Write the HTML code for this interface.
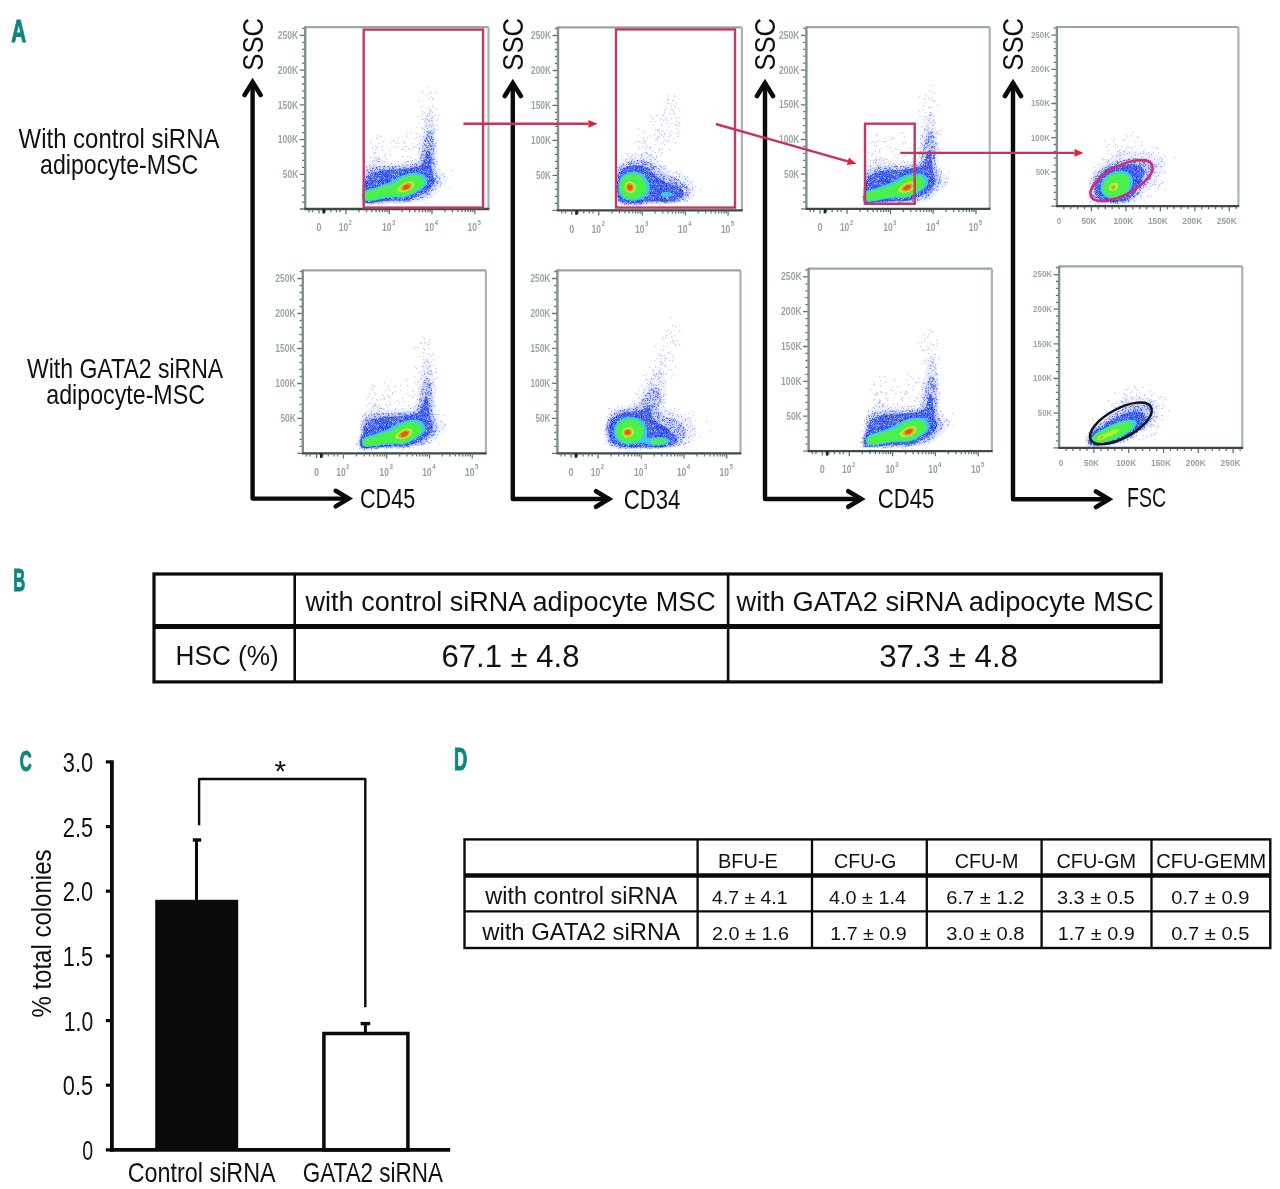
<!DOCTYPE html>
<html><head><meta charset="utf-8"><title>Figure</title>
<style>html,body{margin:0;padding:0;background:#fff;}svg{display:block;}
text{font-family:"Liberation Sans", Arial, Helvetica, sans-serif;}</style></head>
<body><svg width="1280" height="1189" viewBox="0 0 1280 1189">
<rect width="1280" height="1189" fill="#fff"/>
<defs>
<pattern id="pl0" patternUnits="userSpaceOnUse" width="29" height="23">
<rect width="29" height="23" fill="#eef0fd"/>
<path d="M23 21h1v1h-1zM2 0h1v1h-1zM5 1h1v1h-1zM6 22h1v1h-1zM5 21h1v1h-1zM23 6h1v1h-1zM25 3h1v1h-1zM16 7h1v1h-1zM1 0h1v1h-1zM2 20h1v1h-1zM9 15h1v1h-1zM12 13h1v1h-1zM18 5h1v1h-1zM13 10h1v1h-1zM7 4h1v1h-1zM4 17h1v1h-1zM20 10h1v1h-1zM21 0h1v1h-1zM0 5h1v1h-1zM3 16h1v1h-1zM13 11h1v1h-1zM11 8h1v1h-1zM25 5h1v1h-1zM14 2h1v1h-1zM12 13h1v1h-1zM12 15h1v1h-1zM19 11h1v1h-1zM17 21h1v1h-1zM5 21h1v1h-1zM21 4h1v1h-1zM21 13h1v1h-1zM27 14h1v1h-1zM22 5h1v1h-1zM8 6h1v1h-1zM9 11h1v1h-1zM18 17h1v1h-1zM18 6h1v1h-1zM20 16h1v1h-1zM25 15h1v1h-1zM8 5h1v1h-1z" fill="#9aa6f4"/>
</pattern>
<pattern id="pl1" patternUnits="userSpaceOnUse" width="27" height="21">
<rect width="27" height="21" fill="#c3cbf8"/>
<path d="M10 19h1v1h-1zM22 14h1v1h-1zM22 0h1v1h-1zM17 4h1v1h-1zM0 15h1v1h-1zM18 11h1v1h-1zM6 19h1v1h-1zM22 14h1v1h-1zM24 17h1v1h-1zM11 1h1v1h-1zM25 6h1v1h-1zM20 14h1v1h-1zM8 13h1v1h-1zM23 7h1v1h-1zM10 3h1v1h-1zM2 12h1v1h-1zM16 1h1v1h-1zM22 14h1v1h-1zM17 16h1v1h-1zM10 14h1v1h-1zM24 1h1v1h-1zM12 10h1v1h-1zM10 6h1v1h-1zM3 11h1v1h-1zM5 14h1v1h-1zM18 4h1v1h-1zM21 0h1v1h-1zM7 10h1v1h-1zM16 13h1v1h-1zM23 2h1v1h-1zM4 19h1v1h-1zM7 10h1v1h-1zM14 20h1v1h-1zM15 11h1v1h-1zM10 15h1v1h-1zM10 16h1v1h-1zM3 10h1v1h-1zM16 8h1v1h-1zM25 14h1v1h-1zM5 0h1v1h-1zM21 12h1v1h-1zM4 11h1v1h-1zM1 3h1v1h-1zM20 4h1v1h-1zM4 0h1v1h-1zM20 15h1v1h-1zM8 14h1v1h-1zM15 8h1v1h-1zM25 20h1v1h-1zM24 7h1v1h-1zM12 6h1v1h-1zM5 19h1v1h-1zM6 1h1v1h-1zM22 8h1v1h-1zM15 0h1v1h-1zM4 7h1v1h-1zM23 15h1v1h-1zM26 7h1v1h-1zM26 10h1v1h-1zM16 10h1v1h-1zM26 1h1v1h-1zM16 1h1v1h-1zM13 6h1v1h-1zM26 11h1v1h-1zM16 1h1v1h-1zM21 19h1v1h-1zM9 17h1v1h-1zM21 11h1v1h-1zM26 15h1v1h-1zM1 15h1v1h-1zM14 0h1v1h-1zM9 19h1v1h-1zM1 1h1v1h-1zM2 17h1v1h-1zM7 17h1v1h-1zM5 15h1v1h-1zM19 2h1v1h-1zM5 17h1v1h-1zM16 20h1v1h-1zM23 17h1v1h-1zM13 14h1v1h-1zM3 5h1v1h-1zM1 11h1v1h-1zM8 10h1v1h-1zM11 18h1v1h-1zM13 7h1v1h-1zM8 8h1v1h-1zM22 5h1v1h-1zM15 10h1v1h-1zM26 12h1v1h-1z" fill="#6a7af0"/>
<path d="M12 13h1v1h-1zM8 11h1v1h-1zM14 13h1v1h-1zM16 19h1v1h-1zM4 19h1v1h-1zM15 2h1v1h-1zM19 16h1v1h-1zM2 8h1v1h-1zM16 17h1v1h-1zM11 14h1v1h-1zM25 1h1v1h-1zM10 18h1v1h-1zM8 19h1v1h-1zM19 20h1v1h-1zM23 1h1v1h-1zM2 3h1v1h-1zM2 13h1v1h-1zM4 11h1v1h-1zM9 1h1v1h-1zM13 18h1v1h-1zM15 4h1v1h-1zM10 1h1v1h-1zM23 18h1v1h-1zM17 12h1v1h-1zM4 0h1v1h-1zM8 3h1v1h-1zM5 18h1v1h-1zM5 16h1v1h-1zM22 18h1v1h-1zM25 19h1v1h-1zM11 6h1v1h-1zM6 11h1v1h-1zM22 7h1v1h-1zM3 0h1v1h-1zM3 4h1v1h-1zM7 1h1v1h-1zM9 2h1v1h-1zM9 8h1v1h-1zM7 19h1v1h-1zM6 17h1v1h-1z" fill="#f4f6fe"/>
</pattern>
<pattern id="pbl" patternUnits="userSpaceOnUse" width="25" height="19">
<rect width="25" height="19" fill="#4f6ef0"/>
<path d="M16 10h1v1h-1zM5 0h1v1h-1zM3 12h1v1h-1zM16 15h1v1h-1zM18 6h1v1h-1zM10 8h1v1h-1zM3 10h1v1h-1zM6 8h1v1h-1zM24 9h1v1h-1zM17 10h1v1h-1zM14 11h1v1h-1zM7 5h1v1h-1zM21 2h1v1h-1zM9 16h1v1h-1zM11 8h1v1h-1zM19 4h1v1h-1zM10 18h1v1h-1zM12 10h1v1h-1zM0 6h1v1h-1zM19 3h1v1h-1zM7 0h1v1h-1zM12 11h1v1h-1zM13 11h1v1h-1zM3 17h1v1h-1zM5 18h1v1h-1zM11 16h1v1h-1zM2 1h1v1h-1zM21 2h1v1h-1zM8 11h1v1h-1zM14 11h1v1h-1zM3 3h1v1h-1zM24 16h1v1h-1zM11 17h1v1h-1zM0 3h1v1h-1zM8 12h1v1h-1zM8 7h1v1h-1zM5 10h1v1h-1zM19 13h1v1h-1zM24 9h1v1h-1zM17 14h1v1h-1zM4 5h1v1h-1zM14 8h1v1h-1zM11 2h1v1h-1zM16 12h1v1h-1zM20 7h1v1h-1zM21 12h1v1h-1zM20 18h1v1h-1zM17 6h1v1h-1zM11 14h1v1h-1zM13 12h1v1h-1zM4 14h1v1h-1zM14 10h1v1h-1zM12 5h1v1h-1zM16 13h1v1h-1zM11 6h1v1h-1zM8 9h1v1h-1zM12 10h1v1h-1zM16 6h1v1h-1zM4 9h1v1h-1zM15 8h1v1h-1zM8 5h1v1h-1zM19 17h1v1h-1zM14 17h1v1h-1zM12 3h1v1h-1zM0 6h1v1h-1zM0 2h1v1h-1zM5 3h1v1h-1zM13 0h1v1h-1zM11 7h1v1h-1zM21 16h1v1h-1zM3 3h1v1h-1zM16 18h1v1h-1zM9 16h1v1h-1zM16 4h1v1h-1zM2 0h1v1h-1zM9 5h1v1h-1zM3 8h1v1h-1zM8 3h1v1h-1zM4 12h1v1h-1zM17 11h1v1h-1zM16 14h1v1h-1zM1 9h1v1h-1zM7 10h1v1h-1zM21 15h1v1h-1zM22 11h1v1h-1zM21 3h1v1h-1zM2 16h1v1h-1zM24 16h1v1h-1zM10 10h1v1h-1zM3 8h1v1h-1zM17 12h1v1h-1zM2 15h1v1h-1zM0 14h1v1h-1zM22 15h1v1h-1zM2 5h1v1h-1zM10 17h1v1h-1zM21 0h1v1h-1zM6 9h1v1h-1zM7 8h1v1h-1zM9 11h1v1h-1zM19 12h1v1h-1zM16 10h1v1h-1zM7 1h1v1h-1zM4 3h1v1h-1zM10 9h1v1h-1zM12 9h1v1h-1zM10 3h1v1h-1zM16 17h1v1h-1zM2 2h1v1h-1zM18 17h1v1h-1z" fill="#2440e0"/>
<path d="M15 2h1v1h-1zM0 6h1v1h-1zM9 16h1v1h-1zM16 8h1v1h-1zM4 12h1v1h-1zM8 8h1v1h-1zM21 3h1v1h-1zM3 17h1v1h-1zM23 2h1v1h-1zM3 2h1v1h-1zM10 7h1v1h-1zM19 17h1v1h-1zM1 9h1v1h-1zM23 0h1v1h-1zM15 17h1v1h-1zM13 17h1v1h-1zM17 9h1v1h-1zM9 6h1v1h-1zM19 3h1v1h-1zM12 13h1v1h-1zM2 1h1v1h-1zM20 0h1v1h-1zM21 18h1v1h-1zM18 8h1v1h-1zM17 7h1v1h-1zM1 12h1v1h-1zM2 0h1v1h-1zM5 11h1v1h-1zM8 5h1v1h-1zM21 15h1v1h-1zM2 7h1v1h-1zM12 2h1v1h-1zM23 8h1v1h-1zM16 7h1v1h-1zM18 11h1v1h-1zM19 11h1v1h-1zM9 0h1v1h-1zM15 0h1v1h-1zM3 8h1v1h-1zM18 15h1v1h-1zM6 13h1v1h-1zM13 7h1v1h-1zM17 13h1v1h-1zM5 4h1v1h-1zM21 6h1v1h-1zM4 4h1v1h-1zM17 6h1v1h-1zM24 12h1v1h-1zM17 3h1v1h-1zM0 0h1v1h-1zM17 13h1v1h-1zM17 4h1v1h-1zM3 7h1v1h-1zM22 5h1v1h-1zM23 4h1v1h-1zM5 4h1v1h-1zM19 4h1v1h-1zM1 13h1v1h-1zM18 8h1v1h-1zM9 11h1v1h-1z" fill="#b4c0f8"/>
</pattern>
</defs>
<text x="11.15" y="42.0" font-size="31.1" font-weight="bold" textLength="14.9" lengthAdjust="spacingAndGlyphs" fill="#0f8580" stroke="#0f8580" stroke-width="1.1">A</text>
<text x="13.35" y="591.0" font-size="30.7" font-weight="bold" textLength="12.0" lengthAdjust="spacingAndGlyphs" fill="#0f8580" stroke="#0f8580" stroke-width="1.1">B</text>
<text x="19.65" y="770.8" font-size="30.2" font-weight="bold" textLength="12.0" lengthAdjust="spacingAndGlyphs" fill="#0f8580" stroke="#0f8580" stroke-width="1.1">C</text>
<text x="453.95" y="770.0" font-size="31.1" font-weight="bold" textLength="13.3" lengthAdjust="spacingAndGlyphs" fill="#0f8580" stroke="#0f8580" stroke-width="1.1">D</text>
<text x="18.60" y="147.5" font-size="28.3" textLength="200.8" lengthAdjust="spacingAndGlyphs" fill="#111">With control siRNA</text>
<text x="40.10" y="174.1" font-size="28.3" textLength="158.1" lengthAdjust="spacingAndGlyphs" fill="#111">adipocyte-MSC</text>
<text x="27.00" y="377.5" font-size="28.3" textLength="196.2" lengthAdjust="spacingAndGlyphs" fill="#111">With GATA2 siRNA</text>
<text x="46.25" y="403.8" font-size="28.3" textLength="158.7" lengthAdjust="spacingAndGlyphs" fill="#111">adipocyte-MSC</text>
<path d="M252.6 81.5 V498.6 H349.2" fill="none" stroke="#0a0a0a" stroke-width="4.4" stroke-linejoin="round"/>
<path d="M244.6 95.0 L252.6 82.1 L260.6 95.0" fill="none" stroke="#0a0a0a" stroke-width="4.6" stroke-linecap="round" stroke-linejoin="miter"/>
<path d="M335.7 490.8 L348.6 498.6 L335.7 506.4" fill="none" stroke="#0a0a0a" stroke-width="4.6" stroke-linecap="round" stroke-linejoin="miter"/>
<text x="360.00" y="508.3" font-size="28.3" textLength="55.2" lengthAdjust="spacingAndGlyphs" fill="#111">CD45</text>
<text transform="translate(263.00 70.70) rotate(-90)" font-size="29.6" textLength="52.7" lengthAdjust="spacingAndGlyphs" fill="#111">SSC</text>
<path d="M512.8 82.5 V499.0 H609.5" fill="none" stroke="#0a0a0a" stroke-width="4.4" stroke-linejoin="round"/>
<path d="M504.8 96.0 L512.8 83.1 L520.8 96.0" fill="none" stroke="#0a0a0a" stroke-width="4.6" stroke-linecap="round" stroke-linejoin="miter"/>
<path d="M596.0 491.2 L608.9 499.0 L596.0 506.8" fill="none" stroke="#0a0a0a" stroke-width="4.6" stroke-linecap="round" stroke-linejoin="miter"/>
<text x="623.80" y="509.2" font-size="28.3" textLength="56.5" lengthAdjust="spacingAndGlyphs" fill="#111">CD34</text>
<text transform="translate(522.80 70.70) rotate(-90)" font-size="29.6" textLength="52.7" lengthAdjust="spacingAndGlyphs" fill="#111">SSC</text>
<path d="M765.0 82.5 V499.0 H861.8" fill="none" stroke="#0a0a0a" stroke-width="4.4" stroke-linejoin="round"/>
<path d="M757.0 96.0 L765.0 83.1 L773.0 96.0" fill="none" stroke="#0a0a0a" stroke-width="4.6" stroke-linecap="round" stroke-linejoin="miter"/>
<path d="M848.3 491.2 L861.2 499.0 L848.3 506.8" fill="none" stroke="#0a0a0a" stroke-width="4.6" stroke-linecap="round" stroke-linejoin="miter"/>
<text x="877.80" y="507.5" font-size="28.3" textLength="56.5" lengthAdjust="spacingAndGlyphs" fill="#111">CD45</text>
<text transform="translate(775.00 70.70) rotate(-90)" font-size="29.6" textLength="52.7" lengthAdjust="spacingAndGlyphs" fill="#111">SSC</text>
<path d="M1013.0 82.5 V499.3 H1109.5" fill="none" stroke="#0a0a0a" stroke-width="4.4" stroke-linejoin="round"/>
<path d="M1005.0 96.0 L1013.0 83.1 L1021.0 96.0" fill="none" stroke="#0a0a0a" stroke-width="4.6" stroke-linecap="round" stroke-linejoin="miter"/>
<path d="M1096.0 491.5 L1108.9 499.3 L1096.0 507.1" fill="none" stroke="#0a0a0a" stroke-width="4.6" stroke-linecap="round" stroke-linejoin="miter"/>
<text x="1127.00" y="507.3" font-size="28.3" textLength="39.2" lengthAdjust="spacingAndGlyphs" fill="#111">FSC</text>
<text transform="translate(1022.80 70.70) rotate(-90)" font-size="29.6" textLength="52.7" lengthAdjust="spacingAndGlyphs" fill="#111">SSC</text>
<path d="M376.2 204.3L374.2 204.5L372.2 204.6L370.2 204.7L368.2 204.8L366.2 204.8L364.2 204.4L363.2 203.7L362.2 202.2L361.7 201.2L361.3 199.2L361.3 197.2L361.3 195.2L361.4 193.2L361.7 191.2L362.2 189.2L362.3 188.2L362.4 186.2L362.5 184.2L362.5 182.2L362.6 180.2L362.6 178.2L362.8 176.2L363.0 174.2L363.2 172.8L363.4 171.2L363.9 169.2L364.3 168.2L365.2 166.4L366.2 165.4L367.2 164.6L368.2 164.0L369.3 163.2L370.5 162.2L371.6 161.2L372.4 160.2L373.2 159.0L374.2 157.2L374.7 156.2L375.2 155.2L377.2 154.8L378.1 156.2L378.8 157.2L379.6 158.2L380.8 159.2L382.2 160.1L383.2 160.5L385.2 161.2L386.2 161.4L388.2 161.6L390.2 161.7L392.2 161.7L394.2 161.6L396.2 161.5L398.2 161.4L400.2 161.3L402.2 161.2L403.2 161.2L405.2 161.0L407.2 160.9L409.2 160.7L411.2 160.5L413.1 160.2L414.2 159.8L415.3 159.2L416.4 158.2L417.2 156.8L417.7 155.2L418.2 153.3L418.4 152.2L418.7 150.2L419.0 148.2L419.2 146.8L419.4 145.2L419.7 143.2L420.1 141.2L420.3 140.2L420.6 138.2L421.0 136.2L421.2 135.2L421.6 133.2L422.1 131.2L422.3 130.2L422.7 128.2L423.2 126.2L423.4 125.2L423.9 123.2L424.2 122.0L424.7 120.2L425.2 118.3L425.6 117.2L426.2 115.3L426.7 114.2L427.2 113.1L428.2 111.7L429.2 111.0L430.2 111.2L431.2 112.3L432.1 114.2L432.5 115.2L433.1 117.2L433.3 118.2L433.8 120.2L434.2 122.2L434.4 123.2L434.7 125.2L435.1 127.2L435.2 128.2L435.6 130.2L435.8 132.2L436.1 134.2L436.2 135.2L436.4 137.2L436.6 139.2L436.8 141.2L437.0 143.2L437.1 145.2L437.1 147.2L437.2 149.2L437.2 150.2L437.3 152.2L437.3 154.2L437.3 156.2L437.4 158.2L437.5 160.2L437.8 162.2L438.1 164.2L438.3 165.2L439.0 167.2L439.5 168.2L440.2 169.3L441.2 170.6L442.2 171.6L443.2 172.4L444.2 173.3L445.3 174.2L446.4 175.2L447.2 176.4L447.8 178.2L447.5 180.2L447.1 181.2L446.2 182.6L445.2 183.9L444.2 185.0L443.2 186.1L442.2 187.1L441.2 188.0L440.2 189.0L439.2 189.9L438.2 190.9L437.2 191.9L436.2 192.8L435.2 193.8L434.2 194.8L433.2 195.7L432.2 196.6L431.2 197.5L430.2 198.2L428.7 199.2L427.2 200.0L426.2 200.4L424.2 201.0L423.2 201.2L421.2 201.6L419.2 201.9L417.4 202.2L416.2 202.4L414.2 202.8L412.2 203.0L410.9 203.2L409.2 203.4L407.2 203.6L405.2 203.8L403.2 203.9L401.2 203.9L399.2 203.9L397.2 203.9L395.2 203.9L393.2 203.8L391.2 203.7L389.2 203.7L387.2 203.7L385.2 203.8L383.2 203.9L381.2 204.0L379.2 204.1L377.2 204.2L376.2 204.3Z" fill="url(#pl0)"/>
<path d="M377.2 203.2L375.2 203.5L373.2 203.7L371.2 203.8L369.2 203.9L367.2 204.0L365.2 203.9L363.8 203.2L362.9 202.2L362.2 200.2L362.0 199.2L361.8 197.2L361.9 195.2L362.2 193.2L362.3 192.2L362.6 190.2L363.0 188.2L363.2 187.0L363.3 185.2L363.4 183.2L363.5 181.2L363.6 179.2L363.7 177.2L363.9 175.2L364.2 173.7L364.7 172.2L365.2 170.9L366.2 169.8L367.3 169.2L369.2 168.4L370.2 168.0L372.2 167.3L373.2 167.0L375.2 166.4L376.4 166.2L378.2 165.9L380.2 165.8L382.2 165.7L384.2 165.7L386.2 165.7L388.2 165.6L390.2 165.6L392.2 165.5L394.2 165.4L396.2 165.3L398.2 165.2L399.2 165.2L401.2 165.1L403.2 164.9L405.2 164.7L407.2 164.6L409.2 164.4L410.6 164.2L412.2 164.0L414.2 163.6L415.7 163.2L417.2 162.5L418.2 161.7L419.2 160.4L419.8 159.2L420.2 158.1L420.7 156.2L421.1 154.2L421.2 153.2L421.5 151.2L421.9 149.2L422.2 147.3L422.4 146.2L422.8 144.2L423.2 142.4L423.5 141.2L424.0 139.2L424.3 138.2L424.9 136.2L425.3 135.2L426.1 133.2L426.6 132.2L427.2 131.2L428.2 130.1L429.9 130.2L430.8 131.2L431.4 132.2L432.1 134.2L432.4 135.2L433.0 137.2L433.2 138.3L433.6 140.2L433.9 142.2L434.1 144.2L434.2 145.2L434.4 147.2L434.5 149.2L434.6 151.2L434.7 153.2L434.7 155.2L434.8 157.2L434.8 159.2L434.9 161.2L435.0 163.2L435.2 165.2L435.3 166.2L435.7 168.2L436.2 170.2L436.6 171.2L437.2 172.9L437.9 174.2L438.6 175.2L439.2 176.2L440.2 177.9L440.6 179.2L440.4 181.2L439.9 182.2L439.2 183.4L438.2 184.7L437.2 185.9L436.2 187.0L435.2 188.1L434.2 189.2L433.3 190.2L432.4 191.2L431.5 192.2L430.5 193.2L429.4 194.2L428.2 195.2L427.2 195.9L426.2 196.5L424.9 197.2L423.2 198.0L422.2 198.3L420.2 199.0L419.2 199.3L417.2 200.0L416.2 200.3L414.2 200.8L412.8 201.2L411.2 201.6L409.2 201.9L407.4 202.2L406.2 202.4L404.2 202.5L402.2 202.6L400.2 202.7L398.2 202.6L396.2 202.6L394.2 202.5L392.2 202.4L390.2 202.4L388.2 202.4L386.2 202.5L384.2 202.6L382.2 202.8L380.2 203.0L378.2 203.1L377.2 203.2Z" fill="url(#pl1)"/>
<path d="M376.2 202.2L374.2 202.5L372.2 202.7L370.2 202.9L368.2 203.0L366.2 203.0L364.2 202.4L363.3 201.2L362.9 200.2L362.6 198.2L362.5 196.2L362.6 194.2L363.0 192.2L363.3 191.2L363.8 189.2L364.2 187.6L364.6 186.2L364.9 184.2L365.1 182.2L365.2 180.6L365.5 179.2L366.1 177.2L366.7 176.2L367.7 175.2L369.2 174.2L370.2 173.7L371.2 173.2L373.2 172.4L374.2 172.0L376.2 171.4L377.2 171.2L379.2 170.8L381.2 170.5L383.2 170.2L384.2 170.1L386.2 170.0L388.2 169.8L390.2 169.7L392.2 169.5L394.2 169.4L396.2 169.3L397.8 169.2L399.2 169.1L401.2 168.9L403.2 168.7L405.2 168.4L407.0 168.2L408.2 168.0L410.2 167.7L412.2 167.5L414.2 167.2L415.2 167.1L417.2 166.7L418.8 166.2L420.2 165.5L421.2 164.8L422.2 163.7L423.2 162.2L423.7 161.2L424.2 159.7L424.6 158.2L425.1 156.2L425.4 155.2L425.9 153.2L426.2 152.2L427.1 150.2L428.2 149.3L429.3 150.2L429.9 152.2L430.2 153.4L430.4 155.2L430.6 157.2L430.7 159.2L430.9 161.2L431.0 163.2L431.2 164.6L431.4 166.2L431.8 168.2L432.1 170.2L432.4 171.2L432.8 173.2L433.2 174.6L433.7 176.2L434.2 177.7L434.6 179.2L434.7 181.2L434.2 182.7L433.5 184.2L432.8 185.2L432.1 186.2L431.2 187.2L430.2 188.4L429.2 189.4L428.2 190.3L427.2 191.2L425.8 192.2L424.3 193.2L423.2 193.8L422.2 194.4L420.4 195.2L419.2 195.8L418.2 196.2L416.2 197.1L415.2 197.5L413.5 198.2L412.2 198.7L410.8 199.2L409.2 199.7L407.2 200.2L406.2 200.4L404.2 200.6L402.2 200.8L400.2 200.8L398.2 200.8L396.2 200.6L394.2 200.5L392.2 200.5L390.2 200.5L388.2 200.7L386.2 200.9L384.2 201.1L383.2 201.2L381.2 201.5L379.2 201.8L377.2 202.1L376.2 202.2Z" fill="url(#pbl)"/>
<path d="M364 203h1.3v1.3h-1.3zM425 202h1.3v1.3h-1.3zM385 204h1.3v1.3h-1.3zM452 170h1.3v1.3h-1.3zM405 162h1.3v1.3h-1.3zM372 161h1.3v1.3h-1.3zM443 173h1.3v1.3h-1.3zM361 199h1.3v1.3h-1.3zM435 193h1.3v1.3h-1.3zM449 187h1.3v1.3h-1.3zM363 202h1.3v1.3h-1.3zM431 196h1.3v1.3h-1.3zM435 164h1.3v1.3h-1.3zM382 203h1.3v1.3h-1.3zM385 204h1.3v1.3h-1.3zM402 164h1.3v1.3h-1.3zM365 161h1.3v1.3h-1.3zM363 176h1.3v1.3h-1.3zM443 173h1.3v1.3h-1.3zM362 188h1.3v1.3h-1.3zM396 203h1.3v1.3h-1.3zM369 204h1.3v1.3h-1.3zM366 166h1.3v1.3h-1.3zM423 142h1.3v1.3h-1.3zM362 172h1.3v1.3h-1.3zM436 163h1.3v1.3h-1.3zM436 142h1.3v1.3h-1.3zM419 143h1.3v1.3h-1.3zM428 125h1.3v1.3h-1.3zM362 185h1.3v1.3h-1.3zM420 156h1.3v1.3h-1.3zM362 202h1.3v1.3h-1.3zM369 167h1.3v1.3h-1.3zM374 160h1.3v1.3h-1.3zM437 129h1.3v1.3h-1.3zM440 184h1.3v1.3h-1.3zM371 204h1.3v1.3h-1.3zM361 190h1.3v1.3h-1.3zM362 187h1.3v1.3h-1.3zM441 174h1.3v1.3h-1.3zM424 112h1.3v1.3h-1.3zM424 129h1.3v1.3h-1.3zM433 137h1.3v1.3h-1.3zM377 146h1.3v1.3h-1.3zM435 146h1.3v1.3h-1.3zM393 141h1.3v1.3h-1.3zM409 149h1.3v1.3h-1.3zM419 123h1.3v1.3h-1.3zM378 143h1.3v1.3h-1.3zM379 159h1.3v1.3h-1.3zM426 122h1.3v1.3h-1.3zM416 133h1.3v1.3h-1.3zM412 143h1.3v1.3h-1.3zM429 110h1.3v1.3h-1.3zM431 111h1.3v1.3h-1.3zM434 128h1.3v1.3h-1.3zM381 146h1.3v1.3h-1.3zM432 98h1.3v1.3h-1.3zM402 156h1.3v1.3h-1.3zM429 125h1.3v1.3h-1.3zM425 119h1.3v1.3h-1.3zM429 109h1.3v1.3h-1.3zM431 92h1.3v1.3h-1.3zM384 161h1.3v1.3h-1.3zM416 137h1.3v1.3h-1.3zM421 119h1.3v1.3h-1.3zM427 94h1.3v1.3h-1.3zM424 129h1.3v1.3h-1.3zM374 157h1.3v1.3h-1.3zM422 118h1.3v1.3h-1.3zM433 134h1.3v1.3h-1.3zM375 149h1.3v1.3h-1.3zM433 107h1.3v1.3h-1.3zM426 116h1.3v1.3h-1.3zM405 146h1.3v1.3h-1.3zM408 148h1.3v1.3h-1.3zM428 107h1.3v1.3h-1.3zM435 92h1.3v1.3h-1.3zM380 136h1.3v1.3h-1.3zM419 134h1.3v1.3h-1.3zM431 125h1.3v1.3h-1.3zM429 127h1.3v1.3h-1.3zM398 137h1.3v1.3h-1.3zM385 157h1.3v1.3h-1.3zM397 141h1.3v1.3h-1.3zM432 123h1.3v1.3h-1.3zM436 120h1.3v1.3h-1.3zM422 128h1.3v1.3h-1.3zM414 138h1.3v1.3h-1.3zM432 131h1.3v1.3h-1.3zM378 161h1.3v1.3h-1.3zM422 111h1.3v1.3h-1.3zM378 159h1.3v1.3h-1.3zM406 136h1.3v1.3h-1.3zM406 146h1.3v1.3h-1.3zM428 130h1.3v1.3h-1.3zM407 156h1.3v1.3h-1.3zM425 118h1.3v1.3h-1.3zM428 98h1.3v1.3h-1.3zM398 143h1.3v1.3h-1.3zM369 143h1.3v1.3h-1.3zM410 157h1.3v1.3h-1.3zM432 117h1.3v1.3h-1.3zM434 132h1.3v1.3h-1.3zM437 118h1.3v1.3h-1.3zM393 140h1.3v1.3h-1.3zM428 87h1.3v1.3h-1.3zM394 146h1.3v1.3h-1.3zM419 136h1.3v1.3h-1.3zM435 114h1.3v1.3h-1.3zM397 146h1.3v1.3h-1.3zM402 149h1.3v1.3h-1.3zM422 113h1.3v1.3h-1.3zM432 120h1.3v1.3h-1.3zM406 134h1.3v1.3h-1.3zM403 141h1.3v1.3h-1.3zM390 142h1.3v1.3h-1.3zM429 124h1.3v1.3h-1.3zM377 161h1.3v1.3h-1.3zM372 147h1.3v1.3h-1.3zM436 129h1.3v1.3h-1.3zM418 100h1.3v1.3h-1.3zM435 188h1.3v1.3h-1.3zM376 160h1.3v1.3h-1.3zM417 116h1.3v1.3h-1.3zM422 138h1.3v1.3h-1.3zM375 146h1.3v1.3h-1.3zM412 146h1.3v1.3h-1.3zM417 144h1.3v1.3h-1.3zM386 159h1.3v1.3h-1.3zM401 149h1.3v1.3h-1.3zM432 105h1.3v1.3h-1.3zM377 137h1.3v1.3h-1.3zM413 147h1.3v1.3h-1.3zM390 155h1.3v1.3h-1.3zM376 147h1.3v1.3h-1.3zM433 131h1.3v1.3h-1.3zM389 150h1.3v1.3h-1.3zM415 146h1.3v1.3h-1.3zM433 130h1.3v1.3h-1.3zM395 143h1.3v1.3h-1.3zM406 134h1.3v1.3h-1.3zM432 112h1.3v1.3h-1.3zM373 165h1.3v1.3h-1.3zM383 141h1.3v1.3h-1.3zM375 164h1.3v1.3h-1.3zM384 155h1.3v1.3h-1.3zM430 109h1.3v1.3h-1.3zM385 153h1.3v1.3h-1.3zM370 157h1.3v1.3h-1.3zM404 141h1.3v1.3h-1.3zM416 127h1.3v1.3h-1.3zM421 115h1.3v1.3h-1.3zM437 140h1.3v1.3h-1.3zM432 132h1.3v1.3h-1.3zM402 164h1.3v1.3h-1.3zM374 153h1.3v1.3h-1.3zM376 158h1.3v1.3h-1.3zM438 115h1.3v1.3h-1.3zM403 147h1.3v1.3h-1.3zM405 151h1.3v1.3h-1.3zM436 108h1.3v1.3h-1.3zM426 125h1.3v1.3h-1.3zM421 106h1.3v1.3h-1.3zM426 131h1.3v1.3h-1.3zM418 147h1.3v1.3h-1.3zM434 115h1.3v1.3h-1.3zM432 99h1.3v1.3h-1.3zM370 141h1.3v1.3h-1.3zM436 125h1.3v1.3h-1.3zM410 132h1.3v1.3h-1.3zM375 152h1.3v1.3h-1.3zM378 157h1.3v1.3h-1.3zM377 135h1.3v1.3h-1.3zM431 96h1.3v1.3h-1.3zM429 92h1.3v1.3h-1.3zM421 127h1.3v1.3h-1.3zM382 150h1.3v1.3h-1.3zM415 159h1.3v1.3h-1.3zM423 119h1.3v1.3h-1.3zM424 129h1.3v1.3h-1.3zM372 148h1.3v1.3h-1.3zM373 152h1.3v1.3h-1.3zM430 110h1.3v1.3h-1.3zM433 125h1.3v1.3h-1.3zM433 116h1.3v1.3h-1.3zM431 126h1.3v1.3h-1.3zM410 132h1.3v1.3h-1.3zM404 143h1.3v1.3h-1.3zM422 92h1.3v1.3h-1.3zM376 166h1.3v1.3h-1.3zM376 138h1.3v1.3h-1.3z" fill="#8492f2" fill-opacity="0.45"/>
<path d="M422 173h1.3v1.3h-1.3zM369 187h1.3v1.3h-1.3zM428 167h1.3v1.3h-1.3zM368 182h1.3v1.3h-1.3zM372 181h1.3v1.3h-1.3zM423 169h1.3v1.3h-1.3zM429 194h1.3v1.3h-1.3zM375 201h1.3v1.3h-1.3zM408 199h1.3v1.3h-1.3zM386 180h1.3v1.3h-1.3zM378 171h1.3v1.3h-1.3zM382 183h1.3v1.3h-1.3zM426 171h1.3v1.3h-1.3zM409 198h1.3v1.3h-1.3zM368 172h1.3v1.3h-1.3zM363 190h1.3v1.3h-1.3zM396 178h1.3v1.3h-1.3zM432 189h1.3v1.3h-1.3zM378 203h1.3v1.3h-1.3zM430 183h1.3v1.3h-1.3zM429 162h1.3v1.3h-1.3zM366 188h1.3v1.3h-1.3zM430 169h1.3v1.3h-1.3zM391 199h1.3v1.3h-1.3zM425 172h1.3v1.3h-1.3zM429 177h1.3v1.3h-1.3zM436 181h1.3v1.3h-1.3zM399 173h1.3v1.3h-1.3zM410 171h1.3v1.3h-1.3zM391 178h1.3v1.3h-1.3zM363 195h1.3v1.3h-1.3zM375 179h1.3v1.3h-1.3zM409 174h1.3v1.3h-1.3zM372 187h1.3v1.3h-1.3zM428 186h1.3v1.3h-1.3zM425 186h1.3v1.3h-1.3zM402 170h1.3v1.3h-1.3zM382 183h1.3v1.3h-1.3zM385 173h1.3v1.3h-1.3zM393 175h1.3v1.3h-1.3zM382 169h1.3v1.3h-1.3zM400 175h1.3v1.3h-1.3zM411 195h1.3v1.3h-1.3zM375 176h1.3v1.3h-1.3zM422 173h1.3v1.3h-1.3zM376 201h1.3v1.3h-1.3zM428 132h1.3v1.3h-1.3zM379 166h1.3v1.3h-1.3zM385 177h1.3v1.3h-1.3zM427 175h1.3v1.3h-1.3zM425 174h1.3v1.3h-1.3zM381 179h1.3v1.3h-1.3zM384 175h1.3v1.3h-1.3zM386 177h1.3v1.3h-1.3zM422 160h1.3v1.3h-1.3zM401 177h1.3v1.3h-1.3zM405 172h1.3v1.3h-1.3zM434 181h1.3v1.3h-1.3zM425 162h1.3v1.3h-1.3zM421 154h1.3v1.3h-1.3zM429 186h1.3v1.3h-1.3zM389 173h1.3v1.3h-1.3zM429 160h1.3v1.3h-1.3zM379 201h1.3v1.3h-1.3zM385 176h1.3v1.3h-1.3zM404 173h1.3v1.3h-1.3zM364 200h1.3v1.3h-1.3zM387 181h1.3v1.3h-1.3zM386 175h1.3v1.3h-1.3zM382 182h1.3v1.3h-1.3zM389 173h1.3v1.3h-1.3zM389 168h1.3v1.3h-1.3zM422 165h1.3v1.3h-1.3zM380 169h1.3v1.3h-1.3zM386 179h1.3v1.3h-1.3zM365 185h1.3v1.3h-1.3zM382 177h1.3v1.3h-1.3zM368 202h1.3v1.3h-1.3zM407 173h1.3v1.3h-1.3zM367 176h1.3v1.3h-1.3zM425 186h1.3v1.3h-1.3zM398 172h1.3v1.3h-1.3zM404 167h1.3v1.3h-1.3zM426 187h1.3v1.3h-1.3zM372 171h1.3v1.3h-1.3zM426 152h1.3v1.3h-1.3zM394 179h1.3v1.3h-1.3zM428 163h1.3v1.3h-1.3zM423 173h1.3v1.3h-1.3zM426 157h1.3v1.3h-1.3zM365 181h1.3v1.3h-1.3zM364 190h1.3v1.3h-1.3zM395 177h1.3v1.3h-1.3zM420 172h1.3v1.3h-1.3zM428 161h1.3v1.3h-1.3zM395 166h1.3v1.3h-1.3zM387 170h1.3v1.3h-1.3zM430 156h1.3v1.3h-1.3zM379 182h1.3v1.3h-1.3zM428 187h1.3v1.3h-1.3zM400 171h1.3v1.3h-1.3zM403 170h1.3v1.3h-1.3zM426 192h1.3v1.3h-1.3zM366 170h1.3v1.3h-1.3zM373 202h1.3v1.3h-1.3zM405 170h1.3v1.3h-1.3zM409 200h1.3v1.3h-1.3zM434 181h1.3v1.3h-1.3zM392 175h1.3v1.3h-1.3zM374 173h1.3v1.3h-1.3zM387 178h1.3v1.3h-1.3zM375 186h1.3v1.3h-1.3zM410 172h1.3v1.3h-1.3zM403 169h1.3v1.3h-1.3zM428 171h1.3v1.3h-1.3zM427 188h1.3v1.3h-1.3zM403 173h1.3v1.3h-1.3zM375 186h1.3v1.3h-1.3zM388 174h1.3v1.3h-1.3zM366 190h1.3v1.3h-1.3zM416 164h1.3v1.3h-1.3zM370 178h1.3v1.3h-1.3zM418 168h1.3v1.3h-1.3zM376 200h1.3v1.3h-1.3zM426 166h1.3v1.3h-1.3zM427 188h1.3v1.3h-1.3zM365 190h1.3v1.3h-1.3zM430 149h1.3v1.3h-1.3zM434 179h1.3v1.3h-1.3zM381 202h1.3v1.3h-1.3zM391 176h1.3v1.3h-1.3zM382 169h1.3v1.3h-1.3zM432 153h1.3v1.3h-1.3zM412 168h1.3v1.3h-1.3zM386 172h1.3v1.3h-1.3zM385 181h1.3v1.3h-1.3zM431 160h1.3v1.3h-1.3zM370 187h1.3v1.3h-1.3zM389 171h1.3v1.3h-1.3zM376 186h1.3v1.3h-1.3zM430 162h1.3v1.3h-1.3zM388 200h1.3v1.3h-1.3zM436 176h1.3v1.3h-1.3zM425 191h1.3v1.3h-1.3zM371 170h1.3v1.3h-1.3zM428 190h1.3v1.3h-1.3zM431 183h1.3v1.3h-1.3zM393 199h1.3v1.3h-1.3zM424 163h1.3v1.3h-1.3zM395 197h1.3v1.3h-1.3zM424 163h1.3v1.3h-1.3zM421 191h1.3v1.3h-1.3zM364 192h1.3v1.3h-1.3zM379 182h1.3v1.3h-1.3zM373 188h1.3v1.3h-1.3zM433 148h1.3v1.3h-1.3zM431 136h1.3v1.3h-1.3zM427 147h1.3v1.3h-1.3zM429 137h1.3v1.3h-1.3zM428 141h1.3v1.3h-1.3zM428 145h1.3v1.3h-1.3zM426 138h1.3v1.3h-1.3zM431 145h1.3v1.3h-1.3zM370 170h1.3v1.3h-1.3zM379 169h1.3v1.3h-1.3zM421 166h1.3v1.3h-1.3zM428 136h1.3v1.3h-1.3zM424 165h1.3v1.3h-1.3zM425 172h1.3v1.3h-1.3zM431 149h1.3v1.3h-1.3zM432 133h1.3v1.3h-1.3zM376 167h1.3v1.3h-1.3zM433 163h1.3v1.3h-1.3zM430 131h1.3v1.3h-1.3zM432 139h1.3v1.3h-1.3zM422 169h1.3v1.3h-1.3zM424 150h1.3v1.3h-1.3zM425 167h1.3v1.3h-1.3zM427 166h1.3v1.3h-1.3zM427 183h1.3v1.3h-1.3zM426 153h1.3v1.3h-1.3zM426 139h1.3v1.3h-1.3zM427 193h1.3v1.3h-1.3zM375 179h1.3v1.3h-1.3zM433 139h1.3v1.3h-1.3zM423 154h1.3v1.3h-1.3zM370 180h1.3v1.3h-1.3zM432 159h1.3v1.3h-1.3zM423 160h1.3v1.3h-1.3zM422 197h1.3v1.3h-1.3zM376 168h1.3v1.3h-1.3zM434 145h1.3v1.3h-1.3zM427 135h1.3v1.3h-1.3zM425 145h1.3v1.3h-1.3zM424 144h1.3v1.3h-1.3zM430 159h1.3v1.3h-1.3zM429 152h1.3v1.3h-1.3zM381 176h1.3v1.3h-1.3zM397 176h1.3v1.3h-1.3zM384 166h1.3v1.3h-1.3zM429 144h1.3v1.3h-1.3zM432 143h1.3v1.3h-1.3zM424 140h1.3v1.3h-1.3zM430 145h1.3v1.3h-1.3zM431 146h1.3v1.3h-1.3zM431 163h1.3v1.3h-1.3zM392 166h1.3v1.3h-1.3zM430 139h1.3v1.3h-1.3z" fill="#2644e4" fill-opacity="0.6"/>
<path d="M375.2 200.2L373.2 200.6L371.2 200.9L369.2 201.1L367.2 201.1L365.2 200.8L364.2 199.6L363.8 198.2L363.7 196.2L363.9 194.2L364.2 192.9L365.1 191.2L366.2 190.2L367.2 189.7L368.8 189.2L370.2 188.8L372.2 188.3L373.2 188.0L375.2 187.4L376.2 187.1L378.2 186.4L379.2 186.1L381.2 185.3L382.2 185.0L384.2 184.2L385.2 183.8L387.0 183.2L388.2 182.7L389.4 182.2L391.2 181.3L392.2 180.8L393.3 180.2L394.9 179.2L396.2 178.4L397.2 177.9L398.4 177.2L400.2 176.3L401.2 175.9L402.9 175.2L404.2 174.7L405.8 174.2L407.2 173.8L409.2 173.3L410.2 173.1L412.2 172.9L414.2 172.7L416.2 172.7L418.2 172.9L420.1 173.2L421.2 173.5L423.0 174.2L424.2 175.0L425.2 176.1L425.9 177.2L426.4 178.2L427.1 180.2L427.2 181.2L427.2 182.2L426.5 184.2L425.9 185.2L425.0 186.2L424.0 187.2L422.8 188.2L421.5 189.2L420.2 190.1L419.2 190.7L418.2 191.3L416.7 192.2L415.2 193.0L414.2 193.6L413.0 194.2L411.2 195.1L410.2 195.5L408.4 196.2L407.2 196.6L405.2 197.1L404.2 197.2L402.2 197.5L400.2 197.5L398.2 197.4L396.2 197.2L395.2 197.2L393.9 197.2L392.2 197.3L390.2 197.5L388.2 197.8L386.2 198.1L385.2 198.3L383.2 198.7L381.2 199.0L380.2 199.2L378.2 199.7L376.2 200.1L375.2 200.2Z" fill="#3cc8f0"/>
<path d="M369.2 200.2L367.2 200.3L366.2 200.1L364.9 199.2L364.2 197.2L364.2 196.2L364.3 195.2L364.9 193.2L365.5 192.2L367.0 191.2L368.2 190.8L370.2 190.3L371.2 190.0L373.2 189.6L374.8 189.2L376.2 188.8L378.2 188.3L379.2 187.9L381.2 187.3L382.2 187.0L384.2 186.4L385.2 186.1L387.2 185.5L388.3 185.2L390.2 184.5L391.3 184.2L393.2 183.4L394.2 182.9L395.6 182.2L397.2 181.2L398.2 180.5L399.2 179.9L400.2 179.2L401.8 178.2L403.2 177.4L404.2 176.9L406.0 176.2L407.2 175.8L409.2 175.2L410.2 175.0L412.2 174.8L414.2 174.8L416.2 175.0L417.2 175.2L419.2 175.9L420.2 176.4L421.3 177.2L422.4 178.2L423.2 179.2L424.1 181.2L424.0 183.2L423.2 185.0L422.3 186.2L421.2 187.2L420.2 188.1L419.2 188.9L418.2 189.6L417.2 190.3L415.8 191.2L414.2 192.2L413.2 192.8L412.2 193.3L410.4 194.2L409.2 194.7L407.9 195.2L406.2 195.7L404.2 196.1L403.2 196.2L401.2 196.3L399.2 196.3L398.2 196.2L396.2 196.1L394.2 196.1L392.2 196.2L391.2 196.3L389.2 196.6L387.2 196.9L385.5 197.2L384.2 197.4L382.2 197.8L380.3 198.2L379.2 198.4L377.2 198.9L375.7 199.2L374.2 199.5L372.2 199.9L370.2 200.1L369.2 200.2Z" fill="#4cf04c"/>
<path d="M407.2 191.4L405.2 191.9L403.2 192.2L401.2 192.0L399.2 191.5L398.2 191.0L397.1 190.2L397.2 188.8L398.2 187.5L399.2 186.6L400.2 185.7L401.2 184.9L402.2 184.2L403.7 183.2L405.2 182.4L406.2 181.9L408.2 181.4L410.2 181.2L412.2 181.7L413.2 182.4L414.2 184.2L413.8 186.2L413.1 187.2L412.2 188.3L411.1 189.2L409.7 190.2L408.2 191.0L407.2 191.4Z" fill="#b4f232"/>
<path d="M406.2 190.4L404.2 190.8L402.2 190.5L401.2 190.1L400.4 188.2L401.2 187.0L402.2 185.9L403.2 185.1L404.6 184.2L406.2 183.4L407.2 183.1L409.2 182.9L410.4 183.2L411.6 184.2L411.7 186.2L411.2 187.2L410.2 188.3L409.0 189.2L407.2 190.1L406.2 190.4Z" fill="#f09424"/>
<path d="M406.2 189.3L404.2 189.4L403.2 189.0L403.0 187.2L403.8 186.2L405.2 185.2L406.2 184.8L408.2 184.4L409.7 185.2L409.4 187.2L408.4 188.2L407.2 188.9L406.2 189.3Z" fill="#e2561e"/>
<path d="M305.2 27.2 H488.5" fill="none" stroke="#98a6a6" stroke-width="2.2"/>
<path d="M488.5 27.2 V209.0" fill="none" stroke="#a9b5b5" stroke-width="2.2"/>
<path d="M305.2 26.4 V209.0" fill="none" stroke="#7f9090" stroke-width="2.4"/>
<path d="M304.2 209.0 H489.3" fill="none" stroke="#3c4a4a" stroke-width="2.3"/>
<path d="M299.7 209.0h4.5M302.0 202.1h2.2M302.0 195.1h2.2M302.0 188.2h2.2M302.0 181.2h2.2M299.7 174.3h4.5M302.0 167.3h2.2M302.0 160.4h2.2M302.0 153.4h2.2M302.0 146.5h2.2M299.7 139.6h4.5M302.0 132.6h2.2M302.0 125.7h2.2M302.0 118.7h2.2M302.0 111.8h2.2M299.7 104.8h4.5M302.0 97.9h2.2M302.0 90.9h2.2M302.0 84.0h2.2M302.0 77.0h2.2M299.7 70.1h4.5M302.0 63.2h2.2M302.0 56.2h2.2M302.0 49.3h2.2M302.0 42.3h2.2M299.7 35.4h4.5M302.0 28.4h2.2" stroke="#667474" stroke-width="1.3" fill="none"/>
<text x="298.2" y="177.9" font-size="10.8" text-anchor="end" textLength="15.375" lengthAdjust="spacingAndGlyphs" fill="#9aa6a6" font-weight="bold">50K</text>
<text x="298.2" y="143.2" font-size="10.8" text-anchor="end" textLength="20.5" lengthAdjust="spacingAndGlyphs" fill="#9aa6a6" font-weight="bold">100K</text>
<text x="298.2" y="108.5" font-size="10.8" text-anchor="end" textLength="20.5" lengthAdjust="spacingAndGlyphs" fill="#9aa6a6" font-weight="bold">150K</text>
<text x="298.2" y="73.8" font-size="10.8" text-anchor="end" textLength="20.5" lengthAdjust="spacingAndGlyphs" fill="#9aa6a6" font-weight="bold">200K</text>
<text x="298.2" y="39.1" font-size="10.8" text-anchor="end" textLength="20.5" lengthAdjust="spacingAndGlyphs" fill="#9aa6a6" font-weight="bold">250K</text>
<path d="M318.9 210.0v3.5M345.9 210.0v4.2M358.9 210.0v2.2M366.5 210.0v2.2M371.9 210.0v2.2M376.1 210.0v2.2M379.6 210.0v2.2M382.5 210.0v2.2M385.0 210.0v2.2M387.2 210.0v2.2M389.2 210.0v4.2M402.1 210.0v2.2M409.6 210.0v2.2M415.0 210.0v2.2M419.1 210.0v2.2M422.5 210.0v2.2M425.4 210.0v2.2M427.9 210.0v2.2M430.1 210.0v2.2M432.0 210.0v4.2M444.9 210.0v2.2M452.4 210.0v2.2M457.8 210.0v2.2M461.9 210.0v2.2M465.3 210.0v2.2M468.1 210.0v2.2M470.6 210.0v2.2M472.8 210.0v2.2M474.8 210.0v4.2M308.9 210.0v2.2M312.5 210.0v2.2M325.4 210.0v2.2M330.9 210.0v2.2M336.4 210.0v2.2M340.0 210.0v2.2" stroke="#667474" stroke-width="1.3" fill="none"/>
<path d="M323.7 209.0v4.5" stroke="#1a2626" stroke-width="2.6"/>
<text x="318.9" y="231.3" font-size="10.5" text-anchor="middle" textLength="5" lengthAdjust="spacingAndGlyphs" fill="#95a1a1" font-weight="bold">0</text>
<text x="338.7" y="231.3" font-size="10.5" textLength="9.4" lengthAdjust="spacingAndGlyphs" fill="#95a1a1" font-weight="bold">10</text>
<text x="348.6" y="224.8" font-size="8" textLength="3.4" lengthAdjust="spacingAndGlyphs" fill="#95a1a1" font-weight="bold">2</text>
<text x="382.0" y="231.3" font-size="10.5" textLength="9.4" lengthAdjust="spacingAndGlyphs" fill="#95a1a1" font-weight="bold">10</text>
<text x="391.9" y="224.8" font-size="8" textLength="3.4" lengthAdjust="spacingAndGlyphs" fill="#95a1a1" font-weight="bold">3</text>
<text x="424.8" y="231.3" font-size="10.5" textLength="9.4" lengthAdjust="spacingAndGlyphs" fill="#95a1a1" font-weight="bold">10</text>
<text x="434.7" y="224.8" font-size="8" textLength="3.4" lengthAdjust="spacingAndGlyphs" fill="#95a1a1" font-weight="bold">4</text>
<text x="467.6" y="231.3" font-size="10.5" textLength="9.4" lengthAdjust="spacingAndGlyphs" fill="#95a1a1" font-weight="bold">10</text>
<text x="477.5" y="224.8" font-size="8" textLength="3.4" lengthAdjust="spacingAndGlyphs" fill="#95a1a1" font-weight="bold">5</text>
<path d="M371.8 449.3L369.8 449.5L367.8 449.6L365.8 449.6L363.8 449.4L362.8 449.2L360.8 448.6L359.8 448.1L358.8 447.2L357.8 445.8L357.3 444.3L357.4 442.3L357.8 440.4L358.0 439.3L358.6 437.3L358.9 436.3L359.2 434.3L359.4 432.3L359.5 430.3L359.6 428.3L359.8 426.3L359.9 425.3L360.1 423.3L360.4 421.3L360.8 419.9L361.3 418.3L361.8 417.0L362.7 415.3L363.4 414.3L364.3 413.3L365.3 412.3L366.5 411.3L367.7 410.3L368.8 409.3L369.7 408.3L370.6 407.3L371.2 406.3L371.8 405.3L372.8 403.3L373.4 402.3L374.8 401.7L375.8 402.8L376.8 404.3L377.6 405.3L378.7 406.3L379.8 407.0L380.8 407.5L382.8 408.3L383.8 408.5L385.8 408.8L387.8 408.9L389.8 408.9L391.8 408.8L393.8 408.7L395.8 408.6L397.8 408.5L399.8 408.4L401.8 408.3L402.8 408.3L404.8 408.1L406.8 408.0L408.8 407.8L410.8 407.4L411.8 407.2L413.4 406.3L414.4 405.3L415.0 404.3L415.8 402.3L416.0 401.3L416.4 399.3L416.7 397.3L416.9 396.3L417.1 394.3L417.4 392.3L417.7 390.3L417.9 389.3L418.2 387.3L418.6 385.3L418.8 384.3L419.2 382.3L419.6 380.3L419.9 379.3L420.3 377.3L420.7 375.3L421.0 374.3L421.4 372.3L421.8 370.8L422.2 369.3L422.7 367.3L423.0 366.3L423.6 364.3L423.9 363.3L424.7 361.3L425.2 360.3L425.8 359.3L427.3 358.3L427.9 358.3L429.0 359.3L429.8 360.6L430.4 362.3L430.8 363.4L431.3 365.3L431.8 367.3L432.0 368.3L432.4 370.3L432.7 372.3L432.9 373.3L433.2 375.3L433.5 377.3L433.8 379.2L434.0 380.3L434.2 382.3L434.4 384.3L434.6 386.3L434.8 388.3L434.9 389.3L435.0 391.3L435.1 393.3L435.2 395.3L435.3 397.3L435.3 399.3L435.3 401.3L435.4 403.3L435.4 405.3L435.5 407.3L435.7 409.3L435.9 410.3L436.3 412.3L436.8 413.8L437.5 415.3L438.1 416.3L438.8 417.3L439.8 418.4L440.8 419.3L442.0 420.3L443.2 421.3L444.3 422.3L445.1 423.3L445.8 425.3L445.6 427.3L444.8 428.9L443.9 430.3L443.1 431.3L442.2 432.3L441.2 433.3L440.2 434.3L439.2 435.3L438.1 436.3L437.0 437.3L436.0 438.3L435.0 439.3L433.9 440.3L432.9 441.3L431.8 442.2L430.8 443.1L429.8 443.8L428.8 444.4L426.8 445.3L425.8 445.6L423.8 446.1L422.8 446.3L420.8 446.6L418.8 446.9L416.8 447.1L414.9 447.3L413.8 447.5L411.8 447.7L409.8 448.0L407.8 448.1L405.8 448.3L404.8 448.3L402.8 448.5L400.8 448.6L398.8 448.6L396.8 448.6L394.8 448.5L392.8 448.5L390.8 448.4L388.8 448.4L386.8 448.5L384.8 448.5L382.8 448.7L380.8 448.8L378.8 448.9L376.8 449.1L374.8 449.2L372.8 449.3L371.8 449.3Z" fill="url(#pl0)"/>
<path d="M374.8 448.4L372.8 448.6L370.8 448.7L368.8 448.8L366.8 448.9L364.8 448.8L362.8 448.5L361.8 448.1L360.3 447.3L359.3 446.3L358.8 445.3L358.5 443.3L358.7 441.3L358.9 440.3L359.5 438.3L359.9 437.3L360.5 435.3L360.8 434.0L361.0 432.3L361.2 430.3L361.3 428.3L361.5 426.3L361.7 424.3L361.9 423.3L362.4 421.3L362.8 420.3L363.8 418.5L364.8 417.4L365.8 416.6L366.8 416.0L368.2 415.3L369.8 414.6L370.8 414.3L372.8 413.7L374.8 413.3L375.8 413.2L377.8 413.0L379.8 412.9L381.8 412.9L383.8 412.9L385.8 412.8L387.8 412.8L389.8 412.7L391.8 412.6L393.8 412.5L395.8 412.4L397.8 412.3L398.8 412.3L400.8 412.1L402.8 412.0L404.8 411.8L406.8 411.6L408.8 411.4L409.8 411.2L411.8 410.9L413.8 410.4L414.8 409.9L415.8 409.3L416.8 408.2L417.8 406.4L418.2 405.3L418.7 403.3L418.9 402.3L419.2 400.3L419.5 398.3L419.8 396.8L420.0 395.3L420.4 393.3L420.8 391.4L421.0 390.3L421.5 388.3L421.8 387.1L422.3 385.3L422.8 383.7L423.3 382.3L423.8 381.0L424.6 379.3L425.3 378.3L426.3 377.3L427.8 377.2L428.8 378.3L429.3 379.3L429.8 380.4L430.4 382.3L430.8 383.7L431.2 385.3L431.5 387.3L431.8 388.9L432.0 390.3L432.2 392.3L432.4 394.3L432.5 396.3L432.6 398.3L432.7 400.3L432.7 402.3L432.8 404.3L432.8 406.3L432.8 407.3L432.9 409.3L433.1 411.3L433.3 413.3L433.7 415.3L433.9 416.3L434.5 418.3L434.9 419.3L435.8 421.2L436.5 422.3L437.2 423.3L437.8 424.3L438.6 426.3L438.4 428.3L437.8 429.6L436.8 431.1L435.9 432.3L435.0 433.3L434.1 434.3L433.2 435.3L432.3 436.3L431.4 437.3L430.5 438.3L429.6 439.3L428.6 440.3L427.5 441.3L426.2 442.3L424.8 443.1L423.8 443.6L422.0 444.3L420.8 444.7L418.8 445.2L417.8 445.4L415.8 445.8L413.8 446.2L412.8 446.3L410.8 446.7L408.8 447.0L406.8 447.2L405.4 447.3L403.8 447.5L401.8 447.6L399.8 447.7L397.8 447.7L395.8 447.6L393.8 447.6L391.8 447.5L389.8 447.5L387.8 447.5L385.8 447.6L383.8 447.8L381.8 447.9L379.8 448.0L377.8 448.2L375.8 448.3L374.8 448.4Z" fill="url(#pl1)"/>
<path d="M376.8 447.3L374.8 447.5L372.8 447.7L370.8 447.9L368.8 448.0L366.8 448.0L364.8 447.9L362.8 447.5L361.8 447.1L360.8 446.3L359.8 444.3L359.7 443.3L359.8 442.3L360.2 440.3L360.8 438.7L361.4 437.3L361.9 436.3L362.8 434.3L363.2 433.3L363.7 431.3L363.8 430.3L364.1 428.3L364.5 426.3L364.8 425.2L365.7 423.3L366.6 422.3L367.8 421.3L368.8 420.7L369.8 420.2L371.8 419.4L372.8 419.0L374.8 418.5L375.8 418.2L377.8 417.9L379.8 417.6L381.8 417.4L382.8 417.3L384.8 417.1L386.8 417.0L388.8 416.8L390.8 416.7L392.8 416.6L394.8 416.5L396.8 416.3L397.8 416.2L399.8 416.0L401.8 415.8L403.8 415.5L405.7 415.3L406.8 415.1L408.8 414.9L410.8 414.6L412.8 414.3L413.8 414.2L415.8 413.7L417.0 413.3L418.8 412.3L419.8 411.4L420.7 410.3L421.2 409.3L421.8 408.0L422.4 406.3L422.8 404.6L423.2 403.3L423.7 401.3L423.9 400.3L424.7 398.3L425.3 397.3L426.8 396.6L427.7 398.3L427.9 399.3L428.3 401.3L428.5 403.3L428.7 405.3L428.8 407.1L428.9 408.3L429.0 410.3L429.3 412.3L429.6 414.3L429.8 415.5L430.1 417.3L430.6 419.3L430.8 420.3L431.4 422.3L431.8 423.6L432.4 425.3L432.7 427.3L432.5 429.3L431.8 430.8L430.9 432.3L430.2 433.3L429.4 434.3L428.5 435.3L427.5 436.3L426.5 437.3L425.3 438.3L424.0 439.3L422.8 440.1L421.8 440.7L420.6 441.3L418.8 442.2L417.8 442.6L416.0 443.3L414.8 443.8L413.2 444.3L411.8 444.7L409.8 445.3L408.8 445.5L406.8 445.9L404.8 446.2L403.2 446.3L401.8 446.4L399.8 446.5L397.8 446.5L395.8 446.5L393.8 446.4L391.8 446.3L389.8 446.4L387.8 446.4L385.8 446.6L383.8 446.8L381.8 446.9L379.8 447.1L377.8 447.2L376.8 447.3Z" fill="url(#pbl)"/>
<path d="M432 382h1.3v1.3h-1.3zM418 394h1.3v1.3h-1.3zM419 400h1.3v1.3h-1.3zM365 414h1.3v1.3h-1.3zM365 413h1.3v1.3h-1.3zM434 406h1.3v1.3h-1.3zM356 444h1.3v1.3h-1.3zM387 406h1.3v1.3h-1.3zM358 440h1.3v1.3h-1.3zM440 421h1.3v1.3h-1.3zM357 444h1.3v1.3h-1.3zM413 447h1.3v1.3h-1.3zM403 449h1.3v1.3h-1.3zM377 448h1.3v1.3h-1.3zM369 449h1.3v1.3h-1.3zM362 414h1.3v1.3h-1.3zM401 449h1.3v1.3h-1.3zM433 384h1.3v1.3h-1.3zM398 448h1.3v1.3h-1.3zM356 443h1.3v1.3h-1.3zM420 378h1.3v1.3h-1.3zM444 415h1.3v1.3h-1.3zM409 447h1.3v1.3h-1.3zM404 412h1.3v1.3h-1.3zM359 440h1.3v1.3h-1.3zM359 448h1.3v1.3h-1.3zM364 415h1.3v1.3h-1.3zM361 449h1.3v1.3h-1.3zM431 437h1.3v1.3h-1.3zM359 448h1.3v1.3h-1.3zM395 409h1.3v1.3h-1.3zM384 450h1.3v1.3h-1.3zM434 414h1.3v1.3h-1.3zM438 410h1.3v1.3h-1.3zM371 450h1.3v1.3h-1.3zM413 408h1.3v1.3h-1.3zM408 405h1.3v1.3h-1.3zM445 424h1.3v1.3h-1.3zM387 411h1.3v1.3h-1.3zM439 443h1.3v1.3h-1.3zM435 389h1.3v1.3h-1.3zM414 376h1.3v1.3h-1.3zM422 337h1.3v1.3h-1.3zM423 356h1.3v1.3h-1.3zM423 352h1.3v1.3h-1.3zM427 353h1.3v1.3h-1.3zM434 405h1.3v1.3h-1.3zM433 365h1.3v1.3h-1.3zM372 385h1.3v1.3h-1.3zM421 366h1.3v1.3h-1.3zM437 377h1.3v1.3h-1.3zM432 383h1.3v1.3h-1.3zM427 368h1.3v1.3h-1.3zM397 400h1.3v1.3h-1.3zM416 368h1.3v1.3h-1.3zM421 391h1.3v1.3h-1.3zM438 414h1.3v1.3h-1.3zM425 343h1.3v1.3h-1.3zM400 390h1.3v1.3h-1.3zM375 394h1.3v1.3h-1.3zM423 359h1.3v1.3h-1.3zM434 392h1.3v1.3h-1.3zM414 348h1.3v1.3h-1.3zM369 393h1.3v1.3h-1.3zM433 379h1.3v1.3h-1.3zM388 385h1.3v1.3h-1.3zM394 386h1.3v1.3h-1.3zM432 353h1.3v1.3h-1.3zM406 380h1.3v1.3h-1.3zM372 386h1.3v1.3h-1.3zM430 370h1.3v1.3h-1.3zM409 395h1.3v1.3h-1.3zM383 398h1.3v1.3h-1.3zM407 385h1.3v1.3h-1.3zM431 370h1.3v1.3h-1.3zM433 400h1.3v1.3h-1.3zM428 348h1.3v1.3h-1.3zM399 402h1.3v1.3h-1.3zM418 381h1.3v1.3h-1.3zM387 388h1.3v1.3h-1.3zM415 367h1.3v1.3h-1.3zM427 367h1.3v1.3h-1.3zM417 347h1.3v1.3h-1.3zM433 359h1.3v1.3h-1.3zM414 394h1.3v1.3h-1.3zM368 396h1.3v1.3h-1.3zM430 370h1.3v1.3h-1.3zM431 373h1.3v1.3h-1.3zM383 408h1.3v1.3h-1.3zM418 388h1.3v1.3h-1.3zM428 344h1.3v1.3h-1.3zM429 354h1.3v1.3h-1.3zM435 371h1.3v1.3h-1.3zM367 405h1.3v1.3h-1.3zM389 390h1.3v1.3h-1.3zM435 368h1.3v1.3h-1.3zM430 365h1.3v1.3h-1.3zM432 397h1.3v1.3h-1.3zM428 362h1.3v1.3h-1.3zM420 342h1.3v1.3h-1.3zM379 405h1.3v1.3h-1.3zM372 389h1.3v1.3h-1.3zM376 399h1.3v1.3h-1.3zM434 386h1.3v1.3h-1.3zM376 412h1.3v1.3h-1.3zM427 373h1.3v1.3h-1.3zM367 398h1.3v1.3h-1.3zM412 397h1.3v1.3h-1.3zM429 378h1.3v1.3h-1.3zM427 344h1.3v1.3h-1.3zM380 399h1.3v1.3h-1.3zM433 402h1.3v1.3h-1.3zM418 372h1.3v1.3h-1.3zM427 360h1.3v1.3h-1.3zM371 398h1.3v1.3h-1.3zM374 413h1.3v1.3h-1.3zM370 388h1.3v1.3h-1.3zM430 374h1.3v1.3h-1.3zM385 390h1.3v1.3h-1.3zM389 401h1.3v1.3h-1.3zM382 395h1.3v1.3h-1.3zM429 339h1.3v1.3h-1.3zM424 349h1.3v1.3h-1.3zM412 390h1.3v1.3h-1.3zM385 404h1.3v1.3h-1.3zM380 408h1.3v1.3h-1.3zM435 378h1.3v1.3h-1.3zM387 395h1.3v1.3h-1.3zM379 408h1.3v1.3h-1.3zM429 371h1.3v1.3h-1.3zM381 413h1.3v1.3h-1.3zM436 372h1.3v1.3h-1.3zM392 392h1.3v1.3h-1.3zM432 374h1.3v1.3h-1.3zM392 393h1.3v1.3h-1.3zM384 382h1.3v1.3h-1.3zM402 398h1.3v1.3h-1.3zM420 370h1.3v1.3h-1.3zM389 397h1.3v1.3h-1.3zM384 397h1.3v1.3h-1.3zM421 342h1.3v1.3h-1.3zM433 354h1.3v1.3h-1.3zM417 381h1.3v1.3h-1.3zM414 382h1.3v1.3h-1.3zM424 338h1.3v1.3h-1.3zM419 356h1.3v1.3h-1.3zM374 386h1.3v1.3h-1.3zM388 396h1.3v1.3h-1.3zM390 404h1.3v1.3h-1.3zM377 406h1.3v1.3h-1.3zM423 362h1.3v1.3h-1.3zM420 343h1.3v1.3h-1.3zM384 399h1.3v1.3h-1.3zM428 342h1.3v1.3h-1.3zM382 394h1.3v1.3h-1.3zM374 392h1.3v1.3h-1.3zM417 399h1.3v1.3h-1.3zM425 376h1.3v1.3h-1.3zM424 371h1.3v1.3h-1.3zM377 412h1.3v1.3h-1.3zM430 356h1.3v1.3h-1.3zM400 385h1.3v1.3h-1.3zM428 370h1.3v1.3h-1.3zM369 403h1.3v1.3h-1.3zM428 370h1.3v1.3h-1.3zM403 401h1.3v1.3h-1.3zM378 409h1.3v1.3h-1.3zM402 408h1.3v1.3h-1.3zM406 393h1.3v1.3h-1.3zM385 404h1.3v1.3h-1.3zM423 348h1.3v1.3h-1.3zM412 396h1.3v1.3h-1.3zM416 404h1.3v1.3h-1.3zM376 399h1.3v1.3h-1.3zM412 406h1.3v1.3h-1.3zM431 361h1.3v1.3h-1.3zM413 391h1.3v1.3h-1.3zM395 391h1.3v1.3h-1.3zM374 404h1.3v1.3h-1.3zM425 359h1.3v1.3h-1.3zM377 400h1.3v1.3h-1.3zM424 342h1.3v1.3h-1.3zM371 410h1.3v1.3h-1.3z" fill="#8492f2" fill-opacity="0.45"/>
<path d="M428 408h1.3v1.3h-1.3zM380 431h1.3v1.3h-1.3zM375 431h1.3v1.3h-1.3zM406 445h1.3v1.3h-1.3zM390 421h1.3v1.3h-1.3zM387 423h1.3v1.3h-1.3zM423 434h1.3v1.3h-1.3zM434 419h1.3v1.3h-1.3zM387 428h1.3v1.3h-1.3zM434 434h1.3v1.3h-1.3zM370 429h1.3v1.3h-1.3zM428 407h1.3v1.3h-1.3zM384 425h1.3v1.3h-1.3zM375 433h1.3v1.3h-1.3zM432 431h1.3v1.3h-1.3zM385 422h1.3v1.3h-1.3zM420 440h1.3v1.3h-1.3zM427 422h1.3v1.3h-1.3zM417 439h1.3v1.3h-1.3zM368 431h1.3v1.3h-1.3zM403 444h1.3v1.3h-1.3zM377 433h1.3v1.3h-1.3zM426 438h1.3v1.3h-1.3zM364 432h1.3v1.3h-1.3zM368 447h1.3v1.3h-1.3zM422 393h1.3v1.3h-1.3zM420 441h1.3v1.3h-1.3zM387 422h1.3v1.3h-1.3zM381 446h1.3v1.3h-1.3zM391 424h1.3v1.3h-1.3zM373 428h1.3v1.3h-1.3zM376 429h1.3v1.3h-1.3zM361 441h1.3v1.3h-1.3zM379 425h1.3v1.3h-1.3zM363 447h1.3v1.3h-1.3zM425 414h1.3v1.3h-1.3zM371 448h1.3v1.3h-1.3zM389 422h1.3v1.3h-1.3zM432 435h1.3v1.3h-1.3zM416 418h1.3v1.3h-1.3zM366 417h1.3v1.3h-1.3zM401 421h1.3v1.3h-1.3zM378 447h1.3v1.3h-1.3zM407 446h1.3v1.3h-1.3zM428 412h1.3v1.3h-1.3zM430 410h1.3v1.3h-1.3zM383 446h1.3v1.3h-1.3zM371 419h1.3v1.3h-1.3zM423 415h1.3v1.3h-1.3zM427 428h1.3v1.3h-1.3zM421 419h1.3v1.3h-1.3zM424 436h1.3v1.3h-1.3zM382 419h1.3v1.3h-1.3zM413 442h1.3v1.3h-1.3zM388 415h1.3v1.3h-1.3zM367 420h1.3v1.3h-1.3zM426 402h1.3v1.3h-1.3zM377 422h1.3v1.3h-1.3zM362 447h1.3v1.3h-1.3zM407 415h1.3v1.3h-1.3zM406 417h1.3v1.3h-1.3zM394 422h1.3v1.3h-1.3zM423 422h1.3v1.3h-1.3zM403 419h1.3v1.3h-1.3zM372 431h1.3v1.3h-1.3zM375 427h1.3v1.3h-1.3zM364 449h1.3v1.3h-1.3zM424 403h1.3v1.3h-1.3zM390 445h1.3v1.3h-1.3zM377 433h1.3v1.3h-1.3zM391 445h1.3v1.3h-1.3zM401 446h1.3v1.3h-1.3zM388 427h1.3v1.3h-1.3zM360 441h1.3v1.3h-1.3zM362 444h1.3v1.3h-1.3zM372 429h1.3v1.3h-1.3zM376 448h1.3v1.3h-1.3zM423 443h1.3v1.3h-1.3zM382 427h1.3v1.3h-1.3zM380 423h1.3v1.3h-1.3zM419 419h1.3v1.3h-1.3zM386 447h1.3v1.3h-1.3zM373 430h1.3v1.3h-1.3zM429 432h1.3v1.3h-1.3zM420 442h1.3v1.3h-1.3zM426 394h1.3v1.3h-1.3zM394 425h1.3v1.3h-1.3zM423 411h1.3v1.3h-1.3zM388 446h1.3v1.3h-1.3zM391 425h1.3v1.3h-1.3zM421 412h1.3v1.3h-1.3zM432 422h1.3v1.3h-1.3zM425 399h1.3v1.3h-1.3zM407 443h1.3v1.3h-1.3zM394 416h1.3v1.3h-1.3zM421 444h1.3v1.3h-1.3zM432 430h1.3v1.3h-1.3zM422 415h1.3v1.3h-1.3zM374 417h1.3v1.3h-1.3zM391 425h1.3v1.3h-1.3zM403 447h1.3v1.3h-1.3zM360 443h1.3v1.3h-1.3zM373 423h1.3v1.3h-1.3zM399 413h1.3v1.3h-1.3zM385 445h1.3v1.3h-1.3zM391 423h1.3v1.3h-1.3zM434 431h1.3v1.3h-1.3zM418 411h1.3v1.3h-1.3zM427 422h1.3v1.3h-1.3zM417 409h1.3v1.3h-1.3zM433 416h1.3v1.3h-1.3zM428 428h1.3v1.3h-1.3zM378 426h1.3v1.3h-1.3zM384 416h1.3v1.3h-1.3zM371 434h1.3v1.3h-1.3zM366 448h1.3v1.3h-1.3zM422 414h1.3v1.3h-1.3zM422 418h1.3v1.3h-1.3zM404 422h1.3v1.3h-1.3zM375 422h1.3v1.3h-1.3zM368 422h1.3v1.3h-1.3zM414 412h1.3v1.3h-1.3zM390 426h1.3v1.3h-1.3zM416 441h1.3v1.3h-1.3zM407 445h1.3v1.3h-1.3zM373 433h1.3v1.3h-1.3zM369 418h1.3v1.3h-1.3zM425 439h1.3v1.3h-1.3zM364 435h1.3v1.3h-1.3zM423 420h1.3v1.3h-1.3zM423 406h1.3v1.3h-1.3zM375 448h1.3v1.3h-1.3zM425 435h1.3v1.3h-1.3zM430 416h1.3v1.3h-1.3zM380 426h1.3v1.3h-1.3zM380 419h1.3v1.3h-1.3zM418 441h1.3v1.3h-1.3zM426 409h1.3v1.3h-1.3zM363 433h1.3v1.3h-1.3zM426 408h1.3v1.3h-1.3zM395 424h1.3v1.3h-1.3zM423 405h1.3v1.3h-1.3zM412 415h1.3v1.3h-1.3zM424 434h1.3v1.3h-1.3zM422 418h1.3v1.3h-1.3zM424 415h1.3v1.3h-1.3zM372 426h1.3v1.3h-1.3zM427 392h1.3v1.3h-1.3zM420 419h1.3v1.3h-1.3zM390 417h1.3v1.3h-1.3zM383 423h1.3v1.3h-1.3zM425 425h1.3v1.3h-1.3zM387 420h1.3v1.3h-1.3zM405 420h1.3v1.3h-1.3zM425 424h1.3v1.3h-1.3zM420 420h1.3v1.3h-1.3zM408 444h1.3v1.3h-1.3zM389 417h1.3v1.3h-1.3zM364 447h1.3v1.3h-1.3zM420 437h1.3v1.3h-1.3zM403 419h1.3v1.3h-1.3zM369 432h1.3v1.3h-1.3zM421 407h1.3v1.3h-1.3zM367 447h1.3v1.3h-1.3zM419 439h1.3v1.3h-1.3zM385 427h1.3v1.3h-1.3zM363 435h1.3v1.3h-1.3zM386 426h1.3v1.3h-1.3zM391 418h1.3v1.3h-1.3zM411 418h1.3v1.3h-1.3zM386 420h1.3v1.3h-1.3zM363 427h1.3v1.3h-1.3zM421 444h1.3v1.3h-1.3zM366 428h1.3v1.3h-1.3zM432 424h1.3v1.3h-1.3zM392 417h1.3v1.3h-1.3zM431 420h1.3v1.3h-1.3zM399 445h1.3v1.3h-1.3zM382 428h1.3v1.3h-1.3zM386 425h1.3v1.3h-1.3zM366 433h1.3v1.3h-1.3zM373 446h1.3v1.3h-1.3zM423 419h1.3v1.3h-1.3zM420 418h1.3v1.3h-1.3zM424 434h1.3v1.3h-1.3zM428 428h1.3v1.3h-1.3zM360 444h1.3v1.3h-1.3zM363 435h1.3v1.3h-1.3zM396 444h1.3v1.3h-1.3zM425 400h1.3v1.3h-1.3zM429 385h1.3v1.3h-1.3zM424 382h1.3v1.3h-1.3zM425 399h1.3v1.3h-1.3zM425 399h1.3v1.3h-1.3zM361 442h1.3v1.3h-1.3zM408 418h1.3v1.3h-1.3zM375 419h1.3v1.3h-1.3zM429 405h1.3v1.3h-1.3zM433 434h1.3v1.3h-1.3zM427 425h1.3v1.3h-1.3zM418 405h1.3v1.3h-1.3zM423 405h1.3v1.3h-1.3zM426 433h1.3v1.3h-1.3zM367 447h1.3v1.3h-1.3zM425 397h1.3v1.3h-1.3zM412 441h1.3v1.3h-1.3zM367 447h1.3v1.3h-1.3zM425 393h1.3v1.3h-1.3zM394 419h1.3v1.3h-1.3zM428 391h1.3v1.3h-1.3zM362 429h1.3v1.3h-1.3zM430 393h1.3v1.3h-1.3zM428 387h1.3v1.3h-1.3zM420 406h1.3v1.3h-1.3zM419 419h1.3v1.3h-1.3zM378 419h1.3v1.3h-1.3zM421 404h1.3v1.3h-1.3zM422 389h1.3v1.3h-1.3zM428 398h1.3v1.3h-1.3zM382 422h1.3v1.3h-1.3zM386 422h1.3v1.3h-1.3zM429 403h1.3v1.3h-1.3zM383 428h1.3v1.3h-1.3zM427 400h1.3v1.3h-1.3zM421 406h1.3v1.3h-1.3zM427 408h1.3v1.3h-1.3zM422 407h1.3v1.3h-1.3zM420 401h1.3v1.3h-1.3zM399 414h1.3v1.3h-1.3zM419 415h1.3v1.3h-1.3zM392 414h1.3v1.3h-1.3zM429 387h1.3v1.3h-1.3zM425 396h1.3v1.3h-1.3zM373 419h1.3v1.3h-1.3zM429 384h1.3v1.3h-1.3zM385 429h1.3v1.3h-1.3zM430 383h1.3v1.3h-1.3zM430 394h1.3v1.3h-1.3zM427 384h1.3v1.3h-1.3zM418 408h1.3v1.3h-1.3zM423 400h1.3v1.3h-1.3zM427 399h1.3v1.3h-1.3zM425 398h1.3v1.3h-1.3zM425 406h1.3v1.3h-1.3z" fill="#2644e4" fill-opacity="0.6"/>
<path d="M371.8 446.3L369.8 446.5L367.8 446.6L365.8 446.5L364.5 446.3L362.8 445.5L362.0 444.3L361.8 443.3L361.8 442.3L362.5 440.3L363.1 439.3L363.9 438.3L365.3 437.3L366.8 436.6L367.8 436.2L369.8 435.6L371.0 435.3L372.8 434.7L374.3 434.3L375.8 433.7L377.1 433.3L378.8 432.6L379.9 432.3L381.8 431.5L382.8 431.2L384.8 430.4L385.8 430.0L387.5 429.3L388.8 428.7L389.8 428.2L391.4 427.3L392.8 426.4L393.8 425.8L394.8 425.3L396.6 424.3L397.8 423.7L398.8 423.3L400.8 422.4L401.8 422.0L403.8 421.4L404.8 421.1L406.8 420.6L408.5 420.3L409.8 420.1L411.8 419.9L413.8 419.9L415.8 420.0L417.7 420.3L418.8 420.5L420.8 421.3L421.8 421.9L422.8 422.8L423.8 424.2L424.4 425.3L424.8 426.3L425.3 428.3L425.0 430.3L424.6 431.3L423.8 432.5L422.8 433.7L421.8 434.6L420.8 435.4L419.6 436.3L418.1 437.3L416.8 438.1L415.8 438.7L414.8 439.3L413.1 440.3L411.8 441.0L410.8 441.5L409.0 442.3L407.8 442.8L406.2 443.3L404.8 443.7L402.8 444.1L400.8 444.3L399.6 444.3L398.4 444.3L396.8 444.3L394.8 444.2L392.8 444.1L390.8 444.2L388.8 444.3L387.8 444.4L385.8 444.6L383.8 444.9L381.8 445.1L380.5 445.3L378.8 445.5L376.8 445.8L374.8 446.0L372.8 446.2L371.8 446.3Z" fill="#3cc8f0"/>
<path d="M374.8 445.3L372.8 445.6L370.8 445.8L368.8 445.9L366.8 445.9L364.8 445.6L363.8 445.2L362.8 443.7L362.8 442.3L363.1 441.3L363.8 440.0L364.8 439.1L366.1 438.3L367.8 437.7L369.2 437.3L370.8 436.9L372.8 436.4L373.8 436.1L375.8 435.6L376.8 435.3L378.8 434.6L380.0 434.3L381.8 433.7L383.2 433.3L384.8 432.8L386.5 432.3L387.8 431.9L389.5 431.3L390.8 430.8L391.9 430.3L393.8 429.3L394.8 428.7L395.8 428.0L396.9 427.3L398.3 426.3L399.8 425.4L400.8 424.8L401.9 424.3L403.8 423.5L404.8 423.1L406.8 422.5L407.9 422.3L409.8 422.0L411.8 422.0L413.8 422.1L414.8 422.3L416.8 422.9L417.8 423.4L419.2 424.3L420.3 425.3L421.1 426.3L421.8 427.5L422.2 429.3L421.8 431.1L421.2 432.3L420.4 433.3L419.4 434.3L418.2 435.3L416.9 436.3L415.8 437.1L414.8 437.8L413.8 438.4L412.3 439.3L410.8 440.2L409.8 440.7L408.6 441.3L406.8 442.0L405.8 442.4L403.8 442.9L401.8 443.2L400.8 443.3L398.8 443.4L397.4 443.3L395.8 443.2L393.8 443.1L391.8 443.1L389.8 443.3L388.8 443.4L386.8 443.6L384.8 443.9L382.8 444.2L381.8 444.3L379.8 444.6L377.8 444.9L375.8 445.2L374.8 445.3Z" fill="#4cf04c"/>
<path d="M401.8 439.3L399.9 439.3L398.8 439.1L396.8 438.5L395.8 438.0L395.0 436.3L395.8 435.1L396.8 434.1L397.8 433.2L398.9 432.3L400.3 431.3L401.8 430.3L402.8 429.8L403.8 429.3L405.8 428.6L407.8 428.4L409.8 428.7L410.9 429.3L411.8 430.3L412.2 432.3L411.8 433.3L410.8 434.8L409.8 435.8L408.8 436.7L407.8 437.3L406.0 438.3L404.8 438.7L402.8 439.2L401.8 439.3Z" fill="#b4f232"/>
<path d="M404.8 437.5L402.8 437.9L400.8 437.9L399.1 437.3L398.3 436.3L398.8 434.7L399.8 433.5L400.8 432.6L401.8 431.9L402.8 431.3L404.8 430.4L405.8 430.2L407.8 430.2L408.8 430.6L409.8 431.9L409.8 433.0L409.2 434.3L408.4 435.3L407.1 436.3L405.8 437.1L404.8 437.5Z" fill="#f09424"/>
<path d="M403.8 436.6L401.8 436.5L400.8 435.8L400.8 434.8L401.8 433.4L402.8 432.7L403.8 432.1L405.8 431.6L407.7 432.3L407.9 433.3L407.5 434.3L406.5 435.3L404.8 436.3L403.8 436.6Z" fill="#e2561e"/>
<path d="M302.8 270.3 H485.9" fill="none" stroke="#98a6a6" stroke-width="2.2"/>
<path d="M485.9 270.3 V453.4" fill="none" stroke="#a9b5b5" stroke-width="2.2"/>
<path d="M302.8 269.5 V453.4" fill="none" stroke="#7f9090" stroke-width="2.4"/>
<path d="M301.8 453.4 H486.7" fill="none" stroke="#3c4a4a" stroke-width="2.3"/>
<path d="M297.3 453.4h4.5M299.6 446.4h2.2M299.6 439.4h2.2M299.6 432.4h2.2M299.6 425.4h2.2M297.3 418.4h4.5M299.6 411.4h2.2M299.6 404.4h2.2M299.6 397.4h2.2M299.6 390.5h2.2M297.3 383.5h4.5M299.6 376.5h2.2M299.6 369.5h2.2M299.6 362.5h2.2M299.6 355.5h2.2M297.3 348.5h4.5M299.6 341.5h2.2M299.6 334.5h2.2M299.6 327.5h2.2M299.6 320.5h2.2M297.3 313.5h4.5M299.6 306.5h2.2M299.6 299.5h2.2M299.6 292.5h2.2M299.6 285.5h2.2M297.3 278.5h4.5M299.6 271.5h2.2" stroke="#667474" stroke-width="1.3" fill="none"/>
<text x="295.8" y="422.1" font-size="10.8" text-anchor="end" textLength="15.375" lengthAdjust="spacingAndGlyphs" fill="#9aa6a6" font-weight="bold">50K</text>
<text x="295.8" y="387.1" font-size="10.8" text-anchor="end" textLength="20.5" lengthAdjust="spacingAndGlyphs" fill="#9aa6a6" font-weight="bold">100K</text>
<text x="295.8" y="352.2" font-size="10.8" text-anchor="end" textLength="20.5" lengthAdjust="spacingAndGlyphs" fill="#9aa6a6" font-weight="bold">150K</text>
<text x="295.8" y="317.2" font-size="10.8" text-anchor="end" textLength="20.5" lengthAdjust="spacingAndGlyphs" fill="#9aa6a6" font-weight="bold">200K</text>
<text x="295.8" y="282.2" font-size="10.8" text-anchor="end" textLength="20.5" lengthAdjust="spacingAndGlyphs" fill="#9aa6a6" font-weight="bold">250K</text>
<path d="M316.5 454.4v3.5M343.4 454.4v4.2M356.5 454.4v2.2M364.1 454.4v2.2M369.5 454.4v2.2M373.7 454.4v2.2M377.1 454.4v2.2M380.0 454.4v2.2M382.5 454.4v2.2M384.7 454.4v2.2M386.7 454.4v4.2M399.6 454.4v2.2M407.1 454.4v2.2M412.5 454.4v2.2M416.6 454.4v2.2M420.0 454.4v2.2M422.9 454.4v2.2M425.4 454.4v2.2M427.5 454.4v2.2M429.5 454.4v4.2M442.3 454.4v2.2M449.9 454.4v2.2M455.2 454.4v2.2M459.3 454.4v2.2M462.7 454.4v2.2M465.6 454.4v2.2M468.0 454.4v2.2M470.2 454.4v2.2M472.2 454.4v4.2M306.5 454.4v2.2M310.1 454.4v2.2M322.9 454.4v2.2M328.4 454.4v2.2M333.9 454.4v2.2M337.6 454.4v2.2" stroke="#667474" stroke-width="1.3" fill="none"/>
<path d="M321.3 453.4v4.5" stroke="#1a2626" stroke-width="2.6"/>
<text x="316.5" y="475.7" font-size="10.5" text-anchor="middle" textLength="5" lengthAdjust="spacingAndGlyphs" fill="#95a1a1" font-weight="bold">0</text>
<text x="336.2" y="475.7" font-size="10.5" textLength="9.4" lengthAdjust="spacingAndGlyphs" fill="#95a1a1" font-weight="bold">10</text>
<text x="346.1" y="469.2" font-size="8" textLength="3.4" lengthAdjust="spacingAndGlyphs" fill="#95a1a1" font-weight="bold">2</text>
<text x="379.5" y="475.7" font-size="10.5" textLength="9.4" lengthAdjust="spacingAndGlyphs" fill="#95a1a1" font-weight="bold">10</text>
<text x="389.4" y="469.2" font-size="8" textLength="3.4" lengthAdjust="spacingAndGlyphs" fill="#95a1a1" font-weight="bold">3</text>
<text x="422.3" y="475.7" font-size="10.5" textLength="9.4" lengthAdjust="spacingAndGlyphs" fill="#95a1a1" font-weight="bold">10</text>
<text x="432.2" y="469.2" font-size="8" textLength="3.4" lengthAdjust="spacingAndGlyphs" fill="#95a1a1" font-weight="bold">4</text>
<text x="465.0" y="475.7" font-size="10.5" textLength="9.4" lengthAdjust="spacingAndGlyphs" fill="#95a1a1" font-weight="bold">10</text>
<text x="474.9" y="469.2" font-size="8" textLength="3.4" lengthAdjust="spacingAndGlyphs" fill="#95a1a1" font-weight="bold">5</text>
<path d="M636.0 205.3L634.0 205.4L632.0 205.4L630.0 205.3L629.0 205.3L627.0 205.2L625.0 205.1L623.0 204.9L621.0 204.6L619.6 204.3L618.0 203.7L617.0 202.6L616.4 201.3L616.0 199.3L615.9 198.3L615.6 196.3L615.4 194.3L615.3 192.3L615.3 190.3L615.2 188.3L615.2 186.3L615.3 184.3L615.3 182.3L615.4 180.3L615.6 178.3L615.8 176.3L616.0 174.9L616.1 173.3L616.4 171.3L616.7 169.3L617.0 168.0L617.4 166.3L618.0 164.5L618.7 163.3L619.5 162.3L620.6 161.3L622.0 160.4L623.0 159.8L624.0 159.3L626.0 158.3L627.0 157.9L628.4 157.3L630.0 156.6L631.0 156.3L633.0 155.5L634.0 155.2L636.0 154.5L637.0 154.2L639.0 153.6L640.2 153.3L642.0 152.8L644.0 152.5L646.0 152.4L648.0 152.7L649.2 153.3L650.8 154.3L652.0 155.2L653.0 156.0L654.0 156.9L655.0 157.8L656.0 158.6L657.0 159.6L658.0 160.5L659.0 161.4L660.0 162.3L661.2 163.3L662.3 164.3L663.5 165.3L664.8 166.3L666.0 167.2L667.0 167.9L668.0 168.5L669.4 169.3L671.0 170.1L672.0 170.5L673.9 171.3L675.0 171.7L676.6 172.3L678.0 172.8L679.3 173.3L681.0 173.9L682.0 174.4L683.9 175.3L685.0 175.9L686.0 176.5L687.2 177.3L688.5 178.3L689.6 179.3L690.6 180.3L691.5 181.3L692.2 182.3L693.0 183.5L694.0 185.3L694.4 186.3L695.0 188.1L695.3 189.3L695.4 191.3L695.1 193.3L694.7 194.3L694.0 195.7L693.0 197.1L692.0 198.1L691.0 199.0L690.0 199.7L689.0 200.3L687.0 201.2L686.0 201.6L684.0 202.2L683.0 202.4L681.0 202.9L679.0 203.2L678.0 203.3L676.0 203.6L674.0 203.8L672.0 204.0L670.0 204.1L668.0 204.2L666.0 204.2L664.0 204.3L662.9 204.3L661.0 204.3L659.0 204.3L657.0 204.3L655.0 204.3L653.0 204.4L651.0 204.4L649.0 204.5L647.0 204.7L645.0 204.8L643.0 205.0L641.0 205.1L639.0 205.2L637.0 205.3L636.0 205.3Z" fill="url(#pl0)"/>
<path d="M637.0 204.3L635.0 204.4L633.0 204.5L631.0 204.5L629.0 204.4L628.0 204.3L626.0 204.2L624.0 204.0L622.0 203.7L620.4 203.3L619.0 202.9L618.0 202.1L617.1 200.3L616.8 199.3L616.5 197.3L616.3 195.3L616.1 193.3L616.1 191.3L616.0 189.3L616.0 187.4L616.0 187.1L616.0 185.3L616.1 183.3L616.1 181.3L616.2 179.3L616.4 177.3L616.7 175.3L617.0 173.4L617.2 172.3L617.7 170.3L618.0 169.3L619.0 167.3L619.9 166.3L621.0 165.4L622.0 164.8L623.0 164.2L624.7 163.3L626.0 162.7L627.0 162.3L629.0 161.6L630.1 161.3L632.0 160.8L634.0 160.5L635.4 160.3L637.0 160.2L639.0 160.1L641.0 160.2L642.0 160.3L644.0 160.6L646.0 161.1L647.0 161.4L649.0 162.2L650.0 162.7L651.2 163.3L652.9 164.3L654.0 165.0L655.0 165.7L656.0 166.5L657.0 167.3L658.2 168.3L659.4 169.3L660.7 170.3L662.0 171.3L663.0 172.0L664.0 172.7L665.0 173.3L666.9 174.3L668.0 174.9L669.0 175.3L671.0 176.2L672.0 176.6L673.6 177.3L675.0 177.9L676.0 178.3L678.0 179.3L679.0 179.8L680.0 180.4L681.4 181.3L682.8 182.3L684.0 183.2L685.0 184.1L686.0 185.1L687.0 186.1L687.9 187.3L688.6 188.3L689.1 189.3L689.7 191.3L689.7 193.3L689.0 195.2L688.3 196.3L687.5 197.3L686.3 198.3L685.0 199.2L684.0 199.8L683.0 200.3L681.0 201.1L680.0 201.4L678.0 201.9L676.0 202.3L675.0 202.4L673.0 202.7L671.0 202.9L669.0 203.0L667.0 203.1L665.0 203.2L663.0 203.2L661.0 203.2L659.0 203.2L657.0 203.2L655.0 203.2L653.0 203.2L651.0 203.2L649.5 203.3L648.0 203.4L646.0 203.6L644.0 203.8L642.0 204.0L640.0 204.2L638.0 204.3L637.0 204.3Z" fill="url(#pl1)"/>
<path d="M633.0 203.3L631.6 203.3L630.0 203.3L628.0 203.1L626.0 202.9L624.0 202.6L622.9 202.3L621.0 201.7L620.0 201.3L618.8 200.3L618.0 198.8L617.6 197.3L617.2 195.3L617.0 193.3L616.9 192.3L616.8 190.3L616.7 188.3L616.7 186.3L616.8 184.3L616.9 182.3L617.0 181.0L617.2 179.3L617.4 177.3L617.9 175.3L618.2 174.3L619.0 172.3L619.8 171.3L620.8 170.3L622.0 169.3L623.0 168.6L624.0 168.0L625.5 167.3L627.0 166.6L628.0 166.3L630.0 165.7L632.0 165.3L633.0 165.2L635.0 165.0L637.0 165.0L639.0 165.2L640.0 165.3L642.0 165.8L643.6 166.3L645.0 166.8L646.0 167.3L647.8 168.3L649.0 169.1L650.0 169.8L651.0 170.7L652.0 171.6L653.0 172.5L654.0 173.5L655.0 174.5L656.0 175.5L657.0 176.5L658.0 177.4L659.0 178.3L660.3 179.3L661.7 180.3L663.0 181.1L664.0 181.7L665.2 182.3L667.0 183.0L668.0 183.4L670.0 184.1L671.0 184.4L673.0 185.0L674.0 185.3L676.0 186.0L677.0 186.4L679.0 187.3L680.0 187.8L681.0 188.5L682.0 189.3L683.0 190.4L683.9 192.3L683.8 194.3L683.0 195.8L682.0 196.9L681.0 197.8L680.0 198.4L678.3 199.3L677.0 199.8L675.5 200.3L674.0 200.7L672.0 201.1L670.3 201.3L669.0 201.5L667.0 201.6L665.0 201.7L663.0 201.7L661.0 201.7L659.0 201.6L657.0 201.5L655.0 201.4L653.1 201.3L652.7 201.3L651.0 201.3L649.0 201.5L647.0 201.8L645.0 202.1L644.0 202.3L642.0 202.6L640.0 202.9L638.0 203.1L636.0 203.2L634.0 203.3L633.0 203.3Z" fill="url(#pbl)"/>
<path d="M615 179h1.3v1.3h-1.3zM635 207h1.3v1.3h-1.3zM685 199h1.3v1.3h-1.3zM665 166h1.3v1.3h-1.3zM616 188h1.3v1.3h-1.3zM637 206h1.3v1.3h-1.3zM687 201h1.3v1.3h-1.3zM621 204h1.3v1.3h-1.3zM649 155h1.3v1.3h-1.3zM692 181h1.3v1.3h-1.3zM638 204h1.3v1.3h-1.3zM615 174h1.3v1.3h-1.3zM633 205h1.3v1.3h-1.3zM638 206h1.3v1.3h-1.3zM630 158h1.3v1.3h-1.3zM630 156h1.3v1.3h-1.3zM659 204h1.3v1.3h-1.3zM664 165h1.3v1.3h-1.3zM684 200h1.3v1.3h-1.3zM668 171h1.3v1.3h-1.3zM616 199h1.3v1.3h-1.3zM615 188h1.3v1.3h-1.3zM618 169h1.3v1.3h-1.3zM663 168h1.3v1.3h-1.3zM615 190h1.3v1.3h-1.3zM695 186h1.3v1.3h-1.3zM615 180h1.3v1.3h-1.3zM651 203h1.3v1.3h-1.3zM631 160h1.3v1.3h-1.3zM627 155h1.3v1.3h-1.3zM615 181h1.3v1.3h-1.3zM643 204h1.3v1.3h-1.3zM676 171h1.3v1.3h-1.3zM615 182h1.3v1.3h-1.3zM624 207h1.3v1.3h-1.3zM621 159h1.3v1.3h-1.3zM651 161h1.3v1.3h-1.3zM657 161h1.3v1.3h-1.3zM618 206h1.3v1.3h-1.3zM668 203h1.3v1.3h-1.3zM622 164h1.3v1.3h-1.3zM615 195h1.3v1.3h-1.3zM664 168h1.3v1.3h-1.3zM615 196h1.3v1.3h-1.3zM619 165h1.3v1.3h-1.3zM629 206h1.3v1.3h-1.3zM627 205h1.3v1.3h-1.3zM616 183h1.3v1.3h-1.3zM616 181h1.3v1.3h-1.3zM641 205h1.3v1.3h-1.3zM660 155h1.3v1.3h-1.3zM658 150h1.3v1.3h-1.3zM651 156h1.3v1.3h-1.3zM642 159h1.3v1.3h-1.3zM650 121h1.3v1.3h-1.3zM670 135h1.3v1.3h-1.3zM664 110h1.3v1.3h-1.3zM666 107h1.3v1.3h-1.3zM662 148h1.3v1.3h-1.3zM650 154h1.3v1.3h-1.3zM657 137h1.3v1.3h-1.3zM667 98h1.3v1.3h-1.3zM644 140h1.3v1.3h-1.3zM687 176h1.3v1.3h-1.3zM622 156h1.3v1.3h-1.3zM638 148h1.3v1.3h-1.3zM655 164h1.3v1.3h-1.3zM654 134h1.3v1.3h-1.3zM671 105h1.3v1.3h-1.3zM655 152h1.3v1.3h-1.3zM661 124h1.3v1.3h-1.3zM656 139h1.3v1.3h-1.3zM667 130h1.3v1.3h-1.3zM659 148h1.3v1.3h-1.3zM678 131h1.3v1.3h-1.3zM658 130h1.3v1.3h-1.3zM672 100h1.3v1.3h-1.3zM663 114h1.3v1.3h-1.3zM655 139h1.3v1.3h-1.3zM676 121h1.3v1.3h-1.3zM678 125h1.3v1.3h-1.3zM657 138h1.3v1.3h-1.3zM625 153h1.3v1.3h-1.3zM668 136h1.3v1.3h-1.3zM658 150h1.3v1.3h-1.3zM659 149h1.3v1.3h-1.3zM676 128h1.3v1.3h-1.3zM652 151h1.3v1.3h-1.3zM673 100h1.3v1.3h-1.3zM644 158h1.3v1.3h-1.3zM663 141h1.3v1.3h-1.3zM661 131h1.3v1.3h-1.3zM661 125h1.3v1.3h-1.3zM634 158h1.3v1.3h-1.3zM646 147h1.3v1.3h-1.3zM659 133h1.3v1.3h-1.3zM674 105h1.3v1.3h-1.3zM676 102h1.3v1.3h-1.3zM668 99h1.3v1.3h-1.3zM679 123h1.3v1.3h-1.3zM659 132h1.3v1.3h-1.3zM644 152h1.3v1.3h-1.3zM669 103h1.3v1.3h-1.3zM657 130h1.3v1.3h-1.3zM616 193h1.3v1.3h-1.3zM661 119h1.3v1.3h-1.3zM693 194h1.3v1.3h-1.3zM649 149h1.3v1.3h-1.3zM669 114h1.3v1.3h-1.3zM649 161h1.3v1.3h-1.3zM658 129h1.3v1.3h-1.3zM615 189h1.3v1.3h-1.3zM649 147h1.3v1.3h-1.3zM650 115h1.3v1.3h-1.3zM669 149h1.3v1.3h-1.3zM677 133h1.3v1.3h-1.3zM656 155h1.3v1.3h-1.3zM670 109h1.3v1.3h-1.3zM679 122h1.3v1.3h-1.3zM663 130h1.3v1.3h-1.3zM665 139h1.3v1.3h-1.3zM668 140h1.3v1.3h-1.3zM655 129h1.3v1.3h-1.3zM649 159h1.3v1.3h-1.3zM668 126h1.3v1.3h-1.3zM661 134h1.3v1.3h-1.3zM646 145h1.3v1.3h-1.3zM700 189h1.3v1.3h-1.3zM653 163h1.3v1.3h-1.3zM650 135h1.3v1.3h-1.3zM687 180h1.3v1.3h-1.3zM677 136h1.3v1.3h-1.3zM661 143h1.3v1.3h-1.3zM638 128h1.3v1.3h-1.3zM663 120h1.3v1.3h-1.3zM680 172h1.3v1.3h-1.3zM664 144h1.3v1.3h-1.3zM643 138h1.3v1.3h-1.3zM656 115h1.3v1.3h-1.3zM675 117h1.3v1.3h-1.3zM641 143h1.3v1.3h-1.3zM644 148h1.3v1.3h-1.3zM678 117h1.3v1.3h-1.3zM626 161h1.3v1.3h-1.3zM661 152h1.3v1.3h-1.3zM667 99h1.3v1.3h-1.3zM665 101h1.3v1.3h-1.3zM671 118h1.3v1.3h-1.3zM676 125h1.3v1.3h-1.3zM673 113h1.3v1.3h-1.3zM679 110h1.3v1.3h-1.3zM678 108h1.3v1.3h-1.3zM646 157h1.3v1.3h-1.3zM659 118h1.3v1.3h-1.3zM653 157h1.3v1.3h-1.3zM671 131h1.3v1.3h-1.3zM662 115h1.3v1.3h-1.3zM665 117h1.3v1.3h-1.3zM632 154h1.3v1.3h-1.3zM641 155h1.3v1.3h-1.3zM650 159h1.3v1.3h-1.3zM652 119h1.3v1.3h-1.3zM657 115h1.3v1.3h-1.3zM628 153h1.3v1.3h-1.3zM634 142h1.3v1.3h-1.3zM643 141h1.3v1.3h-1.3zM656 157h1.3v1.3h-1.3zM646 153h1.3v1.3h-1.3zM675 107h1.3v1.3h-1.3zM685 179h1.3v1.3h-1.3zM664 112h1.3v1.3h-1.3zM650 147h1.3v1.3h-1.3zM675 142h1.3v1.3h-1.3zM672 176h1.3v1.3h-1.3zM684 176h1.3v1.3h-1.3zM653 124h1.3v1.3h-1.3zM664 134h1.3v1.3h-1.3zM647 137h1.3v1.3h-1.3zM644 143h1.3v1.3h-1.3zM666 123h1.3v1.3h-1.3zM667 103h1.3v1.3h-1.3zM673 138h1.3v1.3h-1.3zM675 124h1.3v1.3h-1.3zM651 154h1.3v1.3h-1.3zM661 135h1.3v1.3h-1.3zM674 95h1.3v1.3h-1.3zM637 141h1.3v1.3h-1.3zM641 157h1.3v1.3h-1.3zM641 155h1.3v1.3h-1.3zM658 136h1.3v1.3h-1.3zM670 123h1.3v1.3h-1.3zM639 141h1.3v1.3h-1.3zM654 144h1.3v1.3h-1.3zM663 136h1.3v1.3h-1.3zM674 113h1.3v1.3h-1.3zM665 109h1.3v1.3h-1.3zM638 146h1.3v1.3h-1.3zM657 130h1.3v1.3h-1.3zM655 121h1.3v1.3h-1.3zM668 140h1.3v1.3h-1.3zM672 109h1.3v1.3h-1.3zM665 119h1.3v1.3h-1.3zM667 141h1.3v1.3h-1.3zM644 132h1.3v1.3h-1.3zM668 95h1.3v1.3h-1.3zM648 155h1.3v1.3h-1.3zM669 133h1.3v1.3h-1.3zM674 96h1.3v1.3h-1.3zM653 117h1.3v1.3h-1.3zM649 161h1.3v1.3h-1.3zM635 153h1.3v1.3h-1.3zM674 177h1.3v1.3h-1.3zM656 156h1.3v1.3h-1.3zM646 152h1.3v1.3h-1.3zM642 146h1.3v1.3h-1.3zM667 120h1.3v1.3h-1.3zM632 160h1.3v1.3h-1.3zM664 133h1.3v1.3h-1.3zM673 111h1.3v1.3h-1.3zM645 141h1.3v1.3h-1.3zM650 146h1.3v1.3h-1.3z" fill="#8492f2" fill-opacity="0.45"/>
<path d="M654 175h1.3v1.3h-1.3zM649 181h1.3v1.3h-1.3zM651 180h1.3v1.3h-1.3zM656 185h1.3v1.3h-1.3zM647 197h1.3v1.3h-1.3zM671 192h1.3v1.3h-1.3zM659 190h1.3v1.3h-1.3zM657 195h1.3v1.3h-1.3zM647 172h1.3v1.3h-1.3zM646 203h1.3v1.3h-1.3zM656 198h1.3v1.3h-1.3zM651 177h1.3v1.3h-1.3zM665 199h1.3v1.3h-1.3zM635 169h1.3v1.3h-1.3zM671 201h1.3v1.3h-1.3zM642 163h1.3v1.3h-1.3zM655 193h1.3v1.3h-1.3zM676 185h1.3v1.3h-1.3zM654 197h1.3v1.3h-1.3zM662 177h1.3v1.3h-1.3zM672 196h1.3v1.3h-1.3zM676 195h1.3v1.3h-1.3zM671 188h1.3v1.3h-1.3zM664 188h1.3v1.3h-1.3zM636 201h1.3v1.3h-1.3zM624 204h1.3v1.3h-1.3zM654 176h1.3v1.3h-1.3zM622 202h1.3v1.3h-1.3zM639 172h1.3v1.3h-1.3zM635 172h1.3v1.3h-1.3zM636 163h1.3v1.3h-1.3zM679 193h1.3v1.3h-1.3zM656 181h1.3v1.3h-1.3zM670 186h1.3v1.3h-1.3zM650 184h1.3v1.3h-1.3zM634 202h1.3v1.3h-1.3zM632 202h1.3v1.3h-1.3zM647 196h1.3v1.3h-1.3zM619 193h1.3v1.3h-1.3zM677 185h1.3v1.3h-1.3zM652 197h1.3v1.3h-1.3zM655 166h1.3v1.3h-1.3zM673 200h1.3v1.3h-1.3zM634 204h1.3v1.3h-1.3zM636 167h1.3v1.3h-1.3zM636 204h1.3v1.3h-1.3zM672 191h1.3v1.3h-1.3zM630 170h1.3v1.3h-1.3zM617 186h1.3v1.3h-1.3zM619 198h1.3v1.3h-1.3zM639 166h1.3v1.3h-1.3zM682 194h1.3v1.3h-1.3zM651 169h1.3v1.3h-1.3zM639 170h1.3v1.3h-1.3zM654 172h1.3v1.3h-1.3zM663 180h1.3v1.3h-1.3zM660 189h1.3v1.3h-1.3zM680 196h1.3v1.3h-1.3zM653 187h1.3v1.3h-1.3zM652 176h1.3v1.3h-1.3zM620 176h1.3v1.3h-1.3zM653 192h1.3v1.3h-1.3zM655 196h1.3v1.3h-1.3zM650 182h1.3v1.3h-1.3zM687 194h1.3v1.3h-1.3zM676 184h1.3v1.3h-1.3zM642 200h1.3v1.3h-1.3zM679 194h1.3v1.3h-1.3zM658 194h1.3v1.3h-1.3zM640 203h1.3v1.3h-1.3zM670 200h1.3v1.3h-1.3zM673 197h1.3v1.3h-1.3zM659 192h1.3v1.3h-1.3zM659 176h1.3v1.3h-1.3zM651 167h1.3v1.3h-1.3zM656 174h1.3v1.3h-1.3zM651 172h1.3v1.3h-1.3zM652 188h1.3v1.3h-1.3zM651 191h1.3v1.3h-1.3zM637 170h1.3v1.3h-1.3zM659 195h1.3v1.3h-1.3zM626 203h1.3v1.3h-1.3zM680 186h1.3v1.3h-1.3zM664 191h1.3v1.3h-1.3zM653 176h1.3v1.3h-1.3zM647 173h1.3v1.3h-1.3zM680 189h1.3v1.3h-1.3zM653 191h1.3v1.3h-1.3zM623 171h1.3v1.3h-1.3zM685 194h1.3v1.3h-1.3zM679 190h1.3v1.3h-1.3zM644 170h1.3v1.3h-1.3zM681 197h1.3v1.3h-1.3zM662 181h1.3v1.3h-1.3zM671 190h1.3v1.3h-1.3zM621 166h1.3v1.3h-1.3zM657 185h1.3v1.3h-1.3zM629 168h1.3v1.3h-1.3zM647 198h1.3v1.3h-1.3zM659 190h1.3v1.3h-1.3zM662 181h1.3v1.3h-1.3zM647 176h1.3v1.3h-1.3zM623 168h1.3v1.3h-1.3zM651 196h1.3v1.3h-1.3zM639 200h1.3v1.3h-1.3zM652 167h1.3v1.3h-1.3zM681 194h1.3v1.3h-1.3zM650 184h1.3v1.3h-1.3zM656 181h1.3v1.3h-1.3zM669 189h1.3v1.3h-1.3zM632 168h1.3v1.3h-1.3zM653 200h1.3v1.3h-1.3zM654 195h1.3v1.3h-1.3zM657 198h1.3v1.3h-1.3zM636 168h1.3v1.3h-1.3zM661 189h1.3v1.3h-1.3zM621 196h1.3v1.3h-1.3zM669 183h1.3v1.3h-1.3zM617 181h1.3v1.3h-1.3zM649 169h1.3v1.3h-1.3zM658 189h1.3v1.3h-1.3zM623 172h1.3v1.3h-1.3zM682 186h1.3v1.3h-1.3zM657 195h1.3v1.3h-1.3zM675 196h1.3v1.3h-1.3zM675 178h1.3v1.3h-1.3zM676 191h1.3v1.3h-1.3zM661 194h1.3v1.3h-1.3zM658 196h1.3v1.3h-1.3zM631 202h1.3v1.3h-1.3zM665 202h1.3v1.3h-1.3zM671 191h1.3v1.3h-1.3zM618 187h1.3v1.3h-1.3zM624 203h1.3v1.3h-1.3zM679 186h1.3v1.3h-1.3zM671 201h1.3v1.3h-1.3zM654 193h1.3v1.3h-1.3zM672 189h1.3v1.3h-1.3zM661 200h1.3v1.3h-1.3zM648 177h1.3v1.3h-1.3zM658 191h1.3v1.3h-1.3zM641 160h1.3v1.3h-1.3zM650 182h1.3v1.3h-1.3zM663 201h1.3v1.3h-1.3zM686 188h1.3v1.3h-1.3zM657 199h1.3v1.3h-1.3zM671 177h1.3v1.3h-1.3zM644 170h1.3v1.3h-1.3zM666 202h1.3v1.3h-1.3zM620 199h1.3v1.3h-1.3zM676 197h1.3v1.3h-1.3zM652 200h1.3v1.3h-1.3zM636 203h1.3v1.3h-1.3zM630 203h1.3v1.3h-1.3zM646 175h1.3v1.3h-1.3zM672 183h1.3v1.3h-1.3zM650 187h1.3v1.3h-1.3zM675 182h1.3v1.3h-1.3zM622 171h1.3v1.3h-1.3zM619 196h1.3v1.3h-1.3zM661 181h1.3v1.3h-1.3zM652 194h1.3v1.3h-1.3zM645 162h1.3v1.3h-1.3zM686 186h1.3v1.3h-1.3zM618 200h1.3v1.3h-1.3zM670 189h1.3v1.3h-1.3zM676 182h1.3v1.3h-1.3zM660 182h1.3v1.3h-1.3zM629 171h1.3v1.3h-1.3zM665 189h1.3v1.3h-1.3zM663 178h1.3v1.3h-1.3zM659 185h1.3v1.3h-1.3zM689 192h1.3v1.3h-1.3zM666 201h1.3v1.3h-1.3zM663 191h1.3v1.3h-1.3zM651 201h1.3v1.3h-1.3zM662 185h1.3v1.3h-1.3zM641 200h1.3v1.3h-1.3zM618 185h1.3v1.3h-1.3zM620 178h1.3v1.3h-1.3zM666 191h1.3v1.3h-1.3zM658 196h1.3v1.3h-1.3zM653 167h1.3v1.3h-1.3zM658 168h1.3v1.3h-1.3zM653 185h1.3v1.3h-1.3zM628 204h1.3v1.3h-1.3zM637 166h1.3v1.3h-1.3zM652 168h1.3v1.3h-1.3zM672 200h1.3v1.3h-1.3zM662 186h1.3v1.3h-1.3zM671 196h1.3v1.3h-1.3zM618 187h1.3v1.3h-1.3zM657 197h1.3v1.3h-1.3zM650 199h1.3v1.3h-1.3zM642 171h1.3v1.3h-1.3zM654 194h1.3v1.3h-1.3zM626 200h1.3v1.3h-1.3zM638 167h1.3v1.3h-1.3zM678 193h1.3v1.3h-1.3zM641 202h1.3v1.3h-1.3zM632 168h1.3v1.3h-1.3zM659 191h1.3v1.3h-1.3zM645 197h1.3v1.3h-1.3zM619 179h1.3v1.3h-1.3zM640 169h1.3v1.3h-1.3zM640 171h1.3v1.3h-1.3zM654 188h1.3v1.3h-1.3zM618 184h1.3v1.3h-1.3zM650 163h1.3v1.3h-1.3zM660 180h1.3v1.3h-1.3zM648 173h1.3v1.3h-1.3zM642 165h1.3v1.3h-1.3zM674 201h1.3v1.3h-1.3zM619 172h1.3v1.3h-1.3zM647 167h1.3v1.3h-1.3zM686 187h1.3v1.3h-1.3zM619 197h1.3v1.3h-1.3zM646 164h1.3v1.3h-1.3zM650 199h1.3v1.3h-1.3zM679 200h1.3v1.3h-1.3zM628 171h1.3v1.3h-1.3zM657 178h1.3v1.3h-1.3zM639 203h1.3v1.3h-1.3zM650 189h1.3v1.3h-1.3zM621 197h1.3v1.3h-1.3zM657 189h1.3v1.3h-1.3zM660 191h1.3v1.3h-1.3zM673 191h1.3v1.3h-1.3zM655 196h1.3v1.3h-1.3zM654 182h1.3v1.3h-1.3zM666 183h1.3v1.3h-1.3zM664 189h1.3v1.3h-1.3zM649 168h1.3v1.3h-1.3zM668 199h1.3v1.3h-1.3zM625 171h1.3v1.3h-1.3zM680 186h1.3v1.3h-1.3zM629 163h1.3v1.3h-1.3zM652 179h1.3v1.3h-1.3zM671 180h1.3v1.3h-1.3zM645 164h1.3v1.3h-1.3zM647 179h1.3v1.3h-1.3zM628 201h1.3v1.3h-1.3zM641 166h1.3v1.3h-1.3zM672 185h1.3v1.3h-1.3zM635 171h1.3v1.3h-1.3zM648 169h1.3v1.3h-1.3zM681 184h1.3v1.3h-1.3zM620 168h1.3v1.3h-1.3zM651 165h1.3v1.3h-1.3zM679 190h1.3v1.3h-1.3zM626 171h1.3v1.3h-1.3zM646 177h1.3v1.3h-1.3zM649 175h1.3v1.3h-1.3zM630 164h1.3v1.3h-1.3zM637 160h1.3v1.3h-1.3zM658 196h1.3v1.3h-1.3zM652 168h1.3v1.3h-1.3zM675 184h1.3v1.3h-1.3zM682 184h1.3v1.3h-1.3zM650 166h1.3v1.3h-1.3zM676 189h1.3v1.3h-1.3zM649 169h1.3v1.3h-1.3zM662 183h1.3v1.3h-1.3zM633 163h1.3v1.3h-1.3zM643 168h1.3v1.3h-1.3zM681 190h1.3v1.3h-1.3zM628 162h1.3v1.3h-1.3zM670 180h1.3v1.3h-1.3zM683 186h1.3v1.3h-1.3zM686 192h1.3v1.3h-1.3zM642 163h1.3v1.3h-1.3zM662 182h1.3v1.3h-1.3zM678 179h1.3v1.3h-1.3zM679 196h1.3v1.3h-1.3zM624 172h1.3v1.3h-1.3zM670 189h1.3v1.3h-1.3zM643 164h1.3v1.3h-1.3z" fill="#2644e4" fill-opacity="0.6"/>
<path d="M636.0 200.5L634.0 200.7L632.0 200.7L630.0 200.6L628.2 200.3L627.0 200.0L625.2 199.3L624.0 198.7L623.0 198.0L622.0 197.1L621.0 196.1L620.0 194.6L619.4 193.3L619.0 192.0L618.7 190.3L618.5 188.3L618.5 186.3L618.6 184.3L618.9 182.3L619.1 181.3L619.9 179.3L620.5 178.3L621.2 177.3L622.1 176.3L623.2 175.3L624.6 174.3L626.0 173.4L627.0 173.0L628.8 172.3L630.0 172.0L632.0 171.6L634.0 171.6L636.0 171.7L638.0 172.2L639.0 172.5L640.7 173.3L642.0 174.1L643.0 174.8L644.0 175.7L645.0 176.7L646.0 177.9L647.0 179.3L647.6 180.3L648.1 181.3L648.9 183.3L649.2 184.3L649.6 186.3L649.8 188.3L649.8 190.3L649.2 192.3L648.7 193.3L647.9 194.3L646.9 195.3L645.7 196.3L644.3 197.3L643.0 198.1L642.0 198.6L640.4 199.3L639.0 199.8L637.0 200.3L636.0 200.5ZM669.0 196.6L667.0 196.9L665.0 196.9L663.0 196.6L662.0 196.3L660.7 195.3L661.0 193.7L662.0 193.0L663.9 192.3L665.0 192.1L667.0 192.0L669.0 192.2L670.0 192.4L671.7 193.3L672.1 194.3L671.6 195.3L670.0 196.3L669.0 196.6Z" fill="#3cc8f0"/>
<path d="M632.0 199.3L631.0 199.3L629.0 199.0L627.0 198.3L626.0 197.9L625.0 197.3L623.7 196.3L622.7 195.3L621.9 194.3L621.0 192.9L620.3 191.3L620.0 190.2L619.7 188.3L619.6 186.3L619.8 184.3L620.0 183.3L620.7 181.3L621.2 180.3L622.0 179.1L623.0 177.9L624.0 177.0L625.0 176.3L626.7 175.3L628.0 174.7L629.5 174.3L631.0 174.0L633.0 173.8L635.0 174.0L636.5 174.3L638.0 174.8L639.1 175.3L640.7 176.3L642.0 177.3L643.0 178.3L643.8 179.3L644.5 180.3L645.0 181.3L645.9 183.3L646.2 184.3L646.5 186.3L646.5 188.3L646.2 190.3L645.8 191.3L645.0 192.9L644.0 194.2L643.0 195.2L642.0 196.0L641.0 196.7L640.0 197.3L638.0 198.2L637.0 198.6L635.0 199.1L633.0 199.3L632.0 199.3Z" fill="#4cf04c"/>
<path d="M631.0 193.3L630.0 193.3L628.0 192.6L627.0 191.9L626.0 190.8L625.2 189.3L624.9 188.3L624.7 186.3L625.0 184.9L625.8 183.3L626.8 182.3L628.0 181.7L630.0 181.4L632.0 181.9L633.0 182.4L634.2 183.3L635.1 184.3L635.9 186.3L636.1 187.3L636.0 188.4L635.4 190.3L634.7 191.3L633.7 192.3L632.0 193.1L631.0 193.3Z" fill="#b4f232"/>
<path d="M631.0 191.6L629.0 191.4L628.0 190.9L627.0 189.8L626.3 188.3L626.1 186.3L627.0 184.3L628.0 183.5L629.0 183.2L630.3 183.3L632.0 184.1L633.0 185.2L633.6 186.3L633.8 188.3L633.0 190.2L632.0 191.2L631.0 191.6Z" fill="#f09424"/>
<path d="M631.0 189.9L629.0 189.9L628.0 189.1L627.4 187.3L628.0 185.3L629.0 184.8L631.0 185.3L631.8 186.3L632.1 187.3L632.0 188.6L631.0 189.9Z" fill="#e2561e"/>
<path d="M558.0 27.3 H741.9" fill="none" stroke="#98a6a6" stroke-width="2.2"/>
<path d="M741.9 27.3 V210.3" fill="none" stroke="#a9b5b5" stroke-width="2.2"/>
<path d="M558.0 26.5 V210.3" fill="none" stroke="#7f9090" stroke-width="2.4"/>
<path d="M557.0 210.3 H742.7" fill="none" stroke="#3c4a4a" stroke-width="2.3"/>
<path d="M552.5 210.3h4.5M554.8 203.3h2.2M554.8 196.3h2.2M554.8 189.3h2.2M554.8 182.3h2.2M552.5 175.3h4.5M554.8 168.4h2.2M554.8 161.4h2.2M554.8 154.4h2.2M554.8 147.4h2.2M552.5 140.4h4.5M554.8 133.4h2.2M554.8 126.4h2.2M554.8 119.4h2.2M554.8 112.4h2.2M552.5 105.4h4.5M554.8 98.5h2.2M554.8 91.5h2.2M554.8 84.5h2.2M554.8 77.5h2.2M552.5 70.5h4.5M554.8 63.5h2.2M554.8 56.5h2.2M554.8 49.5h2.2M554.8 42.5h2.2M552.5 35.5h4.5M554.8 28.5h2.2" stroke="#667474" stroke-width="1.3" fill="none"/>
<text x="551.0" y="178.7" font-size="10.0" text-anchor="end" textLength="15.0" lengthAdjust="spacingAndGlyphs" fill="#9aa6a6" font-weight="bold">50K</text>
<text x="551.0" y="143.8" font-size="10.0" text-anchor="end" textLength="20.0" lengthAdjust="spacingAndGlyphs" fill="#9aa6a6" font-weight="bold">100K</text>
<text x="551.0" y="108.8" font-size="10.0" text-anchor="end" textLength="20.0" lengthAdjust="spacingAndGlyphs" fill="#9aa6a6" font-weight="bold">150K</text>
<text x="551.0" y="73.9" font-size="10.0" text-anchor="end" textLength="20.0" lengthAdjust="spacingAndGlyphs" fill="#9aa6a6" font-weight="bold">200K</text>
<text x="551.0" y="38.9" font-size="10.0" text-anchor="end" textLength="20.0" lengthAdjust="spacingAndGlyphs" fill="#9aa6a6" font-weight="bold">250K</text>
<path d="M571.8 211.3v3.5M598.8 211.3v4.2M611.9 211.3v2.2M619.5 211.3v2.2M625.0 211.3v2.2M629.2 211.3v2.2M632.6 211.3v2.2M635.5 211.3v2.2M638.0 211.3v2.2M640.2 211.3v2.2M642.2 211.3v4.2M655.2 211.3v2.2M662.8 211.3v2.2M668.1 211.3v2.2M672.3 211.3v2.2M675.7 211.3v2.2M678.6 211.3v2.2M681.1 211.3v2.2M683.3 211.3v2.2M685.3 211.3v4.2M698.2 211.3v2.2M705.7 211.3v2.2M711.1 211.3v2.2M715.2 211.3v2.2M718.6 211.3v2.2M721.5 211.3v2.2M724.0 211.3v2.2M726.1 211.3v2.2M728.1 211.3v4.2M561.7 211.3v2.2M565.4 211.3v2.2M578.2 211.3v2.2M583.7 211.3v2.2M589.3 211.3v2.2M592.9 211.3v2.2" stroke="#667474" stroke-width="1.3" fill="none"/>
<path d="M576.5 210.3v4.5" stroke="#1a2626" stroke-width="2.6"/>
<text x="571.8" y="232.6" font-size="10.5" text-anchor="middle" textLength="5" lengthAdjust="spacingAndGlyphs" fill="#95a1a1" font-weight="bold">0</text>
<text x="591.6" y="232.6" font-size="10.5" textLength="9.4" lengthAdjust="spacingAndGlyphs" fill="#95a1a1" font-weight="bold">10</text>
<text x="601.5" y="226.1" font-size="8" textLength="3.4" lengthAdjust="spacingAndGlyphs" fill="#95a1a1" font-weight="bold">2</text>
<text x="635.0" y="232.6" font-size="10.5" textLength="9.4" lengthAdjust="spacingAndGlyphs" fill="#95a1a1" font-weight="bold">10</text>
<text x="644.9" y="226.1" font-size="8" textLength="3.4" lengthAdjust="spacingAndGlyphs" fill="#95a1a1" font-weight="bold">3</text>
<text x="678.1" y="232.6" font-size="10.5" textLength="9.4" lengthAdjust="spacingAndGlyphs" fill="#95a1a1" font-weight="bold">10</text>
<text x="688.0" y="226.1" font-size="8" textLength="3.4" lengthAdjust="spacingAndGlyphs" fill="#95a1a1" font-weight="bold">4</text>
<text x="720.9" y="232.6" font-size="10.5" textLength="9.4" lengthAdjust="spacingAndGlyphs" fill="#95a1a1" font-weight="bold">10</text>
<text x="730.8" y="226.1" font-size="8" textLength="3.4" lengthAdjust="spacingAndGlyphs" fill="#95a1a1" font-weight="bold">5</text>
<path d="M634.4 449.3L632.4 449.4L630.4 449.4L628.4 449.4L626.4 449.3L625.4 449.3L623.4 449.2L621.4 449.1L619.4 448.9L617.4 448.7L615.4 448.4L614.4 448.2L612.4 447.9L610.4 447.4L609.4 447.0L608.0 446.3L607.0 445.3L606.4 444.2L605.8 442.3L605.4 440.3L605.2 439.3L605.0 437.3L604.8 435.3L604.7 433.3L604.7 431.3L604.7 429.3L604.8 427.3L604.9 425.3L605.2 423.3L605.4 421.9L605.7 420.3L606.1 418.3L606.4 417.3L607.1 415.3L607.6 414.3L608.4 413.0L609.4 411.8L610.4 410.9L611.4 410.2L613.0 409.3L614.4 408.6L615.4 408.2L617.4 407.5L618.4 407.2L620.4 406.6L621.7 406.3L623.4 405.9L625.4 405.5L626.9 405.3L628.4 405.0L630.4 404.5L631.4 404.2L633.4 403.3L634.4 402.6L635.4 401.8L636.4 400.6L637.4 399.3L638.0 398.3L638.6 397.3L639.4 396.0L640.3 394.3L640.9 393.3L641.5 392.3L642.4 390.7L643.3 389.3L643.9 388.3L644.5 387.3L645.4 385.9L646.4 384.4L647.2 383.3L647.9 382.3L648.6 381.3L649.4 380.2L650.4 378.8L651.4 377.5L652.3 376.3L653.2 375.3L654.0 374.3L654.8 373.3L655.7 372.3L656.6 371.3L657.6 370.3L658.8 369.3L660.4 368.7L661.4 369.3L662.4 371.3L662.7 372.3L663.4 374.3L663.7 375.3L664.3 377.3L664.6 378.3L665.2 380.3L665.4 381.3L665.9 383.3L666.2 385.3L666.4 386.7L666.5 388.3L666.6 390.3L666.5 392.3L666.4 393.3L666.2 395.3L665.9 397.3L665.5 399.3L665.3 400.3L665.0 402.3L664.7 404.3L664.7 406.3L665.1 408.3L665.7 409.3L666.7 410.3L668.4 411.3L669.4 411.6L671.4 412.2L672.4 412.4L674.4 412.9L675.8 413.3L677.4 413.7L679.2 414.3L680.4 414.7L681.9 415.3L683.4 416.0L684.4 416.4L686.0 417.3L687.4 418.1L688.4 418.8L689.4 419.5L690.4 420.4L691.5 421.3L692.5 422.3L693.4 423.4L694.4 424.8L695.3 426.3L695.8 427.3L696.4 429.3L696.5 430.3L696.6 432.3L696.4 433.4L695.9 435.3L695.4 436.3L694.4 438.0L693.5 439.3L692.6 440.3L691.6 441.3L690.4 442.3L689.4 443.0L688.4 443.6L687.1 444.3L685.4 445.0L684.4 445.3L682.4 445.9L680.9 446.3L679.4 446.6L677.4 447.0L675.8 447.3L674.4 447.6L672.4 447.9L670.4 448.1L668.4 448.3L667.4 448.4L665.4 448.7L663.4 448.8L661.4 449.0L659.4 449.0L657.4 449.1L655.4 449.1L653.4 449.1L651.4 449.1L649.4 449.1L647.4 449.1L645.4 449.1L643.4 449.1L641.4 449.1L639.4 449.2L637.4 449.2L635.4 449.3L634.4 449.3Z" fill="url(#pl0)"/>
<path d="M635.4 448.3L633.4 448.4L631.4 448.5L629.4 448.5L627.4 448.4L625.4 448.3L624.4 448.3L622.4 448.2L620.4 448.0L618.4 447.7L616.4 447.3L615.4 447.1L613.4 446.6L612.4 446.3L610.4 445.4L609.4 444.6L608.4 443.3L607.9 442.3L607.4 441.0L606.9 439.3L606.6 437.3L606.4 435.8L606.3 434.3L606.2 432.3L606.1 430.3L606.2 428.3L606.4 426.4L606.5 425.3L606.8 423.3L607.3 421.3L607.6 420.3L608.4 418.4L609.0 417.3L609.7 416.3L610.6 415.3L611.7 414.3L613.1 413.3L614.4 412.5L615.4 411.9L616.7 411.3L618.4 410.6L619.4 410.2L621.4 409.6L622.6 409.3L624.4 408.9L626.4 408.5L628.3 408.3L629.4 408.1L631.4 407.8L633.4 407.4L634.4 407.2L636.4 406.3L637.4 405.7L638.4 404.8L639.4 403.8L640.4 402.5L641.2 401.3L641.9 400.3L642.5 399.3L643.4 398.0L644.4 396.5L645.2 395.3L646.0 394.3L646.7 393.3L647.6 392.3L648.5 391.3L649.5 390.3L650.7 389.3L652.1 388.3L653.4 387.6L654.4 387.2L656.4 387.0L657.6 387.3L659.0 388.3L659.8 389.3L660.4 390.5L660.9 392.3L661.2 394.3L661.2 396.3L661.1 398.3L660.8 400.3L660.4 402.3L660.2 403.3L659.8 405.3L659.4 407.3L659.3 408.3L659.3 410.3L659.4 411.3L660.2 413.3L661.0 414.3L662.2 415.3L663.4 415.9L664.4 416.3L666.4 417.0L667.5 417.3L669.4 417.8L671.2 418.3L672.4 418.7L674.3 419.3L675.4 419.7L676.7 420.3L678.4 421.2L679.4 421.8L680.4 422.4L681.5 423.3L682.6 424.3L683.5 425.3L684.4 426.6L685.3 428.3L685.6 429.3L685.8 431.3L685.7 433.3L685.4 435.0L685.1 436.3L684.6 438.3L684.2 439.3L683.4 440.6L682.4 441.9L681.4 442.9L680.4 443.6L679.3 444.3L677.4 445.2L676.4 445.6L674.4 446.2L673.4 446.4L671.4 446.9L669.4 447.2L668.4 447.4L666.4 447.7L664.4 447.9L662.4 448.0L660.4 448.1L658.4 448.2L656.4 448.2L654.4 448.2L652.4 448.2L650.4 448.2L648.4 448.1L646.4 448.1L644.4 448.1L642.4 448.1L640.4 448.1L638.4 448.2L636.4 448.3L635.4 448.3Z" fill="url(#pl1)"/>
<path d="M667.4 446.3L665.4 446.7L663.4 446.9L661.4 447.1L659.4 447.2L657.4 447.3L655.4 447.3L653.4 447.3L651.4 447.2L649.4 447.1L647.4 447.0L645.4 446.9L643.4 446.8L641.4 446.8L639.4 446.9L637.4 447.0L635.4 447.1L633.4 447.2L631.4 447.3L629.4 447.3L627.4 447.3L625.4 447.2L623.4 447.0L621.4 446.7L619.4 446.3L618.4 446.1L616.4 445.5L615.4 445.0L614.1 444.3L612.7 443.3L611.8 442.3L611.0 441.3L610.4 440.3L609.4 438.3L609.1 437.3L608.7 435.3L608.4 433.4L608.3 432.3L608.3 430.3L608.4 428.8L608.6 427.3L609.0 425.3L609.4 423.9L610.1 422.3L610.6 421.3L611.4 420.1L612.4 418.9L613.4 417.9L614.4 417.0L615.4 416.2L616.8 415.3L618.4 414.4L619.4 413.9L621.1 413.3L622.4 412.8L624.4 412.3L625.4 412.1L627.4 411.8L629.4 411.6L631.4 411.5L633.4 411.4L634.7 411.3L636.4 411.2L638.4 410.9L640.4 410.5L641.4 410.1L643.4 409.3L644.4 408.7L645.4 408.0L646.4 407.3L647.9 406.3L649.4 405.7L650.4 407.3L650.5 408.3L650.6 410.3L650.9 412.3L651.4 414.2L651.8 415.3L652.4 416.6L653.4 418.3L654.2 419.3L655.1 420.3L656.2 421.3L657.4 422.2L658.4 422.9L659.4 423.4L661.1 424.3L662.4 425.0L663.4 425.5L664.9 426.3L666.4 427.3L667.4 428.2L668.4 429.3L669.2 430.3L670.0 431.3L671.0 432.3L672.2 433.3L673.4 434.2L674.4 434.9L675.4 435.8L676.4 436.9L677.2 438.3L677.3 440.3L676.4 442.2L675.4 443.2L674.4 443.9L673.4 444.4L671.4 445.3L670.4 445.6L668.4 446.1L667.4 446.3Z" fill="url(#pbl)"/>
<path d="M690 431h1.3v1.3h-1.3zM664 411h1.3v1.3h-1.3zM644 394h1.3v1.3h-1.3zM633 450h1.3v1.3h-1.3zM662 414h1.3v1.3h-1.3zM633 404h1.3v1.3h-1.3zM604 443h1.3v1.3h-1.3zM684 447h1.3v1.3h-1.3zM611 447h1.3v1.3h-1.3zM665 394h1.3v1.3h-1.3zM605 424h1.3v1.3h-1.3zM651 388h1.3v1.3h-1.3zM635 450h1.3v1.3h-1.3zM604 430h1.3v1.3h-1.3zM665 410h1.3v1.3h-1.3zM662 402h1.3v1.3h-1.3zM677 420h1.3v1.3h-1.3zM666 417h1.3v1.3h-1.3zM664 402h1.3v1.3h-1.3zM619 448h1.3v1.3h-1.3zM663 399h1.3v1.3h-1.3zM604 434h1.3v1.3h-1.3zM640 449h1.3v1.3h-1.3zM682 442h1.3v1.3h-1.3zM688 417h1.3v1.3h-1.3zM688 437h1.3v1.3h-1.3zM666 410h1.3v1.3h-1.3zM619 410h1.3v1.3h-1.3zM674 446h1.3v1.3h-1.3zM681 419h1.3v1.3h-1.3zM627 450h1.3v1.3h-1.3zM632 401h1.3v1.3h-1.3zM671 417h1.3v1.3h-1.3zM617 406h1.3v1.3h-1.3zM706 421h1.3v1.3h-1.3zM639 402h1.3v1.3h-1.3zM710 431h1.3v1.3h-1.3zM609 444h1.3v1.3h-1.3zM607 424h1.3v1.3h-1.3zM686 418h1.3v1.3h-1.3zM607 416h1.3v1.3h-1.3zM658 448h1.3v1.3h-1.3zM684 443h1.3v1.3h-1.3zM643 399h1.3v1.3h-1.3zM629 450h1.3v1.3h-1.3zM699 436h1.3v1.3h-1.3zM665 337h1.3v1.3h-1.3zM646 374h1.3v1.3h-1.3zM666 331h1.3v1.3h-1.3zM654 374h1.3v1.3h-1.3zM681 422h1.3v1.3h-1.3zM675 344h1.3v1.3h-1.3zM674 408h1.3v1.3h-1.3zM672 355h1.3v1.3h-1.3zM670 413h1.3v1.3h-1.3zM658 367h1.3v1.3h-1.3zM660 358h1.3v1.3h-1.3zM673 343h1.3v1.3h-1.3zM660 364h1.3v1.3h-1.3zM693 414h1.3v1.3h-1.3zM652 369h1.3v1.3h-1.3zM668 353h1.3v1.3h-1.3zM679 344h1.3v1.3h-1.3zM669 412h1.3v1.3h-1.3zM678 416h1.3v1.3h-1.3zM651 383h1.3v1.3h-1.3zM677 415h1.3v1.3h-1.3zM675 345h1.3v1.3h-1.3zM663 349h1.3v1.3h-1.3zM688 413h1.3v1.3h-1.3zM658 376h1.3v1.3h-1.3zM676 340h1.3v1.3h-1.3zM653 378h1.3v1.3h-1.3zM653 374h1.3v1.3h-1.3zM605 433h1.3v1.3h-1.3zM656 358h1.3v1.3h-1.3zM675 366h1.3v1.3h-1.3zM655 346h1.3v1.3h-1.3zM661 355h1.3v1.3h-1.3zM662 337h1.3v1.3h-1.3zM610 408h1.3v1.3h-1.3zM690 425h1.3v1.3h-1.3zM654 384h1.3v1.3h-1.3zM690 418h1.3v1.3h-1.3zM672 415h1.3v1.3h-1.3zM694 434h1.3v1.3h-1.3zM664 416h1.3v1.3h-1.3zM662 362h1.3v1.3h-1.3zM671 331h1.3v1.3h-1.3zM652 371h1.3v1.3h-1.3zM669 360h1.3v1.3h-1.3zM646 380h1.3v1.3h-1.3zM635 393h1.3v1.3h-1.3zM663 373h1.3v1.3h-1.3zM654 360h1.3v1.3h-1.3zM672 325h1.3v1.3h-1.3zM641 385h1.3v1.3h-1.3zM665 358h1.3v1.3h-1.3zM673 357h1.3v1.3h-1.3zM664 360h1.3v1.3h-1.3zM643 375h1.3v1.3h-1.3zM649 385h1.3v1.3h-1.3zM651 382h1.3v1.3h-1.3zM666 374h1.3v1.3h-1.3zM671 336h1.3v1.3h-1.3zM661 402h1.3v1.3h-1.3zM671 377h1.3v1.3h-1.3zM639 402h1.3v1.3h-1.3zM670 351h1.3v1.3h-1.3zM660 381h1.3v1.3h-1.3zM664 365h1.3v1.3h-1.3zM660 355h1.3v1.3h-1.3zM608 408h1.3v1.3h-1.3zM659 377h1.3v1.3h-1.3zM648 384h1.3v1.3h-1.3zM672 360h1.3v1.3h-1.3zM634 400h1.3v1.3h-1.3zM662 339h1.3v1.3h-1.3zM670 333h1.3v1.3h-1.3zM649 367h1.3v1.3h-1.3zM677 414h1.3v1.3h-1.3zM655 367h1.3v1.3h-1.3zM617 410h1.3v1.3h-1.3zM691 421h1.3v1.3h-1.3zM680 414h1.3v1.3h-1.3zM661 373h1.3v1.3h-1.3zM673 374h1.3v1.3h-1.3zM655 376h1.3v1.3h-1.3zM662 364h1.3v1.3h-1.3zM651 384h1.3v1.3h-1.3zM659 370h1.3v1.3h-1.3zM670 317h1.3v1.3h-1.3zM664 358h1.3v1.3h-1.3zM668 329h1.3v1.3h-1.3zM660 349h1.3v1.3h-1.3zM645 378h1.3v1.3h-1.3zM673 341h1.3v1.3h-1.3zM659 355h1.3v1.3h-1.3zM650 387h1.3v1.3h-1.3zM638 397h1.3v1.3h-1.3zM653 370h1.3v1.3h-1.3zM648 387h1.3v1.3h-1.3zM671 369h1.3v1.3h-1.3zM679 331h1.3v1.3h-1.3zM634 403h1.3v1.3h-1.3zM665 366h1.3v1.3h-1.3zM653 384h1.3v1.3h-1.3zM660 368h1.3v1.3h-1.3zM695 420h1.3v1.3h-1.3zM678 409h1.3v1.3h-1.3zM664 355h1.3v1.3h-1.3zM674 410h1.3v1.3h-1.3zM655 366h1.3v1.3h-1.3zM668 337h1.3v1.3h-1.3zM648 390h1.3v1.3h-1.3zM665 365h1.3v1.3h-1.3zM671 336h1.3v1.3h-1.3zM647 379h1.3v1.3h-1.3zM672 340h1.3v1.3h-1.3zM666 335h1.3v1.3h-1.3zM666 373h1.3v1.3h-1.3zM666 346h1.3v1.3h-1.3zM651 385h1.3v1.3h-1.3zM674 335h1.3v1.3h-1.3zM653 385h1.3v1.3h-1.3zM614 409h1.3v1.3h-1.3zM615 410h1.3v1.3h-1.3zM649 389h1.3v1.3h-1.3zM661 382h1.3v1.3h-1.3zM658 373h1.3v1.3h-1.3zM637 394h1.3v1.3h-1.3zM663 371h1.3v1.3h-1.3zM666 357h1.3v1.3h-1.3zM670 409h1.3v1.3h-1.3zM688 413h1.3v1.3h-1.3zM660 377h1.3v1.3h-1.3zM663 346h1.3v1.3h-1.3zM652 373h1.3v1.3h-1.3zM662 386h1.3v1.3h-1.3zM692 411h1.3v1.3h-1.3zM670 342h1.3v1.3h-1.3zM661 363h1.3v1.3h-1.3zM686 418h1.3v1.3h-1.3zM668 337h1.3v1.3h-1.3zM668 369h1.3v1.3h-1.3zM663 349h1.3v1.3h-1.3zM668 352h1.3v1.3h-1.3zM684 414h1.3v1.3h-1.3zM665 380h1.3v1.3h-1.3zM679 330h1.3v1.3h-1.3zM654 385h1.3v1.3h-1.3zM661 361h1.3v1.3h-1.3zM675 326h1.3v1.3h-1.3zM659 361h1.3v1.3h-1.3zM639 390h1.3v1.3h-1.3zM658 353h1.3v1.3h-1.3z" fill="#8492f2" fill-opacity="0.45"/>
<path d="M658 435h1.3v1.3h-1.3zM640 447h1.3v1.3h-1.3zM650 422h1.3v1.3h-1.3zM618 444h1.3v1.3h-1.3zM659 427h1.3v1.3h-1.3zM646 417h1.3v1.3h-1.3zM659 432h1.3v1.3h-1.3zM612 417h1.3v1.3h-1.3zM648 410h1.3v1.3h-1.3zM650 437h1.3v1.3h-1.3zM652 433h1.3v1.3h-1.3zM646 425h1.3v1.3h-1.3zM664 435h1.3v1.3h-1.3zM652 405h1.3v1.3h-1.3zM663 436h1.3v1.3h-1.3zM678 429h1.3v1.3h-1.3zM630 445h1.3v1.3h-1.3zM659 435h1.3v1.3h-1.3zM625 444h1.3v1.3h-1.3zM622 443h1.3v1.3h-1.3zM679 444h1.3v1.3h-1.3zM670 427h1.3v1.3h-1.3zM649 412h1.3v1.3h-1.3zM634 446h1.3v1.3h-1.3zM654 422h1.3v1.3h-1.3zM630 446h1.3v1.3h-1.3zM614 426h1.3v1.3h-1.3zM680 425h1.3v1.3h-1.3zM627 417h1.3v1.3h-1.3zM663 429h1.3v1.3h-1.3zM607 425h1.3v1.3h-1.3zM651 446h1.3v1.3h-1.3zM628 413h1.3v1.3h-1.3zM648 409h1.3v1.3h-1.3zM647 419h1.3v1.3h-1.3zM651 418h1.3v1.3h-1.3zM661 435h1.3v1.3h-1.3zM615 419h1.3v1.3h-1.3zM627 415h1.3v1.3h-1.3zM620 447h1.3v1.3h-1.3zM647 423h1.3v1.3h-1.3zM650 429h1.3v1.3h-1.3zM622 414h1.3v1.3h-1.3zM613 422h1.3v1.3h-1.3zM627 415h1.3v1.3h-1.3zM649 448h1.3v1.3h-1.3zM677 441h1.3v1.3h-1.3zM668 429h1.3v1.3h-1.3zM656 435h1.3v1.3h-1.3zM669 430h1.3v1.3h-1.3zM658 415h1.3v1.3h-1.3zM624 412h1.3v1.3h-1.3zM656 428h1.3v1.3h-1.3zM644 408h1.3v1.3h-1.3zM667 433h1.3v1.3h-1.3zM665 445h1.3v1.3h-1.3zM656 425h1.3v1.3h-1.3zM650 396h1.3v1.3h-1.3zM614 428h1.3v1.3h-1.3zM675 429h1.3v1.3h-1.3zM615 422h1.3v1.3h-1.3zM655 446h1.3v1.3h-1.3zM652 434h1.3v1.3h-1.3zM641 417h1.3v1.3h-1.3zM677 434h1.3v1.3h-1.3zM672 435h1.3v1.3h-1.3zM653 390h1.3v1.3h-1.3zM650 416h1.3v1.3h-1.3zM648 437h1.3v1.3h-1.3zM662 446h1.3v1.3h-1.3zM650 416h1.3v1.3h-1.3zM613 428h1.3v1.3h-1.3zM647 403h1.3v1.3h-1.3zM633 409h1.3v1.3h-1.3zM658 412h1.3v1.3h-1.3zM645 403h1.3v1.3h-1.3zM669 433h1.3v1.3h-1.3zM625 445h1.3v1.3h-1.3zM647 436h1.3v1.3h-1.3zM659 432h1.3v1.3h-1.3zM654 423h1.3v1.3h-1.3zM653 423h1.3v1.3h-1.3zM614 425h1.3v1.3h-1.3zM630 416h1.3v1.3h-1.3zM655 396h1.3v1.3h-1.3zM613 442h1.3v1.3h-1.3zM673 445h1.3v1.3h-1.3zM615 423h1.3v1.3h-1.3zM651 422h1.3v1.3h-1.3zM618 441h1.3v1.3h-1.3zM672 424h1.3v1.3h-1.3zM683 437h1.3v1.3h-1.3zM630 446h1.3v1.3h-1.3zM663 431h1.3v1.3h-1.3zM645 447h1.3v1.3h-1.3zM651 422h1.3v1.3h-1.3zM631 447h1.3v1.3h-1.3zM624 445h1.3v1.3h-1.3zM649 423h1.3v1.3h-1.3zM658 420h1.3v1.3h-1.3zM648 419h1.3v1.3h-1.3zM609 436h1.3v1.3h-1.3zM648 446h1.3v1.3h-1.3zM650 433h1.3v1.3h-1.3zM642 444h1.3v1.3h-1.3zM651 429h1.3v1.3h-1.3zM670 438h1.3v1.3h-1.3zM615 423h1.3v1.3h-1.3zM649 393h1.3v1.3h-1.3zM654 435h1.3v1.3h-1.3zM615 422h1.3v1.3h-1.3zM664 432h1.3v1.3h-1.3zM659 433h1.3v1.3h-1.3zM630 414h1.3v1.3h-1.3zM614 422h1.3v1.3h-1.3zM617 440h1.3v1.3h-1.3zM641 445h1.3v1.3h-1.3zM635 408h1.3v1.3h-1.3zM660 413h1.3v1.3h-1.3zM637 415h1.3v1.3h-1.3zM614 440h1.3v1.3h-1.3zM609 432h1.3v1.3h-1.3zM651 424h1.3v1.3h-1.3zM658 432h1.3v1.3h-1.3zM652 407h1.3v1.3h-1.3zM651 413h1.3v1.3h-1.3zM625 448h1.3v1.3h-1.3zM648 418h1.3v1.3h-1.3zM629 445h1.3v1.3h-1.3zM669 422h1.3v1.3h-1.3zM660 445h1.3v1.3h-1.3zM646 425h1.3v1.3h-1.3zM611 419h1.3v1.3h-1.3zM660 434h1.3v1.3h-1.3zM645 444h1.3v1.3h-1.3zM677 428h1.3v1.3h-1.3zM616 441h1.3v1.3h-1.3zM607 428h1.3v1.3h-1.3zM655 422h1.3v1.3h-1.3zM662 433h1.3v1.3h-1.3zM606 428h1.3v1.3h-1.3zM678 427h1.3v1.3h-1.3zM647 398h1.3v1.3h-1.3zM665 431h1.3v1.3h-1.3zM641 415h1.3v1.3h-1.3zM663 416h1.3v1.3h-1.3zM647 405h1.3v1.3h-1.3zM661 433h1.3v1.3h-1.3zM670 443h1.3v1.3h-1.3zM658 426h1.3v1.3h-1.3zM659 427h1.3v1.3h-1.3zM640 417h1.3v1.3h-1.3zM668 437h1.3v1.3h-1.3zM654 419h1.3v1.3h-1.3zM648 437h1.3v1.3h-1.3zM613 436h1.3v1.3h-1.3zM680 426h1.3v1.3h-1.3zM636 416h1.3v1.3h-1.3zM613 429h1.3v1.3h-1.3zM650 405h1.3v1.3h-1.3zM626 411h1.3v1.3h-1.3zM648 420h1.3v1.3h-1.3zM685 429h1.3v1.3h-1.3zM636 447h1.3v1.3h-1.3zM672 432h1.3v1.3h-1.3zM673 434h1.3v1.3h-1.3zM652 389h1.3v1.3h-1.3zM657 397h1.3v1.3h-1.3zM667 418h1.3v1.3h-1.3zM624 444h1.3v1.3h-1.3zM654 412h1.3v1.3h-1.3zM655 447h1.3v1.3h-1.3zM657 421h1.3v1.3h-1.3zM651 427h1.3v1.3h-1.3zM654 403h1.3v1.3h-1.3zM644 411h1.3v1.3h-1.3zM668 443h1.3v1.3h-1.3zM652 399h1.3v1.3h-1.3zM630 415h1.3v1.3h-1.3zM609 435h1.3v1.3h-1.3zM673 420h1.3v1.3h-1.3zM661 427h1.3v1.3h-1.3zM649 421h1.3v1.3h-1.3zM619 444h1.3v1.3h-1.3zM648 438h1.3v1.3h-1.3zM619 445h1.3v1.3h-1.3zM673 437h1.3v1.3h-1.3zM653 391h1.3v1.3h-1.3zM655 399h1.3v1.3h-1.3zM614 437h1.3v1.3h-1.3zM622 446h1.3v1.3h-1.3zM610 425h1.3v1.3h-1.3zM642 447h1.3v1.3h-1.3zM683 427h1.3v1.3h-1.3zM661 427h1.3v1.3h-1.3zM646 421h1.3v1.3h-1.3zM669 428h1.3v1.3h-1.3zM635 415h1.3v1.3h-1.3zM666 437h1.3v1.3h-1.3zM619 415h1.3v1.3h-1.3zM610 418h1.3v1.3h-1.3zM613 429h1.3v1.3h-1.3zM642 400h1.3v1.3h-1.3zM607 427h1.3v1.3h-1.3zM649 400h1.3v1.3h-1.3zM660 399h1.3v1.3h-1.3zM652 410h1.3v1.3h-1.3zM657 404h1.3v1.3h-1.3zM609 424h1.3v1.3h-1.3zM669 434h1.3v1.3h-1.3zM650 398h1.3v1.3h-1.3zM610 434h1.3v1.3h-1.3zM653 403h1.3v1.3h-1.3zM620 416h1.3v1.3h-1.3zM651 406h1.3v1.3h-1.3zM649 409h1.3v1.3h-1.3zM649 405h1.3v1.3h-1.3zM614 420h1.3v1.3h-1.3zM684 432h1.3v1.3h-1.3zM659 424h1.3v1.3h-1.3zM662 419h1.3v1.3h-1.3zM657 416h1.3v1.3h-1.3zM683 435h1.3v1.3h-1.3zM681 423h1.3v1.3h-1.3zM645 395h1.3v1.3h-1.3zM657 393h1.3v1.3h-1.3zM658 389h1.3v1.3h-1.3zM669 420h1.3v1.3h-1.3zM671 419h1.3v1.3h-1.3zM617 419h1.3v1.3h-1.3zM678 437h1.3v1.3h-1.3zM668 431h1.3v1.3h-1.3zM679 433h1.3v1.3h-1.3zM635 410h1.3v1.3h-1.3zM643 406h1.3v1.3h-1.3zM640 415h1.3v1.3h-1.3zM643 399h1.3v1.3h-1.3zM613 422h1.3v1.3h-1.3zM627 410h1.3v1.3h-1.3zM681 431h1.3v1.3h-1.3zM653 391h1.3v1.3h-1.3zM653 406h1.3v1.3h-1.3zM612 423h1.3v1.3h-1.3zM670 444h1.3v1.3h-1.3zM654 391h1.3v1.3h-1.3zM663 432h1.3v1.3h-1.3zM656 396h1.3v1.3h-1.3zM679 424h1.3v1.3h-1.3zM657 417h1.3v1.3h-1.3zM607 422h1.3v1.3h-1.3zM660 401h1.3v1.3h-1.3zM638 416h1.3v1.3h-1.3zM647 399h1.3v1.3h-1.3zM654 406h1.3v1.3h-1.3zM644 419h1.3v1.3h-1.3zM666 418h1.3v1.3h-1.3zM654 404h1.3v1.3h-1.3z" fill="#2644e4" fill-opacity="0.6"/>
<path d="M659.4 445.3L657.4 445.4L655.4 445.4L654.3 445.3L652.4 445.1L650.4 444.7L648.6 444.3L647.4 443.9L645.8 443.3L644.4 442.8L642.4 442.7L640.4 443.0L639.1 443.3L637.4 443.7L635.4 444.1L634.1 444.3L632.4 444.5L630.4 444.6L628.4 444.6L626.4 444.4L625.4 444.3L623.4 443.8L622.0 443.3L620.4 442.5L619.4 441.9L618.4 441.1L617.4 440.2L616.4 439.0L615.4 437.5L614.8 436.3L614.4 435.3L613.9 433.3L613.7 431.3L613.8 429.3L614.3 427.3L614.6 426.3L615.4 424.8L616.3 423.3L617.2 422.3L618.2 421.3L619.4 420.3L620.4 419.6L621.4 419.0L622.9 418.3L624.4 417.8L626.3 417.3L627.4 417.1L629.4 416.9L631.4 416.9L633.4 417.1L634.5 417.3L636.4 417.7L638.0 418.3L639.4 418.9L640.4 419.5L641.6 420.3L642.7 421.3L643.6 422.3L644.4 423.3L645.4 424.9L646.0 426.3L646.4 427.3L646.9 429.3L647.0 431.3L646.9 433.3L646.6 435.3L646.9 437.3L648.4 438.1L650.4 438.0L652.4 437.7L654.4 437.5L656.3 437.3L657.4 437.2L659.4 437.1L661.4 437.2L662.6 437.3L664.4 437.6L666.4 438.1L667.4 438.5L668.6 439.3L669.3 441.3L668.4 442.6L667.4 443.3L665.4 444.2L664.4 444.5L662.4 444.9L660.4 445.2L659.4 445.3Z" fill="#3cc8f0"/>
<path d="M634.4 442.4L632.4 442.8L630.4 443.1L628.4 443.1L626.4 442.9L624.4 442.4L623.4 442.1L621.8 441.3L620.4 440.4L619.4 439.6L618.4 438.5L617.6 437.3L617.0 436.3L616.4 434.7L616.0 433.3L615.9 431.3L616.1 429.3L616.4 428.0L617.1 426.3L617.6 425.3L618.4 424.2L619.4 423.1L620.4 422.2L621.6 421.3L623.4 420.3L624.4 419.9L626.4 419.3L627.4 419.1L629.4 418.9L631.4 419.0L633.4 419.3L634.4 419.5L636.4 420.2L637.4 420.7L638.5 421.3L639.8 422.3L640.8 423.3L641.7 424.3L642.4 425.5L643.2 427.3L643.5 428.3L643.9 430.3L643.8 432.3L643.4 434.1L643.0 435.3L642.4 436.7L641.4 438.3L640.6 439.3L639.4 440.2L638.4 440.9L637.4 441.4L635.4 442.1L634.4 442.4ZM658.4 444.3L656.4 444.3L655.4 444.2L653.4 443.9L651.7 443.3L650.6 442.3L651.4 440.7L652.4 440.1L654.4 439.4L655.4 439.2L657.4 438.8L659.4 438.7L661.4 438.8L663.4 439.2L664.4 439.5L665.6 440.3L665.4 442.3L664.4 442.9L663.4 443.4L661.4 443.9L659.4 444.2L658.4 444.3Z" fill="#4cf04c"/>
<path d="M628.4 437.4L626.4 437.4L625.4 437.1L624.0 436.3L623.0 435.3L622.4 433.8L622.3 432.3L622.5 431.3L623.4 429.5L624.4 428.5L625.4 427.8L626.6 427.3L628.4 427.0L630.4 427.3L631.4 427.7L632.4 428.4L633.4 429.7L633.9 431.3L633.7 433.3L633.2 434.3L632.4 435.4L631.4 436.3L629.4 437.2L628.4 437.4Z" fill="#b4f232"/>
<path d="M629.4 435.7L627.4 436.1L625.4 435.5L624.4 434.6L623.8 433.3L624.1 431.3L624.8 430.3L626.1 429.3L627.4 428.9L629.4 429.0L630.4 429.5L631.4 430.5L631.9 432.3L631.4 433.8L630.4 435.0L629.4 435.7Z" fill="#f09424"/>
<path d="M628.4 434.7L626.4 434.6L625.4 433.6L625.2 432.3L625.7 431.3L627.3 430.3L628.4 430.3L629.4 430.7L630.3 432.3L629.4 434.1L628.4 434.7Z" fill="#e2561e"/>
<path d="M557.4 270.3 H740.5" fill="none" stroke="#98a6a6" stroke-width="2.2"/>
<path d="M740.5 270.3 V453.3" fill="none" stroke="#a9b5b5" stroke-width="2.2"/>
<path d="M557.4 269.5 V453.3" fill="none" stroke="#7f9090" stroke-width="2.4"/>
<path d="M556.4 453.3 H741.3" fill="none" stroke="#3c4a4a" stroke-width="2.3"/>
<path d="M551.9 453.3h4.5M554.2 446.3h2.2M554.2 439.3h2.2M554.2 432.3h2.2M554.2 425.3h2.2M551.9 418.3h4.5M554.2 411.4h2.2M554.2 404.4h2.2M554.2 397.4h2.2M554.2 390.4h2.2M551.9 383.4h4.5M554.2 376.4h2.2M554.2 369.4h2.2M554.2 362.4h2.2M554.2 355.4h2.2M551.9 348.4h4.5M554.2 341.5h2.2M554.2 334.5h2.2M554.2 327.5h2.2M554.2 320.5h2.2M551.9 313.5h4.5M554.2 306.5h2.2M554.2 299.5h2.2M554.2 292.5h2.2M554.2 285.5h2.2M551.9 278.5h4.5M554.2 271.5h2.2" stroke="#667474" stroke-width="1.3" fill="none"/>
<text x="550.4" y="421.7" font-size="10.0" text-anchor="end" textLength="15.0" lengthAdjust="spacingAndGlyphs" fill="#9aa6a6" font-weight="bold">50K</text>
<text x="550.4" y="386.8" font-size="10.0" text-anchor="end" textLength="20.0" lengthAdjust="spacingAndGlyphs" fill="#9aa6a6" font-weight="bold">100K</text>
<text x="550.4" y="351.8" font-size="10.0" text-anchor="end" textLength="20.0" lengthAdjust="spacingAndGlyphs" fill="#9aa6a6" font-weight="bold">150K</text>
<text x="550.4" y="316.9" font-size="10.0" text-anchor="end" textLength="20.0" lengthAdjust="spacingAndGlyphs" fill="#9aa6a6" font-weight="bold">200K</text>
<text x="550.4" y="281.9" font-size="10.0" text-anchor="end" textLength="20.0" lengthAdjust="spacingAndGlyphs" fill="#9aa6a6" font-weight="bold">250K</text>
<path d="M571.1 454.3v3.5M598.0 454.3v4.2M611.1 454.3v2.2M618.7 454.3v2.2M624.1 454.3v2.2M628.3 454.3v2.2M631.7 454.3v2.2M634.6 454.3v2.2M637.1 454.3v2.2M639.3 454.3v2.2M641.3 454.3v4.2M654.2 454.3v2.2M661.7 454.3v2.2M667.1 454.3v2.2M671.2 454.3v2.2M674.6 454.3v2.2M677.5 454.3v2.2M680.0 454.3v2.2M682.1 454.3v2.2M684.1 454.3v4.2M696.9 454.3v2.2M704.5 454.3v2.2M709.8 454.3v2.2M713.9 454.3v2.2M717.3 454.3v2.2M720.2 454.3v2.2M722.6 454.3v2.2M724.8 454.3v2.2M726.8 454.3v4.2M561.1 454.3v2.2M564.7 454.3v2.2M577.5 454.3v2.2M583.0 454.3v2.2M588.5 454.3v2.2M592.2 454.3v2.2" stroke="#667474" stroke-width="1.3" fill="none"/>
<path d="M575.9 453.3v4.5" stroke="#1a2626" stroke-width="2.6"/>
<text x="571.1" y="475.6" font-size="10.5" text-anchor="middle" textLength="5" lengthAdjust="spacingAndGlyphs" fill="#95a1a1" font-weight="bold">0</text>
<text x="590.8" y="475.6" font-size="10.5" textLength="9.4" lengthAdjust="spacingAndGlyphs" fill="#95a1a1" font-weight="bold">10</text>
<text x="600.7" y="469.1" font-size="8" textLength="3.4" lengthAdjust="spacingAndGlyphs" fill="#95a1a1" font-weight="bold">2</text>
<text x="634.1" y="475.6" font-size="10.5" textLength="9.4" lengthAdjust="spacingAndGlyphs" fill="#95a1a1" font-weight="bold">10</text>
<text x="644.0" y="469.1" font-size="8" textLength="3.4" lengthAdjust="spacingAndGlyphs" fill="#95a1a1" font-weight="bold">3</text>
<text x="676.9" y="475.6" font-size="10.5" textLength="9.4" lengthAdjust="spacingAndGlyphs" fill="#95a1a1" font-weight="bold">10</text>
<text x="686.8" y="469.1" font-size="8" textLength="3.4" lengthAdjust="spacingAndGlyphs" fill="#95a1a1" font-weight="bold">4</text>
<text x="719.6" y="475.6" font-size="10.5" textLength="9.4" lengthAdjust="spacingAndGlyphs" fill="#95a1a1" font-weight="bold">10</text>
<text x="729.5" y="469.1" font-size="8" textLength="3.4" lengthAdjust="spacingAndGlyphs" fill="#95a1a1" font-weight="bold">5</text>
<path d="M881.4 204.2L879.4 204.4L877.4 204.6L875.4 204.7L873.4 204.9L871.4 205.0L869.4 205.0L867.4 205.0L865.4 204.8L864.4 204.1L863.4 202.9L862.6 201.2L862.4 199.3L862.3 198.2L862.3 196.2L862.4 195.2L862.6 193.2L862.8 191.2L863.2 189.2L863.4 187.8L863.5 186.2L863.5 184.2L863.6 182.2L863.6 180.2L863.7 178.2L863.8 176.2L864.0 174.2L864.4 172.2L864.6 171.2L865.1 169.2L865.5 168.2L866.4 166.7L867.4 165.8L868.4 165.1L869.7 164.2L871.1 163.2L872.2 162.2L873.1 161.2L873.9 160.2L874.5 159.2L875.4 157.3L876.0 156.2L876.8 155.2L877.8 155.2L878.7 156.2L879.4 157.2L880.4 158.5L881.4 159.4L882.4 160.2L884.4 161.2L885.4 161.5L887.4 162.0L889.0 162.2L890.4 162.3L892.4 162.3L894.4 162.3L896.0 162.2L897.4 162.1L899.4 162.0L901.4 161.9L903.4 161.8L905.4 161.7L907.4 161.5L909.4 161.4L911.4 161.2L912.4 161.1L914.4 160.7L915.7 160.2L917.0 159.2L917.7 158.2L918.4 156.9L918.9 155.2L919.3 153.2L919.5 152.2L919.8 150.2L920.0 148.2L920.4 146.2L920.5 145.2L920.8 143.2L921.2 141.2L921.4 140.0L921.7 138.2L922.1 136.2L922.4 134.9L922.7 133.2L923.2 131.2L923.4 130.2L923.8 128.2L924.3 126.2L924.6 125.2L925.0 123.2L925.4 121.8L925.8 120.2L926.4 118.3L926.8 117.2L927.4 115.4L928.0 114.2L928.5 113.2L929.4 112.1L931.4 111.9L932.4 113.2L932.8 114.2L933.4 115.6L933.9 117.2L934.4 119.1L934.6 120.2L935.1 122.2L935.4 123.9L935.6 125.2L936.0 127.2L936.3 129.2L936.5 130.2L936.8 132.2L937.0 134.2L937.3 136.2L937.4 137.5L937.6 139.2L937.8 141.2L937.9 143.2L938.0 145.2L938.1 147.2L938.2 149.2L938.3 151.2L938.3 153.2L938.3 155.2L938.3 157.2L938.4 158.9L938.5 160.2L938.7 162.2L939.0 164.2L939.4 166.0L939.8 167.2L940.4 168.5L941.4 170.2L942.2 171.2L943.3 172.2L944.4 173.2L945.4 174.0L946.4 174.8L947.4 175.8L948.4 177.2L948.7 178.2L948.7 180.2L948.4 181.2L947.4 182.9L946.5 184.2L945.6 185.2L944.7 186.2L943.7 187.2L942.7 188.2L941.6 189.2L940.6 190.2L939.5 191.2L938.5 192.2L937.5 193.2L936.4 194.2L935.4 195.2L934.4 196.1L933.4 197.0L932.4 197.9L931.4 198.7L930.4 199.3L928.8 200.2L927.4 200.8L926.0 201.2L924.4 201.6L922.4 201.9L920.4 202.2L919.4 202.4L917.4 202.7L915.4 203.0L913.8 203.2L912.4 203.4L910.4 203.7L908.4 203.8L906.4 204.0L904.4 204.1L902.4 204.1L900.4 204.1L898.4 204.1L896.4 204.0L894.4 204.0L892.4 204.0L890.4 203.9L888.4 204.0L886.4 204.0L884.4 204.1L882.4 204.2L881.4 204.2Z" fill="url(#pl0)"/>
<path d="M881.4 203.2L879.4 203.5L877.4 203.7L875.4 203.9L873.4 204.0L871.4 204.1L869.4 204.2L867.4 204.2L865.4 203.9L864.4 203.1L863.4 201.2L863.1 200.2L862.8 198.2L862.8 196.2L863.0 194.2L863.4 192.5L863.6 191.2L863.9 189.2L864.2 187.2L864.4 185.2L864.4 184.2L864.5 182.2L864.5 180.2L864.7 178.2L864.9 176.2L865.2 174.2L865.5 173.2L866.4 171.2L867.4 170.3L868.4 169.7L869.6 169.2L871.4 168.5L872.4 168.1L874.4 167.5L875.5 167.2L877.4 166.8L879.4 166.5L881.4 166.4L883.4 166.3L885.4 166.3L887.4 166.3L889.4 166.2L891.0 166.2L892.4 166.1L894.4 166.1L896.4 166.0L898.4 165.9L900.4 165.7L902.4 165.6L904.4 165.5L906.4 165.3L907.9 165.2L909.4 165.0L911.4 164.8L913.4 164.5L915.3 164.2L916.4 163.9L918.0 163.2L919.3 162.2L920.1 161.2L920.6 160.2L921.3 158.2L921.6 157.2L922.0 155.2L922.3 153.2L922.5 152.2L922.8 150.2L923.1 148.2L923.4 146.8L923.7 145.2L924.1 143.2L924.4 142.1L924.9 140.2L925.4 138.4L925.8 137.2L926.4 135.4L926.9 134.2L927.4 133.1L928.4 131.5L929.4 130.6L931.4 131.2L932.0 132.2L932.5 133.2L933.3 135.2L933.6 136.2L934.1 138.2L934.4 139.9L934.6 141.2L934.9 143.2L935.2 145.2L935.4 147.2L935.4 148.2L935.6 150.2L935.6 152.2L935.7 154.2L935.7 156.2L935.8 158.2L935.8 160.2L935.9 162.2L936.0 164.2L936.2 166.2L936.4 167.2L936.8 169.2L937.3 171.2L937.7 172.2L938.4 173.8L939.2 175.2L939.9 176.2L940.5 177.2L941.4 178.9L941.7 180.2L941.4 181.6L940.7 183.2L940.1 184.2L939.3 185.2L938.4 186.2L937.4 187.4L936.4 188.5L935.4 189.6L934.4 190.7L933.4 191.8L932.4 192.9L931.4 193.9L930.4 194.8L929.4 195.6L928.4 196.4L927.0 197.2L925.4 198.0L924.4 198.5L922.4 199.2L921.4 199.5L919.4 200.1L918.4 200.4L916.4 201.0L915.4 201.2L913.4 201.7L911.4 202.1L910.4 202.2L908.4 202.5L906.4 202.7L904.4 202.9L902.4 202.9L900.4 202.9L898.4 202.9L896.4 202.8L894.4 202.7L892.4 202.7L890.4 202.7L888.4 202.8L886.4 202.9L884.4 203.0L882.4 203.2L881.4 203.2Z" fill="url(#pl1)"/>
<path d="M870.4 203.2L868.4 203.3L866.7 203.2L865.4 202.8L864.4 201.7L863.8 200.2L863.6 198.2L863.6 196.2L863.7 194.2L864.1 192.2L864.4 191.2L864.9 189.2L865.4 187.4L865.7 186.2L866.0 184.2L866.1 182.2L866.4 180.2L866.6 179.2L867.4 177.2L868.2 176.2L869.4 175.3L870.4 174.7L871.4 174.2L873.4 173.3L874.4 172.9L876.4 172.2L877.4 172.0L879.4 171.5L881.2 171.2L882.4 171.0L884.4 170.8L886.4 170.6L888.4 170.5L890.4 170.3L892.3 170.2L893.4 170.1L895.4 170.0L897.4 169.9L899.4 169.7L901.4 169.6L903.4 169.4L904.9 169.2L906.4 169.0L908.4 168.7L910.4 168.4L912.3 168.2L913.4 168.1L915.4 167.8L917.4 167.5L918.6 167.2L920.4 166.5L921.4 166.0L922.4 165.2L923.4 164.1L924.4 162.3L924.9 161.2L925.4 159.5L925.8 158.2L926.3 156.2L926.5 155.2L927.1 153.2L927.4 152.2L928.4 150.3L929.4 149.8L930.4 150.9L930.8 152.2L931.2 154.2L931.4 155.3L931.6 157.2L931.7 159.2L931.8 161.2L932.0 163.2L932.2 165.2L932.4 166.5L932.7 168.2L933.0 170.2L933.4 172.0L933.7 173.2L934.2 175.2L934.5 176.2L935.2 178.2L935.5 179.2L935.7 181.2L935.4 182.8L934.8 184.2L934.2 185.2L933.4 186.4L932.4 187.6L931.4 188.8L930.4 189.8L929.4 190.8L928.4 191.6L927.4 192.4L926.3 193.2L924.6 194.2L923.4 194.9L922.4 195.4L920.6 196.2L919.4 196.7L918.3 197.2L916.4 198.0L915.4 198.4L913.4 199.2L912.4 199.6L910.4 200.1L909.4 200.4L907.4 200.8L905.4 201.1L903.7 201.2L902.4 201.3L900.4 201.3L899.2 201.2L897.4 201.1L895.4 201.0L893.4 200.9L891.4 201.0L889.4 201.1L888.4 201.2L886.4 201.4L884.4 201.7L882.4 201.9L880.4 202.2L879.4 202.3L877.4 202.6L875.4 202.8L873.4 203.0L871.4 203.2L870.4 203.2Z" fill="url(#pbl)"/>
<path d="M895 165h1.3v1.3h-1.3zM863 188h1.3v1.3h-1.3zM912 158h1.3v1.3h-1.3zM904 155h1.3v1.3h-1.3zM926 134h1.3v1.3h-1.3zM893 163h1.3v1.3h-1.3zM938 142h1.3v1.3h-1.3zM901 162h1.3v1.3h-1.3zM947 182h1.3v1.3h-1.3zM864 192h1.3v1.3h-1.3zM945 184h1.3v1.3h-1.3zM863 203h1.3v1.3h-1.3zM864 180h1.3v1.3h-1.3zM939 151h1.3v1.3h-1.3zM863 199h1.3v1.3h-1.3zM893 203h1.3v1.3h-1.3zM910 164h1.3v1.3h-1.3zM938 189h1.3v1.3h-1.3zM876 163h1.3v1.3h-1.3zM935 137h1.3v1.3h-1.3zM944 182h1.3v1.3h-1.3zM888 165h1.3v1.3h-1.3zM862 191h1.3v1.3h-1.3zM879 165h1.3v1.3h-1.3zM865 171h1.3v1.3h-1.3zM929 197h1.3v1.3h-1.3zM863 203h1.3v1.3h-1.3zM922 135h1.3v1.3h-1.3zM907 161h1.3v1.3h-1.3zM905 205h1.3v1.3h-1.3zM887 205h1.3v1.3h-1.3zM929 198h1.3v1.3h-1.3zM933 121h1.3v1.3h-1.3zM929 118h1.3v1.3h-1.3zM914 157h1.3v1.3h-1.3zM919 147h1.3v1.3h-1.3zM933 120h1.3v1.3h-1.3zM928 128h1.3v1.3h-1.3zM874 142h1.3v1.3h-1.3zM937 104h1.3v1.3h-1.3zM938 134h1.3v1.3h-1.3zM920 156h1.3v1.3h-1.3zM927 125h1.3v1.3h-1.3zM926 129h1.3v1.3h-1.3zM889 163h1.3v1.3h-1.3zM879 151h1.3v1.3h-1.3zM931 91h1.3v1.3h-1.3zM884 159h1.3v1.3h-1.3zM928 107h1.3v1.3h-1.3zM917 142h1.3v1.3h-1.3zM925 116h1.3v1.3h-1.3zM883 160h1.3v1.3h-1.3zM913 163h1.3v1.3h-1.3zM936 133h1.3v1.3h-1.3zM930 112h1.3v1.3h-1.3zM903 143h1.3v1.3h-1.3zM920 138h1.3v1.3h-1.3zM868 152h1.3v1.3h-1.3zM939 171h1.3v1.3h-1.3zM922 137h1.3v1.3h-1.3zM940 134h1.3v1.3h-1.3zM873 160h1.3v1.3h-1.3zM879 149h1.3v1.3h-1.3zM937 147h1.3v1.3h-1.3zM879 166h1.3v1.3h-1.3zM934 93h1.3v1.3h-1.3zM924 137h1.3v1.3h-1.3zM919 96h1.3v1.3h-1.3zM925 112h1.3v1.3h-1.3zM876 141h1.3v1.3h-1.3zM929 107h1.3v1.3h-1.3zM932 131h1.3v1.3h-1.3zM924 116h1.3v1.3h-1.3zM931 91h1.3v1.3h-1.3zM870 165h1.3v1.3h-1.3zM929 99h1.3v1.3h-1.3zM898 154h1.3v1.3h-1.3zM886 159h1.3v1.3h-1.3zM868 152h1.3v1.3h-1.3zM882 158h1.3v1.3h-1.3zM881 148h1.3v1.3h-1.3zM928 97h1.3v1.3h-1.3zM919 111h1.3v1.3h-1.3zM895 148h1.3v1.3h-1.3zM909 153h1.3v1.3h-1.3zM912 161h1.3v1.3h-1.3zM890 161h1.3v1.3h-1.3zM933 101h1.3v1.3h-1.3zM909 148h1.3v1.3h-1.3zM935 133h1.3v1.3h-1.3zM933 124h1.3v1.3h-1.3zM935 122h1.3v1.3h-1.3zM932 113h1.3v1.3h-1.3zM919 116h1.3v1.3h-1.3zM924 140h1.3v1.3h-1.3zM897 157h1.3v1.3h-1.3zM904 136h1.3v1.3h-1.3zM926 118h1.3v1.3h-1.3zM928 127h1.3v1.3h-1.3zM926 126h1.3v1.3h-1.3zM875 151h1.3v1.3h-1.3zM879 140h1.3v1.3h-1.3zM934 100h1.3v1.3h-1.3zM892 137h1.3v1.3h-1.3zM924 98h1.3v1.3h-1.3zM877 134h1.3v1.3h-1.3zM931 129h1.3v1.3h-1.3zM922 126h1.3v1.3h-1.3zM878 152h1.3v1.3h-1.3zM940 130h1.3v1.3h-1.3zM885 138h1.3v1.3h-1.3zM948 171h1.3v1.3h-1.3zM922 109h1.3v1.3h-1.3zM870 160h1.3v1.3h-1.3zM903 132h1.3v1.3h-1.3zM872 153h1.3v1.3h-1.3zM921 135h1.3v1.3h-1.3zM905 142h1.3v1.3h-1.3zM876 135h1.3v1.3h-1.3zM931 107h1.3v1.3h-1.3zM890 139h1.3v1.3h-1.3zM925 95h1.3v1.3h-1.3zM883 141h1.3v1.3h-1.3zM929 90h1.3v1.3h-1.3zM866 161h1.3v1.3h-1.3zM876 145h1.3v1.3h-1.3zM938 171h1.3v1.3h-1.3zM924 129h1.3v1.3h-1.3zM921 126h1.3v1.3h-1.3zM900 132h1.3v1.3h-1.3zM931 97h1.3v1.3h-1.3zM929 122h1.3v1.3h-1.3zM874 145h1.3v1.3h-1.3zM894 155h1.3v1.3h-1.3zM936 132h1.3v1.3h-1.3zM897 149h1.3v1.3h-1.3zM873 162h1.3v1.3h-1.3zM933 131h1.3v1.3h-1.3zM920 135h1.3v1.3h-1.3zM891 151h1.3v1.3h-1.3zM937 190h1.3v1.3h-1.3zM920 142h1.3v1.3h-1.3zM907 152h1.3v1.3h-1.3zM886 146h1.3v1.3h-1.3zM931 114h1.3v1.3h-1.3zM915 131h1.3v1.3h-1.3zM888 160h1.3v1.3h-1.3zM937 149h1.3v1.3h-1.3zM885 141h1.3v1.3h-1.3zM929 114h1.3v1.3h-1.3zM937 131h1.3v1.3h-1.3zM871 154h1.3v1.3h-1.3zM937 104h1.3v1.3h-1.3zM917 148h1.3v1.3h-1.3zM872 141h1.3v1.3h-1.3zM867 159h1.3v1.3h-1.3zM923 119h1.3v1.3h-1.3zM917 123h1.3v1.3h-1.3zM903 160h1.3v1.3h-1.3zM930 122h1.3v1.3h-1.3zM923 105h1.3v1.3h-1.3zM870 143h1.3v1.3h-1.3zM922 133h1.3v1.3h-1.3zM924 128h1.3v1.3h-1.3zM932 85h1.3v1.3h-1.3zM929 90h1.3v1.3h-1.3zM923 121h1.3v1.3h-1.3zM927 130h1.3v1.3h-1.3zM913 144h1.3v1.3h-1.3zM880 157h1.3v1.3h-1.3zM932 125h1.3v1.3h-1.3zM934 115h1.3v1.3h-1.3zM900 149h1.3v1.3h-1.3zM939 149h1.3v1.3h-1.3zM912 164h1.3v1.3h-1.3zM923 145h1.3v1.3h-1.3zM932 100h1.3v1.3h-1.3zM879 159h1.3v1.3h-1.3zM932 128h1.3v1.3h-1.3zM919 153h1.3v1.3h-1.3zM927 131h1.3v1.3h-1.3zM890 147h1.3v1.3h-1.3zM925 102h1.3v1.3h-1.3zM935 146h1.3v1.3h-1.3zM880 164h1.3v1.3h-1.3zM893 138h1.3v1.3h-1.3z" fill="#8492f2" fill-opacity="0.45"/>
<path d="M931 190h1.3v1.3h-1.3zM928 185h1.3v1.3h-1.3zM878 181h1.3v1.3h-1.3zM880 177h1.3v1.3h-1.3zM930 191h1.3v1.3h-1.3zM929 160h1.3v1.3h-1.3zM884 202h1.3v1.3h-1.3zM885 184h1.3v1.3h-1.3zM926 193h1.3v1.3h-1.3zM930 192h1.3v1.3h-1.3zM863 197h1.3v1.3h-1.3zM931 162h1.3v1.3h-1.3zM864 192h1.3v1.3h-1.3zM900 172h1.3v1.3h-1.3zM922 156h1.3v1.3h-1.3zM930 164h1.3v1.3h-1.3zM886 200h1.3v1.3h-1.3zM928 195h1.3v1.3h-1.3zM867 173h1.3v1.3h-1.3zM927 174h1.3v1.3h-1.3zM892 177h1.3v1.3h-1.3zM908 171h1.3v1.3h-1.3zM893 176h1.3v1.3h-1.3zM877 186h1.3v1.3h-1.3zM888 181h1.3v1.3h-1.3zM915 196h1.3v1.3h-1.3zM926 172h1.3v1.3h-1.3zM899 199h1.3v1.3h-1.3zM870 189h1.3v1.3h-1.3zM888 181h1.3v1.3h-1.3zM898 202h1.3v1.3h-1.3zM905 199h1.3v1.3h-1.3zM878 201h1.3v1.3h-1.3zM904 170h1.3v1.3h-1.3zM922 172h1.3v1.3h-1.3zM888 176h1.3v1.3h-1.3zM925 190h1.3v1.3h-1.3zM875 178h1.3v1.3h-1.3zM902 175h1.3v1.3h-1.3zM886 181h1.3v1.3h-1.3zM889 177h1.3v1.3h-1.3zM916 173h1.3v1.3h-1.3zM868 190h1.3v1.3h-1.3zM918 172h1.3v1.3h-1.3zM926 143h1.3v1.3h-1.3zM866 176h1.3v1.3h-1.3zM902 202h1.3v1.3h-1.3zM933 150h1.3v1.3h-1.3zM926 159h1.3v1.3h-1.3zM892 199h1.3v1.3h-1.3zM935 175h1.3v1.3h-1.3zM918 174h1.3v1.3h-1.3zM915 171h1.3v1.3h-1.3zM926 156h1.3v1.3h-1.3zM874 170h1.3v1.3h-1.3zM922 154h1.3v1.3h-1.3zM929 166h1.3v1.3h-1.3zM882 201h1.3v1.3h-1.3zM930 180h1.3v1.3h-1.3zM910 171h1.3v1.3h-1.3zM894 166h1.3v1.3h-1.3zM921 193h1.3v1.3h-1.3zM875 187h1.3v1.3h-1.3zM893 200h1.3v1.3h-1.3zM924 190h1.3v1.3h-1.3zM925 188h1.3v1.3h-1.3zM903 170h1.3v1.3h-1.3zM914 197h1.3v1.3h-1.3zM890 178h1.3v1.3h-1.3zM876 184h1.3v1.3h-1.3zM925 159h1.3v1.3h-1.3zM911 173h1.3v1.3h-1.3zM868 178h1.3v1.3h-1.3zM926 195h1.3v1.3h-1.3zM931 182h1.3v1.3h-1.3zM873 177h1.3v1.3h-1.3zM929 151h1.3v1.3h-1.3zM930 178h1.3v1.3h-1.3zM931 142h1.3v1.3h-1.3zM928 189h1.3v1.3h-1.3zM865 189h1.3v1.3h-1.3zM893 178h1.3v1.3h-1.3zM925 197h1.3v1.3h-1.3zM928 182h1.3v1.3h-1.3zM895 166h1.3v1.3h-1.3zM873 177h1.3v1.3h-1.3zM870 183h1.3v1.3h-1.3zM863 197h1.3v1.3h-1.3zM917 172h1.3v1.3h-1.3zM882 175h1.3v1.3h-1.3zM865 202h1.3v1.3h-1.3zM928 194h1.3v1.3h-1.3zM874 201h1.3v1.3h-1.3zM872 204h1.3v1.3h-1.3zM920 165h1.3v1.3h-1.3zM936 175h1.3v1.3h-1.3zM882 181h1.3v1.3h-1.3zM872 189h1.3v1.3h-1.3zM872 186h1.3v1.3h-1.3zM875 176h1.3v1.3h-1.3zM903 166h1.3v1.3h-1.3zM929 186h1.3v1.3h-1.3zM903 170h1.3v1.3h-1.3zM882 177h1.3v1.3h-1.3zM900 177h1.3v1.3h-1.3zM864 201h1.3v1.3h-1.3zM924 159h1.3v1.3h-1.3zM920 171h1.3v1.3h-1.3zM884 181h1.3v1.3h-1.3zM930 155h1.3v1.3h-1.3zM896 179h1.3v1.3h-1.3zM876 176h1.3v1.3h-1.3zM889 174h1.3v1.3h-1.3zM919 170h1.3v1.3h-1.3zM888 183h1.3v1.3h-1.3zM865 194h1.3v1.3h-1.3zM871 178h1.3v1.3h-1.3zM872 177h1.3v1.3h-1.3zM900 173h1.3v1.3h-1.3zM864 197h1.3v1.3h-1.3zM917 167h1.3v1.3h-1.3zM920 194h1.3v1.3h-1.3zM920 168h1.3v1.3h-1.3zM896 178h1.3v1.3h-1.3zM867 179h1.3v1.3h-1.3zM928 185h1.3v1.3h-1.3zM916 165h1.3v1.3h-1.3zM912 169h1.3v1.3h-1.3zM922 192h1.3v1.3h-1.3zM887 169h1.3v1.3h-1.3zM893 170h1.3v1.3h-1.3zM931 190h1.3v1.3h-1.3zM879 201h1.3v1.3h-1.3zM903 172h1.3v1.3h-1.3zM895 171h1.3v1.3h-1.3zM872 188h1.3v1.3h-1.3zM883 179h1.3v1.3h-1.3zM930 178h1.3v1.3h-1.3zM890 174h1.3v1.3h-1.3zM886 172h1.3v1.3h-1.3zM913 173h1.3v1.3h-1.3zM894 176h1.3v1.3h-1.3zM870 185h1.3v1.3h-1.3zM931 182h1.3v1.3h-1.3zM924 163h1.3v1.3h-1.3zM874 186h1.3v1.3h-1.3zM899 176h1.3v1.3h-1.3zM873 203h1.3v1.3h-1.3zM863 196h1.3v1.3h-1.3zM865 202h1.3v1.3h-1.3zM877 170h1.3v1.3h-1.3zM936 170h1.3v1.3h-1.3zM928 164h1.3v1.3h-1.3zM927 189h1.3v1.3h-1.3zM887 199h1.3v1.3h-1.3zM933 155h1.3v1.3h-1.3zM863 199h1.3v1.3h-1.3zM892 178h1.3v1.3h-1.3zM901 177h1.3v1.3h-1.3zM928 179h1.3v1.3h-1.3zM929 181h1.3v1.3h-1.3zM929 168h1.3v1.3h-1.3zM875 171h1.3v1.3h-1.3zM898 175h1.3v1.3h-1.3zM937 186h1.3v1.3h-1.3zM899 200h1.3v1.3h-1.3zM886 176h1.3v1.3h-1.3zM918 166h1.3v1.3h-1.3zM918 193h1.3v1.3h-1.3zM934 158h1.3v1.3h-1.3zM884 183h1.3v1.3h-1.3zM872 174h1.3v1.3h-1.3zM892 175h1.3v1.3h-1.3zM931 184h1.3v1.3h-1.3zM928 139h1.3v1.3h-1.3zM883 174h1.3v1.3h-1.3zM929 157h1.3v1.3h-1.3zM881 182h1.3v1.3h-1.3zM931 147h1.3v1.3h-1.3zM870 176h1.3v1.3h-1.3zM928 136h1.3v1.3h-1.3zM929 139h1.3v1.3h-1.3zM879 175h1.3v1.3h-1.3zM929 137h1.3v1.3h-1.3zM933 156h1.3v1.3h-1.3zM932 158h1.3v1.3h-1.3zM930 177h1.3v1.3h-1.3zM933 136h1.3v1.3h-1.3zM928 137h1.3v1.3h-1.3zM932 141h1.3v1.3h-1.3zM926 142h1.3v1.3h-1.3zM934 154h1.3v1.3h-1.3zM926 147h1.3v1.3h-1.3zM922 161h1.3v1.3h-1.3zM932 135h1.3v1.3h-1.3zM931 165h1.3v1.3h-1.3zM931 136h1.3v1.3h-1.3zM921 163h1.3v1.3h-1.3zM936 152h1.3v1.3h-1.3zM931 163h1.3v1.3h-1.3zM931 150h1.3v1.3h-1.3zM880 171h1.3v1.3h-1.3zM925 147h1.3v1.3h-1.3zM916 167h1.3v1.3h-1.3zM929 156h1.3v1.3h-1.3zM935 143h1.3v1.3h-1.3zM866 180h1.3v1.3h-1.3zM923 149h1.3v1.3h-1.3zM925 143h1.3v1.3h-1.3zM926 147h1.3v1.3h-1.3zM929 163h1.3v1.3h-1.3zM928 141h1.3v1.3h-1.3zM925 153h1.3v1.3h-1.3zM929 137h1.3v1.3h-1.3zM934 164h1.3v1.3h-1.3zM879 170h1.3v1.3h-1.3zM931 146h1.3v1.3h-1.3zM930 157h1.3v1.3h-1.3zM931 137h1.3v1.3h-1.3zM924 159h1.3v1.3h-1.3zM908 167h1.3v1.3h-1.3zM925 165h1.3v1.3h-1.3zM931 153h1.3v1.3h-1.3zM929 133h1.3v1.3h-1.3zM884 168h1.3v1.3h-1.3zM928 163h1.3v1.3h-1.3zM889 168h1.3v1.3h-1.3z" fill="#2644e4" fill-opacity="0.6"/>
<path d="M872.4 201.3L870.4 201.5L868.4 201.6L866.4 201.3L865.4 200.4L864.9 199.2L864.7 197.2L864.8 195.2L865.3 193.2L865.8 192.2L866.6 191.2L868.4 190.2L869.4 189.9L871.4 189.4L872.4 189.1L874.4 188.5L875.7 188.2L877.4 187.6L878.7 187.2L880.4 186.6L881.5 186.2L883.4 185.5L884.4 185.1L886.4 184.4L887.4 184.0L889.4 183.2L890.4 182.7L891.6 182.2L893.4 181.2L894.4 180.6L895.4 180.1L896.8 179.2L898.4 178.3L899.4 177.8L900.6 177.2L902.4 176.4L903.4 176.0L905.4 175.2L906.4 174.9L908.4 174.3L909.4 174.1L911.4 173.7L913.4 173.4L915.4 173.3L917.4 173.3L919.4 173.5L921.4 173.8L922.7 174.2L924.4 175.0L925.4 175.8L926.4 177.0L927.2 178.2L927.6 179.2L928.2 181.2L928.1 183.2L927.4 185.0L926.6 186.2L925.7 187.2L924.6 188.2L923.4 189.1L922.4 189.9L921.4 190.5L920.3 191.2L918.7 192.2L917.4 193.0L916.4 193.5L915.2 194.2L913.4 195.1L912.4 195.6L911.0 196.2L909.4 196.8L908.1 197.2L906.4 197.6L904.4 198.0L902.4 198.1L900.4 198.0L898.4 197.9L896.4 197.8L894.4 197.8L892.4 198.0L890.4 198.2L889.4 198.4L887.4 198.7L885.4 199.0L884.3 199.2L882.4 199.6L880.4 199.9L879.1 200.2L877.4 200.5L875.4 200.9L873.4 201.2L872.4 201.3Z" fill="#3cc8f0"/>
<path d="M873.4 200.4L871.4 200.6L869.4 200.7L867.4 200.6L866.3 200.2L865.4 198.7L865.2 197.2L865.4 195.2L865.7 194.2L866.4 192.9L867.4 192.1L869.4 191.3L870.4 191.1L872.4 190.6L874.2 190.2L875.4 189.9L877.4 189.4L878.4 189.1L880.4 188.5L881.4 188.2L883.4 187.5L884.6 187.2L886.4 186.6L887.9 186.2L889.4 185.7L891.1 185.2L892.4 184.7L893.7 184.2L895.4 183.4L896.4 182.9L897.6 182.2L899.1 181.2L900.4 180.3L901.4 179.6L902.4 179.0L903.9 178.2L905.4 177.4L906.4 177.0L908.4 176.3L909.4 176.0L911.4 175.6L913.4 175.4L915.4 175.4L917.4 175.6L919.4 176.2L920.4 176.6L921.5 177.2L922.8 178.2L923.8 179.2L924.5 180.2L925.2 182.2L924.9 184.2L924.4 185.3L923.4 186.6L922.4 187.7L921.4 188.5L920.4 189.3L919.2 190.2L917.7 191.2L916.4 192.1L915.4 192.7L914.4 193.3L912.7 194.2L911.4 194.8L910.4 195.2L908.4 196.0L907.4 196.3L905.4 196.7L903.4 196.9L901.4 196.9L899.4 196.8L897.4 196.7L895.4 196.7L893.4 196.8L891.4 197.0L889.9 197.2L888.4 197.5L886.4 197.8L884.4 198.2L883.4 198.4L881.4 198.8L879.4 199.2L878.4 199.4L876.4 199.8L874.4 200.2L873.4 200.4Z" fill="#4cf04c"/>
<path d="M907.4 192.3L905.4 192.7L903.4 192.7L901.4 192.5L900.4 192.2L898.4 191.2L897.8 190.2L898.4 189.0L899.4 187.9L900.4 187.0L901.4 186.1L902.6 185.2L904.0 184.2L905.4 183.4L906.4 182.9L908.2 182.2L909.4 181.9L911.4 181.8L913.0 182.2L914.4 183.1L915.0 184.2L915.0 186.2L914.4 187.4L913.4 188.7L912.4 189.6L911.4 190.4L910.0 191.2L908.4 191.9L907.4 192.3Z" fill="#b4f232"/>
<path d="M906.4 191.3L904.4 191.4L903.2 191.2L901.5 190.2L901.3 189.2L901.7 188.2L902.5 187.2L903.5 186.2L904.9 185.2L906.4 184.4L907.4 183.9L909.4 183.5L911.4 183.8L912.4 184.5L912.9 186.2L912.4 187.4L911.4 188.7L910.4 189.5L909.3 190.2L907.4 191.0L906.4 191.3Z" fill="#f09424"/>
<path d="M908.4 189.4L906.4 190.0L904.4 189.8L903.7 188.2L904.4 187.2L905.6 186.2L907.4 185.3L908.4 185.0L910.1 185.2L910.9 186.2L910.4 187.7L909.4 188.8L908.4 189.4Z" fill="#e2561e"/>
<path d="M806.4 27.2 H989.7" fill="none" stroke="#98a6a6" stroke-width="2.2"/>
<path d="M989.7 27.2 V208.9" fill="none" stroke="#a9b5b5" stroke-width="2.2"/>
<path d="M806.4 26.4 V208.9" fill="none" stroke="#7f9090" stroke-width="2.4"/>
<path d="M805.4 208.9 H990.5" fill="none" stroke="#3c4a4a" stroke-width="2.3"/>
<path d="M800.9 208.9h4.5M803.2 202.0h2.2M803.2 195.0h2.2M803.2 188.1h2.2M803.2 181.1h2.2M800.9 174.2h4.5M803.2 167.3h2.2M803.2 160.3h2.2M803.2 153.4h2.2M803.2 146.4h2.2M800.9 139.5h4.5M803.2 132.5h2.2M803.2 125.6h2.2M803.2 118.7h2.2M803.2 111.7h2.2M800.9 104.8h4.5M803.2 97.8h2.2M803.2 90.9h2.2M803.2 84.0h2.2M803.2 77.0h2.2M800.9 70.1h4.5M803.2 63.1h2.2M803.2 56.2h2.2M803.2 49.3h2.2M803.2 42.3h2.2M800.9 35.4h4.5M803.2 28.4h2.2" stroke="#667474" stroke-width="1.3" fill="none"/>
<text x="799.4" y="177.7" font-size="10.4" text-anchor="end" textLength="15.375" lengthAdjust="spacingAndGlyphs" fill="#9aa6a6" font-weight="bold">50K</text>
<text x="799.4" y="143.0" font-size="10.4" text-anchor="end" textLength="20.5" lengthAdjust="spacingAndGlyphs" fill="#9aa6a6" font-weight="bold">100K</text>
<text x="799.4" y="108.3" font-size="10.4" text-anchor="end" textLength="20.5" lengthAdjust="spacingAndGlyphs" fill="#9aa6a6" font-weight="bold">150K</text>
<text x="799.4" y="73.6" font-size="10.4" text-anchor="end" textLength="20.5" lengthAdjust="spacingAndGlyphs" fill="#9aa6a6" font-weight="bold">200K</text>
<text x="799.4" y="38.9" font-size="10.4" text-anchor="end" textLength="20.5" lengthAdjust="spacingAndGlyphs" fill="#9aa6a6" font-weight="bold">250K</text>
<path d="M820.1 209.9v3.5M847.1 209.9v4.2M860.1 209.9v2.2M867.7 209.9v2.2M873.1 209.9v2.2M877.3 209.9v2.2M880.8 209.9v2.2M883.7 209.9v2.2M886.2 209.9v2.2M888.4 209.9v2.2M890.4 209.9v4.2M903.3 209.9v2.2M910.8 209.9v2.2M916.2 209.9v2.2M920.3 209.9v2.2M923.7 209.9v2.2M926.6 209.9v2.2M929.1 209.9v2.2M931.3 209.9v2.2M933.2 209.9v4.2M946.1 209.9v2.2M953.6 209.9v2.2M959.0 209.9v2.2M963.1 209.9v2.2M966.5 209.9v2.2M969.3 209.9v2.2M971.8 209.9v2.2M974.0 209.9v2.2M976.0 209.9v4.2M810.1 209.9v2.2M813.7 209.9v2.2M826.6 209.9v2.2M832.1 209.9v2.2M837.6 209.9v2.2M841.2 209.9v2.2" stroke="#667474" stroke-width="1.3" fill="none"/>
<path d="M824.9 208.9v4.5" stroke="#1a2626" stroke-width="2.6"/>
<text x="820.1" y="231.2" font-size="10.5" text-anchor="middle" textLength="5" lengthAdjust="spacingAndGlyphs" fill="#95a1a1" font-weight="bold">0</text>
<text x="839.9" y="231.2" font-size="10.5" textLength="9.4" lengthAdjust="spacingAndGlyphs" fill="#95a1a1" font-weight="bold">10</text>
<text x="849.8" y="224.7" font-size="8" textLength="3.4" lengthAdjust="spacingAndGlyphs" fill="#95a1a1" font-weight="bold">2</text>
<text x="883.2" y="231.2" font-size="10.5" textLength="9.4" lengthAdjust="spacingAndGlyphs" fill="#95a1a1" font-weight="bold">10</text>
<text x="893.1" y="224.7" font-size="8" textLength="3.4" lengthAdjust="spacingAndGlyphs" fill="#95a1a1" font-weight="bold">3</text>
<text x="926.0" y="231.2" font-size="10.5" textLength="9.4" lengthAdjust="spacingAndGlyphs" fill="#95a1a1" font-weight="bold">10</text>
<text x="935.9" y="224.7" font-size="8" textLength="3.4" lengthAdjust="spacingAndGlyphs" fill="#95a1a1" font-weight="bold">4</text>
<text x="968.8" y="231.2" font-size="10.5" textLength="9.4" lengthAdjust="spacingAndGlyphs" fill="#95a1a1" font-weight="bold">10</text>
<text x="978.7" y="224.7" font-size="8" textLength="3.4" lengthAdjust="spacingAndGlyphs" fill="#95a1a1" font-weight="bold">5</text>
<path d="M883.6 447.7L881.6 447.8L879.6 448.0L877.6 448.2L875.6 448.3L873.6 448.4L871.6 448.5L869.6 448.4L867.6 448.3L865.6 447.7L864.6 447.3L863.6 446.6L862.6 445.6L861.7 443.6L861.6 442.6L861.6 441.2L861.7 439.6L862.1 437.6L862.6 436.2L863.0 434.6L863.4 432.6L863.6 431.6L863.8 429.6L863.9 427.6L863.9 425.6L864.1 423.6L864.3 421.6L864.6 419.9L864.8 418.6L865.4 416.6L865.7 415.6L866.6 413.7L867.3 412.6L868.1 411.6L869.0 410.6L870.1 409.6L871.3 408.6L872.4 407.6L873.5 406.6L874.4 405.6L875.2 404.6L875.8 403.6L876.6 401.9L877.3 400.6L878.1 399.6L879.2 399.6L880.0 400.6L880.8 401.6L881.6 402.7L882.6 403.7L883.8 404.6L885.6 405.5L886.6 405.8L888.6 406.3L890.6 406.5L891.9 406.6L893.6 406.6L894.9 406.6L896.6 406.5L898.6 406.4L900.6 406.3L902.6 406.2L904.6 406.1L906.6 406.0L908.6 405.9L910.6 405.7L912.2 405.6L913.6 405.4L915.6 405.0L916.8 404.6L918.2 403.6L919.0 402.6L919.6 401.5L920.2 399.6L920.6 397.7L920.8 396.6L921.0 394.6L921.3 392.6L921.6 390.9L921.8 389.6L922.1 387.6L922.4 385.6L922.6 384.6L923.0 382.6L923.4 380.6L923.6 379.6L924.0 377.6L924.5 375.6L924.7 374.6L925.1 372.6L925.6 370.6L925.8 369.6L926.3 367.6L926.6 366.5L927.1 364.6L927.6 362.9L928.0 361.6L928.6 360.0L929.2 358.6L929.8 357.6L930.6 356.5L932.6 356.2L933.6 357.4L934.2 358.6L934.6 359.6L935.2 361.6L935.6 363.0L936.0 364.6L936.4 366.6L936.6 367.7L937.0 369.6L937.3 371.6L937.6 373.5L937.8 374.6L938.1 376.6L938.3 378.6L938.6 380.6L938.7 381.6L938.9 383.6L939.1 385.6L939.2 387.6L939.3 389.6L939.4 391.6L939.5 393.6L939.5 395.6L939.6 397.6L939.6 399.5L939.6 400.6L939.7 402.6L939.8 404.6L940.0 406.6L940.3 408.6L940.6 410.0L941.2 411.6L941.6 412.7L942.6 414.3L943.6 415.6L944.6 416.6L945.6 417.4L946.6 418.2L947.6 419.1L948.6 420.0L949.6 421.4L950.0 422.6L950.0 424.6L949.6 425.6L948.6 427.4L947.7 428.6L946.8 429.6L945.9 430.6L944.9 431.6L943.9 432.6L942.8 433.6L941.8 434.6L940.7 435.6L939.7 436.6L938.6 437.6L937.6 438.6L936.6 439.6L935.6 440.5L934.6 441.4L933.6 442.2L932.6 442.9L931.3 443.6L929.6 444.3L928.6 444.6L926.6 445.1L924.6 445.4L923.3 445.6L921.6 445.9L919.6 446.1L917.6 446.4L915.8 446.6L914.6 446.8L912.6 447.0L910.6 447.2L908.6 447.4L906.6 447.5L904.6 447.5L902.6 447.5L900.6 447.5L898.6 447.5L896.6 447.4L894.6 447.4L892.6 447.4L890.6 447.4L888.6 447.4L886.6 447.5L884.6 447.6L883.6 447.7Z" fill="url(#pl0)"/>
<path d="M871.6 447.6L869.6 447.6L868.6 447.6L866.6 447.2L865.2 446.6L863.9 445.6L863.3 444.6L862.7 442.6L862.8 440.6L863.1 438.6L863.6 436.9L864.0 435.6L864.6 433.7L864.9 432.6L865.3 430.6L865.4 428.6L865.6 426.6L865.6 425.6L865.8 423.6L866.1 421.6L866.6 419.6L866.9 418.6L867.6 417.0L868.6 415.6L869.6 414.7L870.6 414.0L871.6 413.4L873.5 412.6L874.6 412.2L876.5 411.6L877.6 411.3L879.6 410.9L881.6 410.7L883.6 410.7L885.6 410.6L887.6 410.6L888.6 410.6L890.6 410.6L892.6 410.5L894.6 410.4L896.6 410.3L898.6 410.2L900.6 410.1L902.6 410.0L904.6 409.9L906.6 409.7L908.3 409.6L909.6 409.5L911.6 409.2L913.6 409.0L915.6 408.7L916.6 408.5L918.6 407.9L919.6 407.3L920.6 406.5L921.6 405.1L922.3 403.6L922.6 402.6L923.1 400.6L923.4 398.6L923.6 397.6L923.9 395.6L924.2 393.6L924.6 391.6L924.8 390.6L925.2 388.6L925.6 386.8L925.9 385.6L926.4 383.6L926.7 382.6L927.4 380.6L927.8 379.6L928.6 377.6L929.2 376.6L929.9 375.6L931.6 374.7L932.8 375.6L933.6 376.9L934.3 378.6L934.6 379.6L935.1 381.6L935.6 383.6L935.8 384.6L936.1 386.6L936.4 388.6L936.6 390.6L936.7 391.6L936.8 393.6L936.9 395.6L937.0 397.6L937.0 399.6L937.1 401.6L937.1 403.6L937.1 405.6L937.3 407.6L937.4 409.6L937.6 410.9L937.9 412.6L938.4 414.6L938.7 415.6L939.4 417.6L940.0 418.6L940.6 419.7L941.6 421.2L942.5 422.6L942.8 423.6L942.8 425.6L942.5 426.6L941.6 428.1L940.6 429.5L939.7 430.6L938.8 431.6L937.9 432.6L937.0 433.6L936.1 434.6L935.2 435.6L934.2 436.6L933.3 437.6L932.2 438.6L931.1 439.6L929.7 440.6L928.6 441.3L927.6 441.8L925.7 442.6L924.6 443.0L922.6 443.6L921.6 443.9L919.6 444.4L918.6 444.6L916.6 445.1L914.6 445.4L913.6 445.6L911.6 445.9L909.6 446.2L907.6 446.3L905.6 446.4L903.6 446.5L901.6 446.5L899.6 446.4L897.6 446.4L895.6 446.3L893.6 446.3L891.6 446.3L889.6 446.4L887.6 446.5L885.6 446.6L884.6 446.7L882.6 446.9L880.6 447.1L878.6 447.3L876.6 447.4L874.6 447.5L872.6 447.6L871.6 447.6Z" fill="url(#pl1)"/>
<path d="M874.6 446.6L872.6 446.8L870.6 446.8L868.6 446.7L867.6 446.5L865.7 445.6L864.7 444.6L864.2 443.6L863.9 441.6L864.1 439.6L864.6 437.8L865.0 436.6L865.6 435.2L866.4 433.6L866.9 432.6L867.6 430.7L867.9 429.6L868.2 427.6L868.5 425.6L868.7 424.6L869.2 422.6L869.7 421.6L870.6 420.3L871.6 419.4L872.7 418.6L874.6 417.7L875.6 417.2L877.5 416.6L878.6 416.3L880.6 415.8L881.9 415.6L883.6 415.3L885.6 415.1L887.6 414.9L889.6 414.8L891.6 414.6L892.6 414.6L894.6 414.4L896.6 414.3L898.6 414.2L900.6 414.0L902.6 413.9L904.6 413.7L905.6 413.6L907.6 413.3L909.6 413.0L911.6 412.8L912.9 412.6L914.6 412.4L916.6 412.1L918.6 411.8L919.6 411.6L921.6 410.9L922.6 410.3L923.6 409.6L924.6 408.5L925.6 406.8L926.2 405.6L926.6 404.2L927.1 402.6L927.5 400.6L927.8 399.6L928.4 397.6L928.7 396.6L929.6 394.8L930.6 394.1L931.6 395.0L932.1 396.6L932.5 398.6L932.7 399.6L932.9 401.6L933.0 403.6L933.1 405.6L933.3 407.6L933.5 409.6L933.7 410.6L934.0 412.6L934.4 414.6L934.6 415.8L935.0 417.6L935.5 419.6L935.9 420.6L936.5 422.6L936.8 423.6L937.0 425.6L936.6 427.4L936.1 428.6L935.5 429.6L934.6 430.8L933.6 432.0L932.6 433.2L931.6 434.2L930.6 435.1L929.6 436.0L928.6 436.8L927.4 437.6L925.7 438.6L924.6 439.2L923.6 439.7L921.6 440.6L920.6 441.1L919.3 441.6L917.6 442.3L916.6 442.7L914.6 443.4L913.6 443.7L911.6 444.2L909.6 444.6L908.6 444.7L906.6 445.0L904.6 445.1L902.6 445.1L900.6 445.1L898.6 445.0L896.6 444.9L894.6 444.9L892.6 444.9L890.6 445.1L888.6 445.2L886.6 445.4L884.6 445.6L883.6 445.7L881.6 446.0L879.6 446.2L877.6 446.4L875.6 446.6L874.6 446.6Z" fill="url(#pbl)"/>
<path d="M862 430h1.3v1.3h-1.3zM861 442h1.3v1.3h-1.3zM953 425h1.3v1.3h-1.3zM897 409h1.3v1.3h-1.3zM912 408h1.3v1.3h-1.3zM864 433h1.3v1.3h-1.3zM866 421h1.3v1.3h-1.3zM864 434h1.3v1.3h-1.3zM918 393h1.3v1.3h-1.3zM866 423h1.3v1.3h-1.3zM861 438h1.3v1.3h-1.3zM864 434h1.3v1.3h-1.3zM920 404h1.3v1.3h-1.3zM863 436h1.3v1.3h-1.3zM863 435h1.3v1.3h-1.3zM881 448h1.3v1.3h-1.3zM861 438h1.3v1.3h-1.3zM897 447h1.3v1.3h-1.3zM937 399h1.3v1.3h-1.3zM874 449h1.3v1.3h-1.3zM869 449h1.3v1.3h-1.3zM923 397h1.3v1.3h-1.3zM863 446h1.3v1.3h-1.3zM949 421h1.3v1.3h-1.3zM911 448h1.3v1.3h-1.3zM860 446h1.3v1.3h-1.3zM888 447h1.3v1.3h-1.3zM861 441h1.3v1.3h-1.3zM863 444h1.3v1.3h-1.3zM874 412h1.3v1.3h-1.3zM939 393h1.3v1.3h-1.3zM913 405h1.3v1.3h-1.3zM863 437h1.3v1.3h-1.3zM887 447h1.3v1.3h-1.3zM875 405h1.3v1.3h-1.3zM863 436h1.3v1.3h-1.3zM906 410h1.3v1.3h-1.3zM922 402h1.3v1.3h-1.3zM947 420h1.3v1.3h-1.3zM891 446h1.3v1.3h-1.3zM940 411h1.3v1.3h-1.3zM864 436h1.3v1.3h-1.3zM943 414h1.3v1.3h-1.3zM865 422h1.3v1.3h-1.3zM862 447h1.3v1.3h-1.3zM952 413h1.3v1.3h-1.3zM902 448h1.3v1.3h-1.3zM860 442h1.3v1.3h-1.3zM901 447h1.3v1.3h-1.3zM936 374h1.3v1.3h-1.3zM885 394h1.3v1.3h-1.3zM934 370h1.3v1.3h-1.3zM928 348h1.3v1.3h-1.3zM933 345h1.3v1.3h-1.3zM886 393h1.3v1.3h-1.3zM936 379h1.3v1.3h-1.3zM935 367h1.3v1.3h-1.3zM905 391h1.3v1.3h-1.3zM930 331h1.3v1.3h-1.3zM907 392h1.3v1.3h-1.3zM927 346h1.3v1.3h-1.3zM932 359h1.3v1.3h-1.3zM865 433h1.3v1.3h-1.3zM897 386h1.3v1.3h-1.3zM879 399h1.3v1.3h-1.3zM873 384h1.3v1.3h-1.3zM871 389h1.3v1.3h-1.3zM927 336h1.3v1.3h-1.3zM916 383h1.3v1.3h-1.3zM910 376h1.3v1.3h-1.3zM908 384h1.3v1.3h-1.3zM920 346h1.3v1.3h-1.3zM894 380h1.3v1.3h-1.3zM924 360h1.3v1.3h-1.3zM927 349h1.3v1.3h-1.3zM866 423h1.3v1.3h-1.3zM913 379h1.3v1.3h-1.3zM874 394h1.3v1.3h-1.3zM934 357h1.3v1.3h-1.3zM915 401h1.3v1.3h-1.3zM937 388h1.3v1.3h-1.3zM883 404h1.3v1.3h-1.3zM936 390h1.3v1.3h-1.3zM930 364h1.3v1.3h-1.3zM927 375h1.3v1.3h-1.3zM873 399h1.3v1.3h-1.3zM904 393h1.3v1.3h-1.3zM936 345h1.3v1.3h-1.3zM879 402h1.3v1.3h-1.3zM931 361h1.3v1.3h-1.3zM924 387h1.3v1.3h-1.3zM884 376h1.3v1.3h-1.3zM892 404h1.3v1.3h-1.3zM861 443h1.3v1.3h-1.3zM883 403h1.3v1.3h-1.3zM931 373h1.3v1.3h-1.3zM935 367h1.3v1.3h-1.3zM876 394h1.3v1.3h-1.3zM880 392h1.3v1.3h-1.3zM938 356h1.3v1.3h-1.3zM902 398h1.3v1.3h-1.3zM887 409h1.3v1.3h-1.3zM935 368h1.3v1.3h-1.3zM925 363h1.3v1.3h-1.3zM887 405h1.3v1.3h-1.3zM880 391h1.3v1.3h-1.3zM915 397h1.3v1.3h-1.3zM928 373h1.3v1.3h-1.3zM892 386h1.3v1.3h-1.3zM937 343h1.3v1.3h-1.3zM930 361h1.3v1.3h-1.3zM918 378h1.3v1.3h-1.3zM937 384h1.3v1.3h-1.3zM928 373h1.3v1.3h-1.3zM900 399h1.3v1.3h-1.3zM931 370h1.3v1.3h-1.3zM927 346h1.3v1.3h-1.3zM880 400h1.3v1.3h-1.3zM885 392h1.3v1.3h-1.3zM933 362h1.3v1.3h-1.3zM917 399h1.3v1.3h-1.3zM932 365h1.3v1.3h-1.3zM922 349h1.3v1.3h-1.3zM932 331h1.3v1.3h-1.3zM934 378h1.3v1.3h-1.3zM877 393h1.3v1.3h-1.3zM933 360h1.3v1.3h-1.3zM913 386h1.3v1.3h-1.3zM924 341h1.3v1.3h-1.3zM914 400h1.3v1.3h-1.3zM875 395h1.3v1.3h-1.3zM879 400h1.3v1.3h-1.3zM928 353h1.3v1.3h-1.3zM879 376h1.3v1.3h-1.3zM922 382h1.3v1.3h-1.3zM882 409h1.3v1.3h-1.3zM868 410h1.3v1.3h-1.3zM931 350h1.3v1.3h-1.3zM887 400h1.3v1.3h-1.3zM926 361h1.3v1.3h-1.3zM914 382h1.3v1.3h-1.3zM890 389h1.3v1.3h-1.3zM879 407h1.3v1.3h-1.3zM932 363h1.3v1.3h-1.3zM932 344h1.3v1.3h-1.3zM890 410h1.3v1.3h-1.3zM932 356h1.3v1.3h-1.3zM909 397h1.3v1.3h-1.3zM882 392h1.3v1.3h-1.3zM879 402h1.3v1.3h-1.3zM906 391h1.3v1.3h-1.3zM887 398h1.3v1.3h-1.3zM940 430h1.3v1.3h-1.3zM922 350h1.3v1.3h-1.3zM923 383h1.3v1.3h-1.3zM925 359h1.3v1.3h-1.3zM885 398h1.3v1.3h-1.3zM874 399h1.3v1.3h-1.3zM902 400h1.3v1.3h-1.3zM917 397h1.3v1.3h-1.3zM928 334h1.3v1.3h-1.3zM906 379h1.3v1.3h-1.3zM880 385h1.3v1.3h-1.3zM883 405h1.3v1.3h-1.3zM874 382h1.3v1.3h-1.3zM930 343h1.3v1.3h-1.3zM923 334h1.3v1.3h-1.3zM928 365h1.3v1.3h-1.3zM930 357h1.3v1.3h-1.3zM919 382h1.3v1.3h-1.3zM882 392h1.3v1.3h-1.3zM935 374h1.3v1.3h-1.3zM924 350h1.3v1.3h-1.3zM921 342h1.3v1.3h-1.3zM933 359h1.3v1.3h-1.3zM938 359h1.3v1.3h-1.3zM934 374h1.3v1.3h-1.3zM925 338h1.3v1.3h-1.3zM895 393h1.3v1.3h-1.3zM885 382h1.3v1.3h-1.3zM942 414h1.3v1.3h-1.3zM935 365h1.3v1.3h-1.3zM939 392h1.3v1.3h-1.3zM932 363h1.3v1.3h-1.3zM930 366h1.3v1.3h-1.3zM901 397h1.3v1.3h-1.3zM918 343h1.3v1.3h-1.3zM928 360h1.3v1.3h-1.3zM932 370h1.3v1.3h-1.3zM937 363h1.3v1.3h-1.3zM934 354h1.3v1.3h-1.3zM882 406h1.3v1.3h-1.3zM929 329h1.3v1.3h-1.3zM878 403h1.3v1.3h-1.3zM938 374h1.3v1.3h-1.3zM912 389h1.3v1.3h-1.3zM923 394h1.3v1.3h-1.3zM908 374h1.3v1.3h-1.3zM916 381h1.3v1.3h-1.3zM935 364h1.3v1.3h-1.3zM874 384h1.3v1.3h-1.3zM868 411h1.3v1.3h-1.3zM897 404h1.3v1.3h-1.3zM880 380h1.3v1.3h-1.3zM905 394h1.3v1.3h-1.3zM877 394h1.3v1.3h-1.3zM876 392h1.3v1.3h-1.3zM935 354h1.3v1.3h-1.3zM892 390h1.3v1.3h-1.3zM905 393h1.3v1.3h-1.3zM922 363h1.3v1.3h-1.3zM936 340h1.3v1.3h-1.3zM900 392h1.3v1.3h-1.3z" fill="#8492f2" fill-opacity="0.45"/>
<path d="M934 401h1.3v1.3h-1.3zM899 442h1.3v1.3h-1.3zM891 426h1.3v1.3h-1.3zM877 430h1.3v1.3h-1.3zM884 429h1.3v1.3h-1.3zM923 415h1.3v1.3h-1.3zM907 418h1.3v1.3h-1.3zM933 427h1.3v1.3h-1.3zM873 432h1.3v1.3h-1.3zM868 426h1.3v1.3h-1.3zM877 415h1.3v1.3h-1.3zM913 418h1.3v1.3h-1.3zM873 428h1.3v1.3h-1.3zM883 415h1.3v1.3h-1.3zM910 411h1.3v1.3h-1.3zM933 398h1.3v1.3h-1.3zM894 422h1.3v1.3h-1.3zM879 423h1.3v1.3h-1.3zM902 422h1.3v1.3h-1.3zM892 425h1.3v1.3h-1.3zM864 438h1.3v1.3h-1.3zM877 432h1.3v1.3h-1.3zM935 403h1.3v1.3h-1.3zM932 437h1.3v1.3h-1.3zM929 433h1.3v1.3h-1.3zM905 414h1.3v1.3h-1.3zM865 445h1.3v1.3h-1.3zM888 444h1.3v1.3h-1.3zM881 429h1.3v1.3h-1.3zM867 437h1.3v1.3h-1.3zM927 408h1.3v1.3h-1.3zM885 447h1.3v1.3h-1.3zM881 428h1.3v1.3h-1.3zM865 446h1.3v1.3h-1.3zM902 443h1.3v1.3h-1.3zM877 427h1.3v1.3h-1.3zM866 429h1.3v1.3h-1.3zM930 428h1.3v1.3h-1.3zM884 443h1.3v1.3h-1.3zM884 421h1.3v1.3h-1.3zM933 386h1.3v1.3h-1.3zM899 420h1.3v1.3h-1.3zM890 414h1.3v1.3h-1.3zM928 432h1.3v1.3h-1.3zM865 440h1.3v1.3h-1.3zM896 445h1.3v1.3h-1.3zM880 432h1.3v1.3h-1.3zM929 439h1.3v1.3h-1.3zM933 419h1.3v1.3h-1.3zM891 446h1.3v1.3h-1.3zM866 433h1.3v1.3h-1.3zM913 440h1.3v1.3h-1.3zM891 418h1.3v1.3h-1.3zM864 443h1.3v1.3h-1.3zM896 416h1.3v1.3h-1.3zM933 425h1.3v1.3h-1.3zM880 422h1.3v1.3h-1.3zM914 444h1.3v1.3h-1.3zM931 387h1.3v1.3h-1.3zM872 421h1.3v1.3h-1.3zM896 442h1.3v1.3h-1.3zM921 412h1.3v1.3h-1.3zM905 446h1.3v1.3h-1.3zM908 414h1.3v1.3h-1.3zM933 391h1.3v1.3h-1.3zM942 424h1.3v1.3h-1.3zM936 399h1.3v1.3h-1.3zM887 418h1.3v1.3h-1.3zM933 389h1.3v1.3h-1.3zM914 443h1.3v1.3h-1.3zM914 416h1.3v1.3h-1.3zM867 435h1.3v1.3h-1.3zM905 419h1.3v1.3h-1.3zM898 443h1.3v1.3h-1.3zM900 422h1.3v1.3h-1.3zM867 426h1.3v1.3h-1.3zM873 418h1.3v1.3h-1.3zM869 446h1.3v1.3h-1.3zM909 443h1.3v1.3h-1.3zM909 411h1.3v1.3h-1.3zM877 429h1.3v1.3h-1.3zM926 416h1.3v1.3h-1.3zM879 445h1.3v1.3h-1.3zM867 425h1.3v1.3h-1.3zM932 413h1.3v1.3h-1.3zM884 415h1.3v1.3h-1.3zM900 414h1.3v1.3h-1.3zM926 435h1.3v1.3h-1.3zM883 414h1.3v1.3h-1.3zM937 419h1.3v1.3h-1.3zM927 398h1.3v1.3h-1.3zM892 419h1.3v1.3h-1.3zM892 423h1.3v1.3h-1.3zM863 445h1.3v1.3h-1.3zM930 421h1.3v1.3h-1.3zM897 424h1.3v1.3h-1.3zM893 413h1.3v1.3h-1.3zM916 415h1.3v1.3h-1.3zM894 413h1.3v1.3h-1.3zM888 419h1.3v1.3h-1.3zM873 429h1.3v1.3h-1.3zM894 424h1.3v1.3h-1.3zM931 425h1.3v1.3h-1.3zM934 430h1.3v1.3h-1.3zM927 416h1.3v1.3h-1.3zM868 415h1.3v1.3h-1.3zM934 428h1.3v1.3h-1.3zM932 387h1.3v1.3h-1.3zM934 432h1.3v1.3h-1.3zM932 378h1.3v1.3h-1.3zM880 426h1.3v1.3h-1.3zM891 442h1.3v1.3h-1.3zM928 415h1.3v1.3h-1.3zM935 384h1.3v1.3h-1.3zM873 419h1.3v1.3h-1.3zM866 445h1.3v1.3h-1.3zM930 421h1.3v1.3h-1.3zM908 445h1.3v1.3h-1.3zM883 422h1.3v1.3h-1.3zM892 445h1.3v1.3h-1.3zM902 419h1.3v1.3h-1.3zM892 427h1.3v1.3h-1.3zM884 429h1.3v1.3h-1.3zM867 435h1.3v1.3h-1.3zM866 446h1.3v1.3h-1.3zM901 420h1.3v1.3h-1.3zM938 418h1.3v1.3h-1.3zM906 445h1.3v1.3h-1.3zM932 424h1.3v1.3h-1.3zM870 431h1.3v1.3h-1.3zM882 420h1.3v1.3h-1.3zM907 417h1.3v1.3h-1.3zM865 441h1.3v1.3h-1.3zM864 446h1.3v1.3h-1.3zM905 416h1.3v1.3h-1.3zM892 421h1.3v1.3h-1.3zM865 443h1.3v1.3h-1.3zM919 415h1.3v1.3h-1.3zM893 445h1.3v1.3h-1.3zM917 441h1.3v1.3h-1.3zM928 437h1.3v1.3h-1.3zM932 384h1.3v1.3h-1.3zM902 411h1.3v1.3h-1.3zM867 435h1.3v1.3h-1.3zM871 429h1.3v1.3h-1.3zM868 434h1.3v1.3h-1.3zM921 414h1.3v1.3h-1.3zM866 441h1.3v1.3h-1.3zM886 422h1.3v1.3h-1.3zM889 416h1.3v1.3h-1.3zM882 415h1.3v1.3h-1.3zM863 438h1.3v1.3h-1.3zM885 418h1.3v1.3h-1.3zM910 441h1.3v1.3h-1.3zM929 398h1.3v1.3h-1.3zM889 444h1.3v1.3h-1.3zM934 430h1.3v1.3h-1.3zM894 419h1.3v1.3h-1.3zM921 417h1.3v1.3h-1.3zM932 427h1.3v1.3h-1.3zM871 426h1.3v1.3h-1.3zM934 411h1.3v1.3h-1.3zM867 422h1.3v1.3h-1.3zM923 410h1.3v1.3h-1.3zM891 421h1.3v1.3h-1.3zM904 418h1.3v1.3h-1.3zM905 413h1.3v1.3h-1.3zM877 432h1.3v1.3h-1.3zM879 419h1.3v1.3h-1.3zM864 443h1.3v1.3h-1.3zM879 444h1.3v1.3h-1.3zM925 441h1.3v1.3h-1.3zM941 428h1.3v1.3h-1.3zM935 422h1.3v1.3h-1.3zM932 419h1.3v1.3h-1.3zM936 423h1.3v1.3h-1.3zM883 447h1.3v1.3h-1.3zM896 443h1.3v1.3h-1.3zM929 394h1.3v1.3h-1.3zM892 419h1.3v1.3h-1.3zM928 390h1.3v1.3h-1.3zM869 420h1.3v1.3h-1.3zM873 432h1.3v1.3h-1.3zM897 442h1.3v1.3h-1.3zM929 427h1.3v1.3h-1.3zM929 381h1.3v1.3h-1.3zM935 381h1.3v1.3h-1.3zM929 378h1.3v1.3h-1.3zM921 410h1.3v1.3h-1.3zM929 404h1.3v1.3h-1.3zM927 414h1.3v1.3h-1.3zM931 387h1.3v1.3h-1.3zM927 403h1.3v1.3h-1.3zM933 385h1.3v1.3h-1.3zM902 413h1.3v1.3h-1.3zM935 397h1.3v1.3h-1.3zM926 397h1.3v1.3h-1.3zM925 390h1.3v1.3h-1.3zM930 395h1.3v1.3h-1.3zM935 384h1.3v1.3h-1.3zM935 386h1.3v1.3h-1.3zM928 382h1.3v1.3h-1.3zM928 387h1.3v1.3h-1.3zM932 411h1.3v1.3h-1.3zM936 388h1.3v1.3h-1.3zM933 379h1.3v1.3h-1.3zM865 446h1.3v1.3h-1.3zM926 410h1.3v1.3h-1.3zM884 414h1.3v1.3h-1.3zM895 411h1.3v1.3h-1.3zM878 415h1.3v1.3h-1.3zM931 381h1.3v1.3h-1.3zM931 386h1.3v1.3h-1.3zM932 380h1.3v1.3h-1.3zM872 418h1.3v1.3h-1.3zM892 411h1.3v1.3h-1.3zM934 409h1.3v1.3h-1.3zM931 386h1.3v1.3h-1.3zM917 415h1.3v1.3h-1.3zM875 412h1.3v1.3h-1.3zM897 414h1.3v1.3h-1.3zM930 377h1.3v1.3h-1.3zM927 401h1.3v1.3h-1.3zM930 383h1.3v1.3h-1.3zM932 385h1.3v1.3h-1.3zM935 405h1.3v1.3h-1.3z" fill="#2644e4" fill-opacity="0.6"/>
<path d="M877.6 444.7L875.6 445.0L873.6 445.2L871.6 445.2L869.6 445.1L867.7 444.6L866.6 443.6L866.2 442.6L866.0 440.6L866.5 438.6L867.0 437.6L867.7 436.6L868.7 435.6L870.4 434.6L871.6 434.1L873.2 433.6L874.6 433.2L876.6 432.6L877.6 432.3L879.6 431.6L880.6 431.3L882.6 430.6L883.6 430.2L885.3 429.6L886.6 429.1L887.9 428.6L889.6 427.9L890.6 427.5L892.6 426.6L893.6 426.1L894.6 425.6L896.3 424.6L897.6 423.8L898.6 423.3L899.8 422.6L901.6 421.7L902.6 421.2L903.9 420.6L905.6 419.9L906.6 419.6L908.6 418.9L909.9 418.6L911.6 418.2L913.6 417.9L915.6 417.7L917.6 417.6L919.6 417.7L921.6 417.9L923.6 418.4L924.6 418.7L926.1 419.6L927.2 420.6L927.9 421.6L928.6 422.8L929.3 424.6L929.6 426.6L929.1 428.6L928.5 429.6L927.6 430.8L926.6 431.9L925.6 432.7L924.5 433.6L923.1 434.6L921.6 435.5L920.6 436.1L919.6 436.7L918.1 437.6L916.6 438.4L915.6 439.0L914.3 439.6L912.6 440.4L911.6 440.8L909.6 441.4L908.6 441.7L906.6 442.1L904.6 442.3L902.6 442.3L900.6 442.2L898.6 442.1L896.6 442.0L894.6 442.1L892.6 442.3L890.6 442.6L889.6 442.7L887.6 443.1L885.6 443.4L884.1 443.6L882.6 443.9L880.6 444.2L878.6 444.5L877.6 444.7Z" fill="#3cc8f0"/>
<path d="M878.6 443.7L876.6 444.0L874.6 444.3L872.6 444.5L870.6 444.5L868.6 444.0L867.6 443.3L866.9 441.6L867.1 439.6L867.6 438.5L868.6 437.2L869.6 436.4L871.4 435.6L872.6 435.2L874.6 434.7L875.6 434.5L877.6 434.0L879.0 433.6L880.6 433.1L882.3 432.6L883.6 432.2L885.6 431.6L886.6 431.3L888.6 430.7L889.6 430.4L891.6 429.7L892.6 429.4L894.6 428.7L895.6 428.2L897.0 427.6L898.6 426.7L899.6 426.0L900.6 425.4L901.8 424.6L903.3 423.6L904.6 422.8L905.6 422.3L907.0 421.6L908.6 421.0L909.8 420.6L911.6 420.1L913.6 419.8L915.6 419.7L917.6 419.8L919.6 420.1L921.0 420.6L922.6 421.4L923.6 422.1L924.6 423.0L925.6 424.3L926.2 425.6L926.4 427.6L925.7 429.6L925.0 430.6L924.1 431.6L923.0 432.6L921.7 433.6L920.6 434.4L919.6 435.1L918.6 435.8L917.3 436.6L915.6 437.6L914.6 438.2L913.6 438.7L911.6 439.6L910.6 440.0L908.6 440.6L907.6 440.8L905.6 441.1L903.6 441.2L901.6 441.2L899.6 441.0L897.6 440.9L895.6 441.0L893.6 441.1L891.6 441.4L890.3 441.6L888.6 441.9L886.6 442.2L884.6 442.6L883.6 442.8L881.6 443.1L879.6 443.5L878.6 443.7Z" fill="#4cf04c"/>
<path d="M907.6 436.8L905.6 437.1L903.6 436.9L902.1 436.6L900.6 436.0L899.6 435.3L899.5 433.6L900.3 432.6L901.3 431.6L902.5 430.6L903.6 429.7L904.6 429.0L905.6 428.3L906.9 427.6L908.6 426.8L909.6 426.5L911.6 426.1L913.6 426.3L914.6 426.6L915.8 427.6L916.5 429.6L915.8 431.6L915.1 432.6L914.1 433.6L912.8 434.6L911.6 435.3L910.6 435.9L908.6 436.6L907.6 436.8Z" fill="#b4f232"/>
<path d="M906.6 435.7L905.1 435.6L903.6 435.1L902.6 433.7L902.6 433.5L903.6 431.7L904.6 430.7L905.6 429.9L906.6 429.3L907.9 428.6L909.6 428.0L911.6 427.8L913.6 428.6L914.1 429.6L913.8 431.6L913.1 432.6L912.0 433.6L910.6 434.5L909.6 435.0L907.6 435.6L906.6 435.7Z" fill="#f09424"/>
<path d="M909.6 433.7L907.6 434.3L905.6 434.0L905.0 432.6L905.6 431.6L906.7 430.6L908.6 429.6L909.6 429.4L911.6 429.6L912.2 430.6L911.6 432.1L910.6 433.1L909.6 433.7Z" fill="#e2561e"/>
<path d="M808.6 268.6 H991.9" fill="none" stroke="#98a6a6" stroke-width="2.2"/>
<path d="M991.9 268.6 V451.1" fill="none" stroke="#a9b5b5" stroke-width="2.2"/>
<path d="M808.6 267.8 V451.1" fill="none" stroke="#7f9090" stroke-width="2.4"/>
<path d="M807.6 451.1 H992.7" fill="none" stroke="#3c4a4a" stroke-width="2.3"/>
<path d="M803.1 451.1h4.5M805.4 444.1h2.2M805.4 437.2h2.2M805.4 430.2h2.2M805.4 423.2h2.2M803.1 416.2h4.5M805.4 409.3h2.2M805.4 402.3h2.2M805.4 395.3h2.2M805.4 388.4h2.2M803.1 381.4h4.5M805.4 374.4h2.2M805.4 367.4h2.2M805.4 360.5h2.2M805.4 353.5h2.2M803.1 346.5h4.5M805.4 339.6h2.2M805.4 332.6h2.2M805.4 325.6h2.2M805.4 318.6h2.2M803.1 311.7h4.5M805.4 304.7h2.2M805.4 297.7h2.2M805.4 290.8h2.2M805.4 283.8h2.2M803.1 276.8h4.5M805.4 269.8h2.2" stroke="#667474" stroke-width="1.3" fill="none"/>
<text x="801.6" y="419.8" font-size="10.4" text-anchor="end" textLength="15.375" lengthAdjust="spacingAndGlyphs" fill="#9aa6a6" font-weight="bold">50K</text>
<text x="801.6" y="384.9" font-size="10.4" text-anchor="end" textLength="20.5" lengthAdjust="spacingAndGlyphs" fill="#9aa6a6" font-weight="bold">100K</text>
<text x="801.6" y="350.1" font-size="10.4" text-anchor="end" textLength="20.5" lengthAdjust="spacingAndGlyphs" fill="#9aa6a6" font-weight="bold">150K</text>
<text x="801.6" y="315.2" font-size="10.4" text-anchor="end" textLength="20.5" lengthAdjust="spacingAndGlyphs" fill="#9aa6a6" font-weight="bold">200K</text>
<text x="801.6" y="280.3" font-size="10.4" text-anchor="end" textLength="20.5" lengthAdjust="spacingAndGlyphs" fill="#9aa6a6" font-weight="bold">250K</text>
<path d="M822.3 452.1v3.5M849.3 452.1v4.2M862.3 452.1v2.2M869.9 452.1v2.2M875.3 452.1v2.2M879.5 452.1v2.2M883.0 452.1v2.2M885.9 452.1v2.2M888.4 452.1v2.2M890.6 452.1v2.2M892.6 452.1v4.2M905.5 452.1v2.2M913.0 452.1v2.2M918.4 452.1v2.2M922.5 452.1v2.2M925.9 452.1v2.2M928.8 452.1v2.2M931.3 452.1v2.2M933.5 452.1v2.2M935.4 452.1v4.2M948.3 452.1v2.2M955.8 452.1v2.2M961.2 452.1v2.2M965.3 452.1v2.2M968.7 452.1v2.2M971.5 452.1v2.2M974.0 452.1v2.2M976.2 452.1v2.2M978.2 452.1v4.2M812.3 452.1v2.2M815.9 452.1v2.2M828.8 452.1v2.2M834.3 452.1v2.2M839.8 452.1v2.2M843.4 452.1v2.2" stroke="#667474" stroke-width="1.3" fill="none"/>
<path d="M827.1 451.1v4.5" stroke="#1a2626" stroke-width="2.6"/>
<text x="822.3" y="473.4" font-size="10.5" text-anchor="middle" textLength="5" lengthAdjust="spacingAndGlyphs" fill="#95a1a1" font-weight="bold">0</text>
<text x="842.1" y="473.4" font-size="10.5" textLength="9.4" lengthAdjust="spacingAndGlyphs" fill="#95a1a1" font-weight="bold">10</text>
<text x="852.0" y="466.9" font-size="8" textLength="3.4" lengthAdjust="spacingAndGlyphs" fill="#95a1a1" font-weight="bold">2</text>
<text x="885.4" y="473.4" font-size="10.5" textLength="9.4" lengthAdjust="spacingAndGlyphs" fill="#95a1a1" font-weight="bold">10</text>
<text x="895.3" y="466.9" font-size="8" textLength="3.4" lengthAdjust="spacingAndGlyphs" fill="#95a1a1" font-weight="bold">3</text>
<text x="928.2" y="473.4" font-size="10.5" textLength="9.4" lengthAdjust="spacingAndGlyphs" fill="#95a1a1" font-weight="bold">10</text>
<text x="938.1" y="466.9" font-size="8" textLength="3.4" lengthAdjust="spacingAndGlyphs" fill="#95a1a1" font-weight="bold">4</text>
<text x="971.0" y="473.4" font-size="10.5" textLength="9.4" lengthAdjust="spacingAndGlyphs" fill="#95a1a1" font-weight="bold">10</text>
<text x="980.9" y="466.9" font-size="8" textLength="3.4" lengthAdjust="spacingAndGlyphs" fill="#95a1a1" font-weight="bold">5</text>
<path d="M1118.9 204.1L1116.9 204.2L1114.9 204.3L1112.9 204.3L1110.9 204.2L1108.9 204.2L1106.9 204.0L1105.9 204.0L1103.9 203.8L1101.9 203.7L1099.9 203.5L1097.9 203.2L1096.9 203.0L1094.9 202.7L1092.9 202.2L1091.9 201.9L1089.9 201.0L1089.0 200.0L1088.4 199.0L1088.0 197.0L1087.8 196.0L1087.7 194.0L1087.7 192.0L1087.7 190.0L1087.9 188.0L1088.0 187.0L1088.3 185.0L1088.7 183.0L1089.0 182.0L1089.5 180.0L1089.9 179.0L1090.8 177.0L1091.2 176.0L1091.9 174.9L1092.9 173.3L1093.9 172.0L1094.7 171.0L1095.6 170.0L1096.5 169.0L1097.5 168.0L1098.6 167.0L1099.8 166.0L1100.9 165.1L1101.9 164.3L1102.9 163.6L1103.9 162.9L1105.2 162.0L1106.7 161.0L1107.9 160.2L1108.9 159.6L1109.9 159.0L1111.6 158.0L1112.9 157.2L1113.9 156.5L1114.9 155.9L1116.4 155.0L1117.9 154.0L1118.9 153.3L1119.9 152.7L1121.4 152.0L1122.9 151.3L1124.0 151.0L1125.9 150.6L1127.9 150.5L1129.9 150.5L1131.9 150.6L1133.9 150.7L1135.9 150.8L1137.9 151.0L1138.9 151.1L1140.9 151.2L1142.9 151.3L1144.9 151.5L1146.9 151.7L1148.9 152.0L1149.9 152.1L1151.9 152.5L1153.9 153.0L1154.9 153.3L1156.7 154.0L1157.9 154.6L1158.9 155.2L1160.1 156.0L1161.1 157.0L1162.0 158.0L1162.9 159.6L1163.4 161.0L1163.7 163.0L1163.7 165.0L1163.4 167.0L1162.9 168.9L1162.6 170.0L1161.9 171.6L1161.3 173.0L1160.8 174.0L1159.9 176.0L1159.5 177.0L1158.9 178.2L1158.1 180.0L1157.7 181.0L1156.9 182.7L1156.2 184.0L1155.5 185.0L1154.6 186.0L1153.5 187.0L1152.2 188.0L1150.9 188.8L1149.9 189.4L1148.9 190.1L1147.4 191.0L1146.0 192.0L1144.9 192.8L1143.9 193.7L1142.9 194.6L1141.9 195.5L1140.9 196.5L1139.9 197.4L1138.9 198.3L1137.9 199.2L1136.7 200.0L1134.9 201.0L1133.9 201.4L1132.2 202.0L1130.9 202.4L1128.9 202.8L1127.9 203.0L1125.9 203.4L1123.9 203.7L1121.9 203.9L1119.9 204.0L1118.9 204.1Z" fill="url(#pl0)"/>
<path d="M1118.9 203.1L1116.9 203.2L1114.9 203.3L1112.9 203.3L1110.9 203.2L1108.9 203.1L1107.1 203.0L1105.9 202.9L1103.9 202.7L1101.9 202.5L1099.9 202.1L1098.9 201.9L1096.9 201.4L1095.6 201.0L1093.9 200.2L1092.9 199.4L1091.9 198.2L1091.3 197.0L1090.9 195.6L1090.6 194.0L1090.4 192.0L1090.4 190.0L1090.5 188.0L1090.8 186.0L1091.0 185.0L1091.5 183.0L1091.9 181.9L1092.6 180.0L1093.1 179.0L1093.9 177.5L1094.8 176.0L1095.5 175.0L1096.2 174.0L1097.1 173.0L1098.0 172.0L1098.9 171.0L1100.0 170.0L1101.1 169.0L1102.4 168.0L1103.8 167.0L1104.9 166.2L1105.9 165.6L1107.0 165.0L1108.9 164.0L1109.9 163.5L1111.1 163.0L1112.9 162.3L1113.9 161.9L1115.9 161.2L1116.9 161.0L1118.9 160.4L1120.7 160.0L1121.9 159.7L1123.9 159.4L1125.9 159.0L1126.9 158.9L1128.9 158.6L1130.9 158.4L1132.9 158.2L1134.9 158.0L1135.9 158.0L1137.9 157.9L1139.9 157.9L1141.9 158.0L1142.9 158.0L1144.9 158.3L1146.9 158.7L1147.9 159.0L1149.9 159.8L1150.9 160.3L1152.0 161.0L1153.1 162.0L1153.9 163.1L1154.8 165.0L1155.0 166.0L1155.1 168.0L1154.9 169.5L1154.6 171.0L1153.9 173.0L1153.5 174.0L1152.9 175.2L1151.9 177.0L1151.4 178.0L1150.7 179.0L1149.9 180.3L1148.9 181.6L1147.9 182.9L1147.0 184.0L1146.2 185.0L1145.4 186.0L1144.5 187.0L1143.6 188.0L1142.8 189.0L1141.9 190.1L1140.9 191.3L1139.9 192.5L1138.9 193.7L1137.9 194.9L1136.9 196.0L1136.0 197.0L1134.9 198.0L1133.9 198.9L1132.9 199.6L1131.9 200.2L1130.1 201.0L1128.9 201.4L1126.9 201.9L1125.9 202.2L1123.9 202.6L1121.9 202.8L1119.9 203.0L1118.9 203.1Z" fill="url(#pl1)"/>
<path d="M1114.9 202.0L1112.9 202.0L1111.9 202.0L1109.9 201.9L1107.9 201.7L1105.9 201.5L1103.9 201.1L1102.9 200.9L1100.9 200.2L1099.9 199.8L1098.6 199.0L1097.4 198.0L1096.6 197.0L1095.9 195.9L1095.1 194.0L1094.8 193.0L1094.4 191.0L1094.3 189.0L1094.4 187.0L1094.8 185.0L1095.0 184.0L1095.7 182.0L1096.1 181.0L1096.9 179.3L1097.6 178.0L1098.3 177.0L1099.0 176.0L1099.9 174.9L1100.9 173.8L1101.9 172.8L1102.9 171.9L1104.0 171.0L1105.4 170.0L1106.9 169.0L1107.9 168.4L1108.9 167.9L1110.9 167.0L1111.9 166.6L1113.7 166.0L1114.9 165.6L1116.9 165.2L1117.9 165.0L1119.9 164.7L1121.9 164.5L1123.9 164.3L1125.9 164.3L1127.9 164.3L1129.9 164.4L1131.9 164.5L1133.9 164.7L1135.7 165.0L1136.9 165.2L1138.9 165.8L1139.9 166.2L1141.4 167.0L1142.6 168.0L1143.4 169.0L1143.9 170.0L1144.3 172.0L1144.2 174.0L1143.9 175.5L1143.5 177.0L1142.9 178.5L1142.3 180.0L1141.8 181.0L1140.9 182.9L1140.4 184.0L1139.9 185.0L1138.9 186.7L1138.2 188.0L1137.6 189.0L1136.9 190.1L1135.9 191.6L1134.9 193.0L1134.1 194.0L1133.2 195.0L1132.3 196.0L1131.3 197.0L1130.1 198.0L1128.9 198.9L1127.9 199.4L1126.7 200.0L1124.9 200.7L1123.7 201.0L1121.9 201.4L1119.9 201.7L1117.9 201.9L1115.9 202.0L1114.9 202.0Z" fill="url(#pbl)"/>
<path d="M1094 172h1.3v1.3h-1.3zM1150 183h1.3v1.3h-1.3zM1162 182h1.3v1.3h-1.3zM1140 197h1.3v1.3h-1.3zM1163 172h1.3v1.3h-1.3zM1089 202h1.3v1.3h-1.3zM1160 166h1.3v1.3h-1.3zM1158 159h1.3v1.3h-1.3zM1156 165h1.3v1.3h-1.3zM1090 180h1.3v1.3h-1.3zM1156 172h1.3v1.3h-1.3zM1164 189h1.3v1.3h-1.3zM1089 191h1.3v1.3h-1.3zM1098 204h1.3v1.3h-1.3zM1153 152h1.3v1.3h-1.3zM1105 203h1.3v1.3h-1.3zM1141 198h1.3v1.3h-1.3zM1098 164h1.3v1.3h-1.3zM1158 163h1.3v1.3h-1.3zM1147 196h1.3v1.3h-1.3zM1148 152h1.3v1.3h-1.3zM1146 186h1.3v1.3h-1.3zM1117 151h1.3v1.3h-1.3zM1160 183h1.3v1.3h-1.3zM1093 176h1.3v1.3h-1.3zM1104 204h1.3v1.3h-1.3zM1156 166h1.3v1.3h-1.3zM1093 172h1.3v1.3h-1.3zM1155 184h1.3v1.3h-1.3zM1159 172h1.3v1.3h-1.3zM1158 152h1.3v1.3h-1.3zM1089 183h1.3v1.3h-1.3zM1164 170h1.3v1.3h-1.3zM1163 154h1.3v1.3h-1.3zM1126 159h1.3v1.3h-1.3zM1089 183h1.3v1.3h-1.3zM1145 158h1.3v1.3h-1.3zM1165 172h1.3v1.3h-1.3zM1118 151h1.3v1.3h-1.3zM1158 164h1.3v1.3h-1.3zM1134 201h1.3v1.3h-1.3zM1150 179h1.3v1.3h-1.3zM1099 171h1.3v1.3h-1.3zM1132 132h1.3v1.3h-1.3zM1131 148h1.3v1.3h-1.3zM1116 154h1.3v1.3h-1.3zM1124 154h1.3v1.3h-1.3zM1142 156h1.3v1.3h-1.3zM1149 157h1.3v1.3h-1.3zM1106 146h1.3v1.3h-1.3zM1131 147h1.3v1.3h-1.3zM1158 162h1.3v1.3h-1.3zM1120 149h1.3v1.3h-1.3zM1159 184h1.3v1.3h-1.3zM1156 166h1.3v1.3h-1.3zM1113 155h1.3v1.3h-1.3zM1118 156h1.3v1.3h-1.3zM1113 146h1.3v1.3h-1.3zM1158 189h1.3v1.3h-1.3zM1102 168h1.3v1.3h-1.3zM1100 163h1.3v1.3h-1.3zM1146 153h1.3v1.3h-1.3zM1098 171h1.3v1.3h-1.3zM1156 147h1.3v1.3h-1.3zM1125 149h1.3v1.3h-1.3zM1113 140h1.3v1.3h-1.3zM1107 153h1.3v1.3h-1.3zM1102 168h1.3v1.3h-1.3zM1118 152h1.3v1.3h-1.3zM1126 135h1.3v1.3h-1.3zM1155 191h1.3v1.3h-1.3zM1134 141h1.3v1.3h-1.3zM1128 147h1.3v1.3h-1.3zM1103 159h1.3v1.3h-1.3zM1165 156h1.3v1.3h-1.3zM1138 154h1.3v1.3h-1.3zM1095 204h1.3v1.3h-1.3zM1126 147h1.3v1.3h-1.3zM1124 140h1.3v1.3h-1.3zM1108 161h1.3v1.3h-1.3zM1131 156h1.3v1.3h-1.3zM1130 135h1.3v1.3h-1.3zM1126 136h1.3v1.3h-1.3zM1164 162h1.3v1.3h-1.3zM1157 187h1.3v1.3h-1.3zM1141 156h1.3v1.3h-1.3zM1107 159h1.3v1.3h-1.3zM1094 167h1.3v1.3h-1.3zM1154 179h1.3v1.3h-1.3zM1125 139h1.3v1.3h-1.3zM1150 186h1.3v1.3h-1.3zM1134 146h1.3v1.3h-1.3zM1114 138h1.3v1.3h-1.3zM1115 144h1.3v1.3h-1.3zM1158 185h1.3v1.3h-1.3zM1161 180h1.3v1.3h-1.3zM1154 184h1.3v1.3h-1.3zM1159 186h1.3v1.3h-1.3zM1115 147h1.3v1.3h-1.3zM1112 156h1.3v1.3h-1.3zM1164 164h1.3v1.3h-1.3zM1124 151h1.3v1.3h-1.3zM1116 156h1.3v1.3h-1.3zM1161 166h1.3v1.3h-1.3zM1135 152h1.3v1.3h-1.3zM1104 159h1.3v1.3h-1.3zM1137 136h1.3v1.3h-1.3zM1127 145h1.3v1.3h-1.3zM1141 141h1.3v1.3h-1.3zM1104 140h1.3v1.3h-1.3zM1108 144h1.3v1.3h-1.3zM1141 145h1.3v1.3h-1.3zM1105 161h1.3v1.3h-1.3zM1147 195h1.3v1.3h-1.3zM1119 150h1.3v1.3h-1.3zM1156 171h1.3v1.3h-1.3zM1122 139h1.3v1.3h-1.3zM1150 196h1.3v1.3h-1.3zM1121 146h1.3v1.3h-1.3zM1122 139h1.3v1.3h-1.3zM1120 152h1.3v1.3h-1.3zM1120 158h1.3v1.3h-1.3zM1110 158h1.3v1.3h-1.3zM1144 149h1.3v1.3h-1.3zM1116 155h1.3v1.3h-1.3zM1138 137h1.3v1.3h-1.3zM1160 157h1.3v1.3h-1.3zM1097 202h1.3v1.3h-1.3zM1161 159h1.3v1.3h-1.3zM1157 148h1.3v1.3h-1.3zM1090 187h1.3v1.3h-1.3zM1108 150h1.3v1.3h-1.3zM1111 154h1.3v1.3h-1.3zM1095 170h1.3v1.3h-1.3zM1119 154h1.3v1.3h-1.3zM1116 160h1.3v1.3h-1.3zM1174 157h1.3v1.3h-1.3zM1102 158h1.3v1.3h-1.3zM1153 146h1.3v1.3h-1.3zM1163 182h1.3v1.3h-1.3zM1117 146h1.3v1.3h-1.3z" fill="#8492f2" fill-opacity="0.45"/>
<path d="M1118 168h1.3v1.3h-1.3zM1123 171h1.3v1.3h-1.3zM1101 192h1.3v1.3h-1.3zM1095 188h1.3v1.3h-1.3zM1151 163h1.3v1.3h-1.3zM1116 168h1.3v1.3h-1.3zM1111 166h1.3v1.3h-1.3zM1135 188h1.3v1.3h-1.3zM1145 160h1.3v1.3h-1.3zM1134 180h1.3v1.3h-1.3zM1131 164h1.3v1.3h-1.3zM1096 185h1.3v1.3h-1.3zM1123 170h1.3v1.3h-1.3zM1138 181h1.3v1.3h-1.3zM1100 199h1.3v1.3h-1.3zM1136 193h1.3v1.3h-1.3zM1101 198h1.3v1.3h-1.3zM1122 169h1.3v1.3h-1.3zM1129 164h1.3v1.3h-1.3zM1125 170h1.3v1.3h-1.3zM1128 192h1.3v1.3h-1.3zM1122 168h1.3v1.3h-1.3zM1100 176h1.3v1.3h-1.3zM1098 193h1.3v1.3h-1.3zM1128 196h1.3v1.3h-1.3zM1135 183h1.3v1.3h-1.3zM1137 192h1.3v1.3h-1.3zM1134 163h1.3v1.3h-1.3zM1138 192h1.3v1.3h-1.3zM1138 183h1.3v1.3h-1.3zM1122 167h1.3v1.3h-1.3zM1113 202h1.3v1.3h-1.3zM1115 202h1.3v1.3h-1.3zM1127 195h1.3v1.3h-1.3zM1107 173h1.3v1.3h-1.3zM1098 192h1.3v1.3h-1.3zM1102 194h1.3v1.3h-1.3zM1091 194h1.3v1.3h-1.3zM1127 199h1.3v1.3h-1.3zM1125 166h1.3v1.3h-1.3zM1138 182h1.3v1.3h-1.3zM1149 176h1.3v1.3h-1.3zM1091 187h1.3v1.3h-1.3zM1137 171h1.3v1.3h-1.3zM1133 186h1.3v1.3h-1.3zM1110 199h1.3v1.3h-1.3zM1132 175h1.3v1.3h-1.3zM1098 176h1.3v1.3h-1.3zM1103 174h1.3v1.3h-1.3zM1113 172h1.3v1.3h-1.3zM1112 170h1.3v1.3h-1.3zM1140 187h1.3v1.3h-1.3zM1108 199h1.3v1.3h-1.3zM1143 162h1.3v1.3h-1.3zM1121 165h1.3v1.3h-1.3zM1108 200h1.3v1.3h-1.3zM1117 161h1.3v1.3h-1.3zM1150 166h1.3v1.3h-1.3zM1099 191h1.3v1.3h-1.3zM1107 175h1.3v1.3h-1.3zM1108 173h1.3v1.3h-1.3zM1116 167h1.3v1.3h-1.3zM1135 186h1.3v1.3h-1.3zM1108 173h1.3v1.3h-1.3zM1137 176h1.3v1.3h-1.3zM1099 189h1.3v1.3h-1.3zM1127 197h1.3v1.3h-1.3zM1128 201h1.3v1.3h-1.3zM1098 197h1.3v1.3h-1.3zM1133 174h1.3v1.3h-1.3zM1129 197h1.3v1.3h-1.3zM1098 193h1.3v1.3h-1.3zM1154 164h1.3v1.3h-1.3zM1100 179h1.3v1.3h-1.3zM1126 171h1.3v1.3h-1.3zM1133 183h1.3v1.3h-1.3zM1136 172h1.3v1.3h-1.3zM1103 197h1.3v1.3h-1.3zM1112 172h1.3v1.3h-1.3zM1134 168h1.3v1.3h-1.3zM1150 170h1.3v1.3h-1.3zM1133 168h1.3v1.3h-1.3zM1100 181h1.3v1.3h-1.3zM1100 191h1.3v1.3h-1.3zM1126 165h1.3v1.3h-1.3zM1149 177h1.3v1.3h-1.3zM1129 170h1.3v1.3h-1.3zM1113 171h1.3v1.3h-1.3zM1130 167h1.3v1.3h-1.3zM1131 190h1.3v1.3h-1.3zM1135 190h1.3v1.3h-1.3zM1133 174h1.3v1.3h-1.3zM1139 186h1.3v1.3h-1.3zM1140 163h1.3v1.3h-1.3zM1101 180h1.3v1.3h-1.3zM1128 172h1.3v1.3h-1.3zM1097 175h1.3v1.3h-1.3zM1105 197h1.3v1.3h-1.3zM1138 183h1.3v1.3h-1.3zM1127 165h1.3v1.3h-1.3zM1127 168h1.3v1.3h-1.3zM1140 177h1.3v1.3h-1.3zM1112 199h1.3v1.3h-1.3zM1132 187h1.3v1.3h-1.3zM1123 200h1.3v1.3h-1.3zM1146 180h1.3v1.3h-1.3zM1097 189h1.3v1.3h-1.3zM1141 169h1.3v1.3h-1.3zM1108 168h1.3v1.3h-1.3zM1117 171h1.3v1.3h-1.3zM1137 193h1.3v1.3h-1.3zM1131 171h1.3v1.3h-1.3zM1105 175h1.3v1.3h-1.3zM1134 180h1.3v1.3h-1.3zM1096 187h1.3v1.3h-1.3zM1117 203h1.3v1.3h-1.3zM1097 191h1.3v1.3h-1.3zM1155 166h1.3v1.3h-1.3zM1105 176h1.3v1.3h-1.3zM1124 202h1.3v1.3h-1.3zM1136 176h1.3v1.3h-1.3zM1144 172h1.3v1.3h-1.3zM1130 191h1.3v1.3h-1.3zM1134 170h1.3v1.3h-1.3zM1099 188h1.3v1.3h-1.3zM1102 177h1.3v1.3h-1.3zM1132 188h1.3v1.3h-1.3zM1100 188h1.3v1.3h-1.3zM1106 197h1.3v1.3h-1.3zM1108 198h1.3v1.3h-1.3zM1125 199h1.3v1.3h-1.3zM1121 199h1.3v1.3h-1.3zM1107 171h1.3v1.3h-1.3zM1100 185h1.3v1.3h-1.3zM1101 200h1.3v1.3h-1.3zM1095 193h1.3v1.3h-1.3zM1102 177h1.3v1.3h-1.3zM1140 168h1.3v1.3h-1.3zM1117 201h1.3v1.3h-1.3zM1144 181h1.3v1.3h-1.3zM1122 201h1.3v1.3h-1.3zM1102 194h1.3v1.3h-1.3zM1140 165h1.3v1.3h-1.3zM1123 197h1.3v1.3h-1.3zM1134 166h1.3v1.3h-1.3zM1149 175h1.3v1.3h-1.3zM1127 194h1.3v1.3h-1.3zM1106 201h1.3v1.3h-1.3zM1142 161h1.3v1.3h-1.3zM1097 175h1.3v1.3h-1.3zM1118 162h1.3v1.3h-1.3zM1128 192h1.3v1.3h-1.3zM1142 174h1.3v1.3h-1.3zM1108 166h1.3v1.3h-1.3zM1108 172h1.3v1.3h-1.3zM1096 197h1.3v1.3h-1.3zM1105 177h1.3v1.3h-1.3zM1101 181h1.3v1.3h-1.3zM1107 174h1.3v1.3h-1.3zM1125 200h1.3v1.3h-1.3zM1125 199h1.3v1.3h-1.3zM1121 199h1.3v1.3h-1.3zM1128 196h1.3v1.3h-1.3zM1130 191h1.3v1.3h-1.3zM1142 165h1.3v1.3h-1.3zM1133 196h1.3v1.3h-1.3zM1148 165h1.3v1.3h-1.3zM1138 165h1.3v1.3h-1.3zM1120 199h1.3v1.3h-1.3zM1099 177h1.3v1.3h-1.3zM1134 167h1.3v1.3h-1.3zM1126 167h1.3v1.3h-1.3zM1131 191h1.3v1.3h-1.3zM1121 161h1.3v1.3h-1.3zM1129 171h1.3v1.3h-1.3zM1110 202h1.3v1.3h-1.3zM1111 201h1.3v1.3h-1.3zM1136 168h1.3v1.3h-1.3zM1133 179h1.3v1.3h-1.3zM1154 164h1.3v1.3h-1.3zM1104 175h1.3v1.3h-1.3zM1116 166h1.3v1.3h-1.3zM1137 193h1.3v1.3h-1.3zM1092 188h1.3v1.3h-1.3zM1100 185h1.3v1.3h-1.3zM1139 169h1.3v1.3h-1.3zM1099 194h1.3v1.3h-1.3zM1100 195h1.3v1.3h-1.3zM1110 200h1.3v1.3h-1.3zM1094 180h1.3v1.3h-1.3zM1140 173h1.3v1.3h-1.3zM1141 177h1.3v1.3h-1.3zM1134 195h1.3v1.3h-1.3zM1095 188h1.3v1.3h-1.3zM1142 171h1.3v1.3h-1.3zM1100 189h1.3v1.3h-1.3zM1133 164h1.3v1.3h-1.3zM1132 173h1.3v1.3h-1.3zM1103 179h1.3v1.3h-1.3zM1110 171h1.3v1.3h-1.3zM1135 169h1.3v1.3h-1.3zM1135 167h1.3v1.3h-1.3zM1106 167h1.3v1.3h-1.3zM1132 172h1.3v1.3h-1.3zM1134 176h1.3v1.3h-1.3zM1109 167h1.3v1.3h-1.3zM1134 196h1.3v1.3h-1.3zM1097 191h1.3v1.3h-1.3zM1137 185h1.3v1.3h-1.3zM1134 175h1.3v1.3h-1.3zM1129 166h1.3v1.3h-1.3zM1139 163h1.3v1.3h-1.3zM1136 181h1.3v1.3h-1.3zM1130 167h1.3v1.3h-1.3zM1141 181h1.3v1.3h-1.3zM1097 191h1.3v1.3h-1.3zM1122 169h1.3v1.3h-1.3zM1131 163h1.3v1.3h-1.3zM1145 184h1.3v1.3h-1.3zM1098 201h1.3v1.3h-1.3zM1122 165h1.3v1.3h-1.3zM1124 170h1.3v1.3h-1.3zM1141 180h1.3v1.3h-1.3zM1109 168h1.3v1.3h-1.3zM1117 163h1.3v1.3h-1.3zM1154 172h1.3v1.3h-1.3zM1134 180h1.3v1.3h-1.3zM1134 183h1.3v1.3h-1.3zM1132 172h1.3v1.3h-1.3zM1139 165h1.3v1.3h-1.3zM1105 169h1.3v1.3h-1.3zM1132 176h1.3v1.3h-1.3zM1126 170h1.3v1.3h-1.3zM1125 200h1.3v1.3h-1.3zM1094 196h1.3v1.3h-1.3zM1115 164h1.3v1.3h-1.3zM1097 181h1.3v1.3h-1.3zM1141 179h1.3v1.3h-1.3zM1132 164h1.3v1.3h-1.3zM1133 187h1.3v1.3h-1.3zM1148 171h1.3v1.3h-1.3zM1123 164h1.3v1.3h-1.3zM1101 171h1.3v1.3h-1.3zM1128 198h1.3v1.3h-1.3zM1123 168h1.3v1.3h-1.3zM1132 193h1.3v1.3h-1.3zM1128 169h1.3v1.3h-1.3zM1135 190h1.3v1.3h-1.3zM1126 160h1.3v1.3h-1.3zM1145 170h1.3v1.3h-1.3zM1128 159h1.3v1.3h-1.3zM1140 179h1.3v1.3h-1.3zM1111 171h1.3v1.3h-1.3zM1099 186h1.3v1.3h-1.3zM1133 193h1.3v1.3h-1.3zM1144 159h1.3v1.3h-1.3zM1110 166h1.3v1.3h-1.3zM1107 198h1.3v1.3h-1.3zM1145 178h1.3v1.3h-1.3zM1129 159h1.3v1.3h-1.3zM1146 172h1.3v1.3h-1.3zM1116 170h1.3v1.3h-1.3zM1138 193h1.3v1.3h-1.3zM1130 191h1.3v1.3h-1.3zM1094 184h1.3v1.3h-1.3zM1151 166h1.3v1.3h-1.3zM1110 200h1.3v1.3h-1.3zM1122 167h1.3v1.3h-1.3zM1102 174h1.3v1.3h-1.3zM1145 164h1.3v1.3h-1.3zM1098 189h1.3v1.3h-1.3zM1147 179h1.3v1.3h-1.3zM1134 190h1.3v1.3h-1.3zM1144 181h1.3v1.3h-1.3zM1124 160h1.3v1.3h-1.3zM1126 168h1.3v1.3h-1.3z" fill="#2644e4" fill-opacity="0.6"/>
<path d="M1119.9 198.1L1117.9 198.6L1115.9 198.9L1113.9 198.9L1111.9 198.8L1109.9 198.5L1108.1 198.0L1106.9 197.5L1105.9 197.0L1104.5 196.0L1103.4 195.0L1102.6 194.0L1101.9 192.9L1101.1 191.0L1100.9 190.0L1100.6 188.0L1100.7 186.0L1100.9 185.0L1101.5 183.0L1101.9 182.0L1102.9 180.1L1103.6 179.0L1104.3 178.0L1105.2 177.0L1106.3 176.0L1107.5 175.0L1108.9 174.0L1109.9 173.4L1110.9 172.9L1112.9 172.0L1113.9 171.7L1115.9 171.2L1117.2 171.0L1118.9 170.8L1120.9 170.8L1122.8 171.0L1123.9 171.2L1125.9 171.7L1126.9 172.1L1128.7 173.0L1129.9 173.9L1130.9 174.9L1131.7 176.0L1132.2 177.0L1132.8 179.0L1132.9 180.0L1132.9 182.0L1132.8 183.0L1132.4 185.0L1131.9 186.3L1131.2 188.0L1130.7 189.0L1129.9 190.3L1128.9 191.8L1127.9 192.9L1126.9 194.0L1125.9 194.9L1124.9 195.6L1123.9 196.3L1122.7 197.0L1120.9 197.8L1119.9 198.1Z" fill="#3cc8f0"/>
<path d="M1115.9 197.1L1113.9 197.2L1111.9 197.0L1110.9 196.9L1108.9 196.3L1107.9 195.9L1106.5 195.0L1105.2 194.0L1104.4 193.0L1103.8 192.0L1103.0 190.0L1102.8 189.0L1102.8 187.0L1102.9 185.9L1103.4 184.0L1103.9 182.7L1104.8 181.0L1105.4 180.0L1106.2 179.0L1107.1 178.0L1108.2 177.0L1109.6 176.0L1110.9 175.2L1111.9 174.7L1113.6 174.0L1114.9 173.6L1116.9 173.2L1118.9 173.1L1120.9 173.2L1122.9 173.6L1124.2 174.0L1125.9 174.8L1126.9 175.5L1127.9 176.4L1128.9 177.7L1129.5 179.0L1129.9 180.4L1130.1 182.0L1129.9 184.0L1129.8 185.0L1129.1 187.0L1128.7 188.0L1127.9 189.4L1126.9 190.9L1126.0 192.0L1124.9 193.0L1123.9 193.9L1122.9 194.6L1121.9 195.2L1120.2 196.0L1118.9 196.4L1116.9 196.9L1115.9 197.1Z" fill="#4cf04c"/>
<path d="M1112.9 191.0L1111.9 191.0L1109.9 190.2L1109.0 189.0L1108.8 188.0L1108.9 187.0L1109.9 185.1L1110.9 184.1L1111.9 183.5L1113.2 183.0L1114.9 182.8L1116.1 183.0L1117.6 184.0L1118.2 185.0L1118.2 187.0L1117.7 188.0L1116.9 189.1L1115.8 190.0L1113.9 190.8L1112.9 191.0Z" fill="#b4f232"/>
<path d="M1112.9 189.2L1111.8 189.0L1110.9 188.0L1110.9 187.0L1111.9 185.7L1113.9 185.2L1115.2 186.0L1115.0 188.0L1113.9 188.9L1112.9 189.2Z" fill="#f09424"/>
<path d="M1056.9 27.0 H1238.4" fill="none" stroke="#98a6a6" stroke-width="2.2"/>
<path d="M1238.4 27.0 V206.1" fill="none" stroke="#a9b5b5" stroke-width="2.2"/>
<path d="M1056.9 26.2 V206.1" fill="none" stroke="#7f9090" stroke-width="2.4"/>
<path d="M1055.9 206.1 H1239.2" fill="none" stroke="#3c4a4a" stroke-width="2.3"/>
<path d="M1051.4 206.1h4.5M1053.7 199.3h2.2M1053.7 192.4h2.2M1053.7 185.6h2.2M1053.7 178.7h2.2M1051.4 171.9h4.5M1053.7 165.1h2.2M1053.7 158.2h2.2M1053.7 151.4h2.2M1053.7 144.5h2.2M1051.4 137.7h4.5M1053.7 130.8h2.2M1053.7 124.0h2.2M1053.7 117.2h2.2M1053.7 110.3h2.2M1051.4 103.5h4.5M1053.7 96.6h2.2M1053.7 89.8h2.2M1053.7 83.0h2.2M1053.7 76.1h2.2M1051.4 69.3h4.5M1053.7 62.4h2.2M1053.7 55.6h2.2M1053.7 48.7h2.2M1053.7 41.9h2.2M1051.4 35.1h4.5M1053.7 28.2h2.2" stroke="#667474" stroke-width="1.3" fill="none"/>
<text x="1049.9" y="174.7" font-size="8.4" text-anchor="end" textLength="14.25" lengthAdjust="spacingAndGlyphs" fill="#9aa6a6" font-weight="bold">50K</text>
<text x="1049.9" y="140.5" font-size="8.4" text-anchor="end" textLength="19.0" lengthAdjust="spacingAndGlyphs" fill="#9aa6a6" font-weight="bold">100K</text>
<text x="1049.9" y="106.3" font-size="8.4" text-anchor="end" textLength="19.0" lengthAdjust="spacingAndGlyphs" fill="#9aa6a6" font-weight="bold">150K</text>
<text x="1049.9" y="72.1" font-size="8.4" text-anchor="end" textLength="19.0" lengthAdjust="spacingAndGlyphs" fill="#9aa6a6" font-weight="bold">200K</text>
<text x="1049.9" y="37.9" font-size="8.4" text-anchor="end" textLength="19.0" lengthAdjust="spacingAndGlyphs" fill="#9aa6a6" font-weight="bold">250K</text>
<path d="M1063.8 207.1v2.2M1070.7 207.1v2.2M1077.6 207.1v2.2M1084.5 207.1v2.2M1091.4 207.1v4.2M1098.3 207.1v2.2M1105.2 207.1v2.2M1112.1 207.1v2.2M1119.0 207.1v2.2M1125.9 207.1v4.2M1132.8 207.1v2.2M1139.7 207.1v2.2M1146.6 207.1v2.2M1153.5 207.1v2.2M1160.4 207.1v4.2M1167.3 207.1v2.2M1174.1 207.1v2.2M1181.0 207.1v2.2M1187.9 207.1v2.2M1194.8 207.1v4.2M1201.7 207.1v2.2M1208.6 207.1v2.2M1215.5 207.1v2.2M1222.4 207.1v2.2M1229.3 207.1v4.2M1236.2 207.1v2.2" stroke="#667474" stroke-width="1.3" fill="none"/>
<text x="1058.9" y="224.4" font-size="9.3" text-anchor="middle" textLength="4.5" lengthAdjust="spacingAndGlyphs" fill="#95a1a1" font-weight="bold">0</text>
<text x="1088.9" y="224.4" font-size="9.3" text-anchor="middle" textLength="15.0" lengthAdjust="spacingAndGlyphs" fill="#95a1a1" font-weight="bold">50K</text>
<text x="1123.4" y="224.4" font-size="9.3" text-anchor="middle" textLength="20.0" lengthAdjust="spacingAndGlyphs" fill="#95a1a1" font-weight="bold">100K</text>
<text x="1157.9" y="224.4" font-size="9.3" text-anchor="middle" textLength="20.0" lengthAdjust="spacingAndGlyphs" fill="#95a1a1" font-weight="bold">150K</text>
<text x="1192.3" y="224.4" font-size="9.3" text-anchor="middle" textLength="20.0" lengthAdjust="spacingAndGlyphs" fill="#95a1a1" font-weight="bold">200K</text>
<text x="1226.8" y="224.4" font-size="9.3" text-anchor="middle" textLength="20.0" lengthAdjust="spacingAndGlyphs" fill="#95a1a1" font-weight="bold">250K</text>
<path d="M1098.1 446.4L1096.1 446.6L1094.1 446.6L1092.1 446.5L1091.1 446.4L1089.1 445.9L1088.1 445.3L1087.1 444.3L1086.2 442.4L1086.2 440.4L1086.4 438.4L1087.0 436.4L1087.3 435.4L1088.1 433.4L1088.5 432.4L1089.1 431.2L1090.1 429.4L1090.7 428.4L1091.3 427.4L1092.1 426.3L1093.1 425.0L1094.1 423.9L1095.1 422.9L1096.1 421.9L1097.1 421.0L1098.1 420.1L1099.1 419.3L1100.2 418.4L1101.4 417.4L1102.7 416.4L1104.0 415.4L1105.1 414.6L1106.1 413.8L1107.1 413.1L1108.1 412.4L1109.4 411.4L1110.8 410.4L1112.1 409.4L1113.1 408.6L1114.1 407.9L1115.1 407.0L1116.1 406.2L1117.1 405.4L1118.2 404.4L1119.2 403.4L1120.3 402.4L1121.3 401.4L1122.4 400.4L1123.7 399.4L1125.1 398.4L1126.1 397.9L1127.2 397.4L1129.1 396.8L1131.1 396.4L1132.1 396.3L1134.1 396.2L1136.1 396.2L1138.1 396.4L1139.1 396.5L1141.1 396.7L1143.1 397.0L1145.1 397.3L1146.1 397.5L1148.1 397.9L1150.0 398.4L1151.1 398.7L1152.9 399.4L1154.1 399.9L1155.1 400.5L1156.4 401.4L1157.5 402.4L1158.2 403.4L1159.1 405.1L1159.5 406.4L1159.7 408.4L1159.7 410.4L1159.3 412.4L1159.1 413.4L1158.5 415.4L1158.0 416.4L1157.1 418.4L1156.6 419.4L1156.0 420.4L1155.1 422.0L1154.2 423.4L1153.6 424.4L1152.9 425.4L1152.1 426.5L1151.1 427.7L1150.1 428.6L1149.0 429.4L1147.2 430.4L1146.1 430.9L1145.1 431.4L1143.1 432.4L1142.1 432.9L1141.1 433.4L1139.3 434.4L1138.1 435.1L1137.1 435.7L1135.8 436.4L1134.1 437.4L1133.1 437.9L1132.1 438.4L1130.2 439.4L1129.1 440.0L1128.1 440.4L1126.1 441.3L1125.1 441.7L1123.1 442.4L1122.1 442.7L1120.1 443.3L1119.1 443.5L1117.1 444.0L1115.1 444.4L1114.1 444.6L1112.1 445.0L1110.1 445.2L1108.4 445.4L1107.1 445.6L1105.1 445.9L1103.1 446.1L1101.1 446.3L1099.1 446.4L1098.1 446.4Z" fill="url(#pl0)"/>
<path d="M1101.1 445.5L1099.1 445.7L1097.1 445.8L1095.1 445.9L1093.1 445.8L1091.1 445.5L1090.1 445.2L1088.6 444.4L1087.8 443.4L1087.3 441.4L1087.4 439.4L1087.8 437.4L1088.2 436.4L1089.0 434.4L1089.5 433.4L1090.1 432.4L1091.1 431.0L1092.1 429.9L1093.1 428.9L1094.1 428.0L1095.1 427.2L1096.1 426.4L1097.4 425.4L1098.7 424.4L1100.0 423.4L1101.1 422.5L1102.1 421.7L1103.1 421.0L1104.1 420.2L1105.2 419.4L1106.5 418.4L1107.9 417.4L1109.1 416.5L1110.1 415.9L1111.1 415.2L1112.3 414.4L1113.9 413.4L1115.1 412.6L1116.1 412.0L1117.2 411.4L1118.9 410.4L1120.1 409.7L1121.1 409.2L1122.6 408.4L1124.1 407.6L1125.1 407.1L1126.8 406.4L1128.1 405.9L1129.4 405.4L1131.1 404.9L1133.0 404.4L1134.1 404.2L1136.1 403.9L1138.1 403.7L1140.1 403.7L1142.1 403.9L1144.1 404.2L1145.1 404.5L1147.1 405.2L1148.1 405.7L1149.1 406.4L1150.2 407.4L1151.1 408.6L1152.0 410.4L1152.3 411.4L1152.7 413.4L1152.8 415.4L1152.4 417.4L1152.1 418.5L1151.3 420.4L1150.7 421.4L1150.0 422.4L1149.1 423.6L1148.1 424.8L1147.1 425.8L1146.1 426.7L1145.1 427.5L1144.0 428.4L1142.6 429.4L1141.2 430.4L1140.1 431.2L1139.1 431.8L1138.1 432.5L1136.7 433.4L1135.1 434.4L1134.1 435.0L1133.1 435.5L1131.6 436.4L1130.1 437.2L1129.1 437.8L1127.8 438.4L1126.1 439.2L1125.1 439.7L1123.5 440.4L1122.1 441.0L1121.0 441.4L1119.1 442.1L1118.1 442.4L1116.1 443.0L1114.4 443.4L1113.1 443.7L1111.1 444.1L1109.3 444.4L1108.1 444.6L1106.1 445.0L1104.1 445.2L1102.1 445.4L1101.1 445.5Z" fill="url(#pl1)"/>
<path d="M1102.1 444.5L1100.1 444.8L1098.1 444.9L1096.1 445.0L1094.1 444.9L1092.1 444.7L1091.1 444.4L1089.4 443.4L1088.8 442.4L1088.6 440.4L1088.9 438.4L1089.2 437.4L1090.1 435.4L1090.7 434.4L1091.4 433.4L1092.4 432.4L1093.5 431.4L1094.8 430.4L1096.1 429.5L1097.1 428.8L1098.1 428.2L1099.3 427.4L1100.9 426.4L1102.1 425.6L1103.1 425.0L1104.2 424.4L1105.8 423.4L1107.1 422.6L1108.1 422.0L1109.2 421.4L1110.9 420.4L1112.1 419.7L1113.1 419.1L1114.5 418.4L1116.1 417.5L1117.1 417.0L1118.3 416.4L1120.1 415.5L1121.1 415.1L1122.7 414.4L1124.1 413.8L1125.4 413.4L1127.1 412.8L1128.7 412.4L1130.1 412.1L1132.1 411.7L1134.1 411.6L1136.1 411.6L1138.1 411.8L1140.1 412.4L1141.1 412.7L1142.4 413.4L1143.8 414.4L1144.8 415.4L1145.5 416.4L1146.1 418.3L1146.1 419.4L1145.9 420.4L1145.1 422.3L1144.5 423.4L1143.7 424.4L1142.9 425.4L1141.9 426.4L1140.8 427.4L1139.7 428.4L1138.4 429.4L1137.1 430.4L1136.1 431.1L1135.1 431.8L1134.1 432.5L1132.7 433.4L1131.1 434.4L1130.1 435.0L1129.1 435.5L1127.5 436.4L1126.1 437.2L1125.1 437.7L1123.6 438.4L1122.1 439.1L1121.1 439.5L1119.1 440.4L1118.1 440.8L1116.3 441.4L1115.1 441.8L1113.1 442.4L1112.1 442.7L1110.1 443.2L1108.9 443.4L1107.1 443.8L1105.1 444.1L1103.1 444.4L1102.1 444.5Z" fill="url(#pbl)"/>
<path d="M1088 446h1.3v1.3h-1.3zM1088 432h1.3v1.3h-1.3zM1085 441h1.3v1.3h-1.3zM1153 424h1.3v1.3h-1.3zM1107 446h1.3v1.3h-1.3zM1147 404h1.3v1.3h-1.3zM1086 445h1.3v1.3h-1.3zM1161 408h1.3v1.3h-1.3zM1148 425h1.3v1.3h-1.3zM1139 403h1.3v1.3h-1.3zM1115 406h1.3v1.3h-1.3zM1085 439h1.3v1.3h-1.3zM1129 441h1.3v1.3h-1.3zM1089 425h1.3v1.3h-1.3zM1162 415h1.3v1.3h-1.3zM1117 411h1.3v1.3h-1.3zM1134 436h1.3v1.3h-1.3zM1110 412h1.3v1.3h-1.3zM1145 403h1.3v1.3h-1.3zM1126 396h1.3v1.3h-1.3zM1086 440h1.3v1.3h-1.3zM1154 414h1.3v1.3h-1.3zM1089 432h1.3v1.3h-1.3zM1086 436h1.3v1.3h-1.3zM1155 416h1.3v1.3h-1.3zM1168 410h1.3v1.3h-1.3zM1154 411h1.3v1.3h-1.3zM1123 441h1.3v1.3h-1.3zM1105 415h1.3v1.3h-1.3zM1134 404h1.3v1.3h-1.3zM1153 403h1.3v1.3h-1.3zM1139 402h1.3v1.3h-1.3zM1150 391h1.3v1.3h-1.3zM1154 412h1.3v1.3h-1.3zM1143 435h1.3v1.3h-1.3zM1123 442h1.3v1.3h-1.3zM1090 429h1.3v1.3h-1.3zM1117 409h1.3v1.3h-1.3zM1088 434h1.3v1.3h-1.3zM1152 401h1.3v1.3h-1.3zM1146 403h1.3v1.3h-1.3zM1121 406h1.3v1.3h-1.3zM1108 400h1.3v1.3h-1.3zM1119 409h1.3v1.3h-1.3zM1115 403h1.3v1.3h-1.3zM1137 404h1.3v1.3h-1.3zM1150 434h1.3v1.3h-1.3zM1156 416h1.3v1.3h-1.3zM1131 391h1.3v1.3h-1.3zM1146 436h1.3v1.3h-1.3zM1158 426h1.3v1.3h-1.3zM1151 427h1.3v1.3h-1.3zM1165 399h1.3v1.3h-1.3zM1139 403h1.3v1.3h-1.3zM1127 389h1.3v1.3h-1.3zM1109 415h1.3v1.3h-1.3zM1126 399h1.3v1.3h-1.3zM1156 427h1.3v1.3h-1.3zM1151 395h1.3v1.3h-1.3zM1135 387h1.3v1.3h-1.3zM1155 407h1.3v1.3h-1.3zM1114 392h1.3v1.3h-1.3zM1161 415h1.3v1.3h-1.3zM1123 402h1.3v1.3h-1.3zM1130 404h1.3v1.3h-1.3zM1154 411h1.3v1.3h-1.3zM1094 426h1.3v1.3h-1.3zM1124 440h1.3v1.3h-1.3zM1145 401h1.3v1.3h-1.3zM1149 403h1.3v1.3h-1.3zM1149 400h1.3v1.3h-1.3zM1112 405h1.3v1.3h-1.3zM1103 418h1.3v1.3h-1.3zM1125 405h1.3v1.3h-1.3zM1117 403h1.3v1.3h-1.3zM1124 394h1.3v1.3h-1.3zM1157 416h1.3v1.3h-1.3zM1115 407h1.3v1.3h-1.3zM1152 409h1.3v1.3h-1.3zM1125 401h1.3v1.3h-1.3zM1151 435h1.3v1.3h-1.3zM1110 413h1.3v1.3h-1.3zM1116 401h1.3v1.3h-1.3zM1160 396h1.3v1.3h-1.3zM1138 390h1.3v1.3h-1.3zM1155 432h1.3v1.3h-1.3zM1126 395h1.3v1.3h-1.3zM1126 400h1.3v1.3h-1.3zM1112 403h1.3v1.3h-1.3zM1144 395h1.3v1.3h-1.3zM1136 395h1.3v1.3h-1.3zM1143 435h1.3v1.3h-1.3zM1122 397h1.3v1.3h-1.3zM1141 401h1.3v1.3h-1.3zM1131 398h1.3v1.3h-1.3zM1120 400h1.3v1.3h-1.3zM1137 401h1.3v1.3h-1.3zM1144 428h1.3v1.3h-1.3zM1143 429h1.3v1.3h-1.3zM1152 408h1.3v1.3h-1.3zM1153 433h1.3v1.3h-1.3zM1134 386h1.3v1.3h-1.3zM1138 439h1.3v1.3h-1.3zM1159 398h1.3v1.3h-1.3zM1111 405h1.3v1.3h-1.3zM1157 396h1.3v1.3h-1.3zM1130 402h1.3v1.3h-1.3zM1136 389h1.3v1.3h-1.3zM1121 401h1.3v1.3h-1.3zM1097 419h1.3v1.3h-1.3zM1150 399h1.3v1.3h-1.3zM1099 418h1.3v1.3h-1.3zM1154 439h1.3v1.3h-1.3zM1162 404h1.3v1.3h-1.3zM1123 393h1.3v1.3h-1.3zM1097 446h1.3v1.3h-1.3zM1130 392h1.3v1.3h-1.3zM1126 402h1.3v1.3h-1.3zM1136 399h1.3v1.3h-1.3zM1128 401h1.3v1.3h-1.3zM1125 389h1.3v1.3h-1.3zM1154 411h1.3v1.3h-1.3zM1151 435h1.3v1.3h-1.3zM1125 398h1.3v1.3h-1.3zM1110 414h1.3v1.3h-1.3zM1155 421h1.3v1.3h-1.3zM1092 419h1.3v1.3h-1.3zM1124 398h1.3v1.3h-1.3zM1127 405h1.3v1.3h-1.3zM1125 402h1.3v1.3h-1.3zM1152 405h1.3v1.3h-1.3zM1132 404h1.3v1.3h-1.3zM1106 411h1.3v1.3h-1.3zM1122 402h1.3v1.3h-1.3zM1136 393h1.3v1.3h-1.3zM1105 412h1.3v1.3h-1.3zM1154 425h1.3v1.3h-1.3zM1164 397h1.3v1.3h-1.3zM1132 398h1.3v1.3h-1.3zM1119 405h1.3v1.3h-1.3zM1154 400h1.3v1.3h-1.3zM1153 408h1.3v1.3h-1.3zM1124 393h1.3v1.3h-1.3zM1154 434h1.3v1.3h-1.3zM1163 406h1.3v1.3h-1.3zM1104 409h1.3v1.3h-1.3zM1150 401h1.3v1.3h-1.3zM1125 404h1.3v1.3h-1.3zM1114 407h1.3v1.3h-1.3zM1139 398h1.3v1.3h-1.3zM1152 425h1.3v1.3h-1.3zM1154 393h1.3v1.3h-1.3zM1106 415h1.3v1.3h-1.3zM1151 395h1.3v1.3h-1.3zM1161 419h1.3v1.3h-1.3zM1123 402h1.3v1.3h-1.3zM1150 403h1.3v1.3h-1.3zM1142 439h1.3v1.3h-1.3zM1142 387h1.3v1.3h-1.3zM1157 425h1.3v1.3h-1.3zM1144 394h1.3v1.3h-1.3z" fill="#8492f2" fill-opacity="0.45"/>
<path d="M1091 442h1.3v1.3h-1.3zM1106 427h1.3v1.3h-1.3zM1131 417h1.3v1.3h-1.3zM1095 432h1.3v1.3h-1.3zM1140 408h1.3v1.3h-1.3zM1122 416h1.3v1.3h-1.3zM1092 432h1.3v1.3h-1.3zM1141 422h1.3v1.3h-1.3zM1147 408h1.3v1.3h-1.3zM1125 408h1.3v1.3h-1.3zM1088 443h1.3v1.3h-1.3zM1136 432h1.3v1.3h-1.3zM1130 409h1.3v1.3h-1.3zM1111 424h1.3v1.3h-1.3zM1125 407h1.3v1.3h-1.3zM1131 432h1.3v1.3h-1.3zM1093 434h1.3v1.3h-1.3zM1128 435h1.3v1.3h-1.3zM1105 427h1.3v1.3h-1.3zM1150 421h1.3v1.3h-1.3zM1091 444h1.3v1.3h-1.3zM1106 443h1.3v1.3h-1.3zM1131 418h1.3v1.3h-1.3zM1106 425h1.3v1.3h-1.3zM1128 411h1.3v1.3h-1.3zM1120 439h1.3v1.3h-1.3zM1106 423h1.3v1.3h-1.3zM1138 423h1.3v1.3h-1.3zM1112 443h1.3v1.3h-1.3zM1126 436h1.3v1.3h-1.3zM1147 422h1.3v1.3h-1.3zM1127 437h1.3v1.3h-1.3zM1144 424h1.3v1.3h-1.3zM1129 415h1.3v1.3h-1.3zM1118 438h1.3v1.3h-1.3zM1141 419h1.3v1.3h-1.3zM1143 419h1.3v1.3h-1.3zM1150 411h1.3v1.3h-1.3zM1133 430h1.3v1.3h-1.3zM1134 414h1.3v1.3h-1.3zM1117 422h1.3v1.3h-1.3zM1093 444h1.3v1.3h-1.3zM1104 444h1.3v1.3h-1.3zM1142 428h1.3v1.3h-1.3zM1122 415h1.3v1.3h-1.3zM1138 417h1.3v1.3h-1.3zM1124 411h1.3v1.3h-1.3zM1122 419h1.3v1.3h-1.3zM1146 416h1.3v1.3h-1.3zM1142 424h1.3v1.3h-1.3zM1100 444h1.3v1.3h-1.3zM1138 412h1.3v1.3h-1.3zM1139 416h1.3v1.3h-1.3zM1130 437h1.3v1.3h-1.3zM1134 414h1.3v1.3h-1.3zM1131 436h1.3v1.3h-1.3zM1139 424h1.3v1.3h-1.3zM1130 419h1.3v1.3h-1.3zM1094 445h1.3v1.3h-1.3zM1134 419h1.3v1.3h-1.3zM1140 427h1.3v1.3h-1.3zM1098 426h1.3v1.3h-1.3zM1148 408h1.3v1.3h-1.3zM1098 445h1.3v1.3h-1.3zM1139 418h1.3v1.3h-1.3zM1148 408h1.3v1.3h-1.3zM1108 423h1.3v1.3h-1.3zM1133 410h1.3v1.3h-1.3zM1125 436h1.3v1.3h-1.3zM1094 443h1.3v1.3h-1.3zM1090 437h1.3v1.3h-1.3zM1089 437h1.3v1.3h-1.3zM1114 442h1.3v1.3h-1.3zM1124 421h1.3v1.3h-1.3zM1090 442h1.3v1.3h-1.3zM1145 417h1.3v1.3h-1.3zM1134 419h1.3v1.3h-1.3zM1116 414h1.3v1.3h-1.3zM1147 407h1.3v1.3h-1.3zM1126 418h1.3v1.3h-1.3zM1102 428h1.3v1.3h-1.3zM1130 433h1.3v1.3h-1.3zM1093 445h1.3v1.3h-1.3zM1121 438h1.3v1.3h-1.3zM1131 419h1.3v1.3h-1.3zM1123 421h1.3v1.3h-1.3zM1118 411h1.3v1.3h-1.3zM1101 445h1.3v1.3h-1.3zM1092 436h1.3v1.3h-1.3zM1137 421h1.3v1.3h-1.3zM1092 432h1.3v1.3h-1.3zM1136 417h1.3v1.3h-1.3zM1134 408h1.3v1.3h-1.3zM1094 435h1.3v1.3h-1.3zM1136 412h1.3v1.3h-1.3zM1126 434h1.3v1.3h-1.3zM1091 435h1.3v1.3h-1.3zM1141 423h1.3v1.3h-1.3zM1127 417h1.3v1.3h-1.3zM1088 440h1.3v1.3h-1.3zM1119 419h1.3v1.3h-1.3zM1142 419h1.3v1.3h-1.3zM1091 435h1.3v1.3h-1.3zM1137 422h1.3v1.3h-1.3zM1091 437h1.3v1.3h-1.3zM1113 423h1.3v1.3h-1.3zM1132 433h1.3v1.3h-1.3zM1094 444h1.3v1.3h-1.3zM1107 443h1.3v1.3h-1.3zM1116 440h1.3v1.3h-1.3zM1096 445h1.3v1.3h-1.3zM1117 420h1.3v1.3h-1.3zM1136 427h1.3v1.3h-1.3zM1143 405h1.3v1.3h-1.3zM1117 420h1.3v1.3h-1.3zM1100 429h1.3v1.3h-1.3zM1128 433h1.3v1.3h-1.3zM1094 434h1.3v1.3h-1.3zM1091 438h1.3v1.3h-1.3zM1130 412h1.3v1.3h-1.3zM1135 428h1.3v1.3h-1.3zM1090 444h1.3v1.3h-1.3zM1144 422h1.3v1.3h-1.3zM1093 444h1.3v1.3h-1.3zM1114 418h1.3v1.3h-1.3zM1127 436h1.3v1.3h-1.3zM1110 443h1.3v1.3h-1.3zM1091 442h1.3v1.3h-1.3zM1139 412h1.3v1.3h-1.3zM1137 406h1.3v1.3h-1.3zM1111 420h1.3v1.3h-1.3zM1131 418h1.3v1.3h-1.3zM1112 424h1.3v1.3h-1.3zM1106 422h1.3v1.3h-1.3zM1090 439h1.3v1.3h-1.3zM1127 435h1.3v1.3h-1.3zM1089 442h1.3v1.3h-1.3zM1146 418h1.3v1.3h-1.3zM1093 433h1.3v1.3h-1.3zM1110 419h1.3v1.3h-1.3zM1093 436h1.3v1.3h-1.3zM1122 436h1.3v1.3h-1.3zM1143 424h1.3v1.3h-1.3zM1105 443h1.3v1.3h-1.3zM1137 415h1.3v1.3h-1.3zM1105 444h1.3v1.3h-1.3zM1130 418h1.3v1.3h-1.3zM1130 415h1.3v1.3h-1.3zM1108 423h1.3v1.3h-1.3zM1131 412h1.3v1.3h-1.3zM1119 420h1.3v1.3h-1.3zM1138 421h1.3v1.3h-1.3zM1133 431h1.3v1.3h-1.3zM1144 427h1.3v1.3h-1.3zM1105 422h1.3v1.3h-1.3zM1143 425h1.3v1.3h-1.3zM1126 419h1.3v1.3h-1.3zM1109 444h1.3v1.3h-1.3zM1134 407h1.3v1.3h-1.3zM1138 429h1.3v1.3h-1.3zM1137 420h1.3v1.3h-1.3zM1141 415h1.3v1.3h-1.3zM1112 422h1.3v1.3h-1.3zM1122 418h1.3v1.3h-1.3zM1142 413h1.3v1.3h-1.3zM1135 406h1.3v1.3h-1.3zM1129 412h1.3v1.3h-1.3zM1117 419h1.3v1.3h-1.3zM1152 412h1.3v1.3h-1.3zM1115 421h1.3v1.3h-1.3zM1139 419h1.3v1.3h-1.3zM1124 418h1.3v1.3h-1.3zM1088 442h1.3v1.3h-1.3zM1136 413h1.3v1.3h-1.3zM1132 433h1.3v1.3h-1.3zM1117 416h1.3v1.3h-1.3zM1112 416h1.3v1.3h-1.3zM1127 439h1.3v1.3h-1.3zM1140 429h1.3v1.3h-1.3zM1136 406h1.3v1.3h-1.3zM1146 423h1.3v1.3h-1.3zM1149 418h1.3v1.3h-1.3zM1115 420h1.3v1.3h-1.3zM1140 412h1.3v1.3h-1.3zM1150 409h1.3v1.3h-1.3zM1116 441h1.3v1.3h-1.3zM1150 414h1.3v1.3h-1.3zM1100 423h1.3v1.3h-1.3zM1153 416h1.3v1.3h-1.3zM1130 417h1.3v1.3h-1.3zM1144 419h1.3v1.3h-1.3zM1097 445h1.3v1.3h-1.3zM1135 409h1.3v1.3h-1.3zM1108 421h1.3v1.3h-1.3zM1134 417h1.3v1.3h-1.3zM1145 420h1.3v1.3h-1.3zM1132 414h1.3v1.3h-1.3zM1113 423h1.3v1.3h-1.3zM1123 414h1.3v1.3h-1.3zM1131 436h1.3v1.3h-1.3zM1130 434h1.3v1.3h-1.3zM1138 407h1.3v1.3h-1.3zM1140 409h1.3v1.3h-1.3zM1144 406h1.3v1.3h-1.3zM1125 414h1.3v1.3h-1.3zM1143 413h1.3v1.3h-1.3zM1141 410h1.3v1.3h-1.3zM1138 410h1.3v1.3h-1.3zM1140 410h1.3v1.3h-1.3zM1152 411h1.3v1.3h-1.3zM1131 435h1.3v1.3h-1.3zM1126 418h1.3v1.3h-1.3zM1137 410h1.3v1.3h-1.3zM1137 429h1.3v1.3h-1.3zM1117 442h1.3v1.3h-1.3zM1109 418h1.3v1.3h-1.3zM1147 420h1.3v1.3h-1.3zM1147 416h1.3v1.3h-1.3zM1119 440h1.3v1.3h-1.3zM1134 411h1.3v1.3h-1.3zM1106 443h1.3v1.3h-1.3zM1151 418h1.3v1.3h-1.3zM1133 417h1.3v1.3h-1.3zM1140 422h1.3v1.3h-1.3zM1095 445h1.3v1.3h-1.3zM1113 443h1.3v1.3h-1.3zM1121 413h1.3v1.3h-1.3zM1091 432h1.3v1.3h-1.3zM1139 415h1.3v1.3h-1.3zM1141 420h1.3v1.3h-1.3zM1150 407h1.3v1.3h-1.3z" fill="#2644e4" fill-opacity="0.6"/>
<path d="M1099.1 443.5L1097.1 443.5L1095.3 443.4L1094.1 443.2L1092.1 442.4L1091.3 441.4L1091.1 440.4L1091.1 439.4L1091.8 437.4L1092.5 436.4L1093.3 435.4L1094.4 434.4L1095.6 433.4L1097.1 432.4L1098.1 431.7L1099.1 431.1L1100.3 430.4L1102.1 429.4L1103.1 428.8L1104.1 428.3L1105.8 427.4L1107.1 426.7L1108.1 426.2L1109.9 425.4L1111.1 424.8L1112.2 424.4L1114.1 423.6L1115.1 423.2L1117.1 422.5L1118.1 422.1L1120.1 421.5L1121.1 421.2L1123.1 420.6L1124.2 420.4L1126.1 420.0L1128.1 419.7L1130.1 419.6L1132.1 419.7L1134.1 420.1L1135.1 420.4L1136.4 421.4L1137.0 423.4L1136.3 425.4L1135.6 426.4L1134.8 427.4L1133.8 428.4L1132.7 429.4L1131.5 430.4L1130.1 431.4L1129.1 432.1L1128.1 432.8L1127.1 433.4L1125.4 434.4L1124.1 435.2L1123.1 435.7L1121.7 436.4L1120.1 437.2L1119.1 437.6L1117.4 438.4L1116.1 438.9L1114.9 439.4L1113.1 440.1L1112.1 440.4L1110.1 441.0L1108.8 441.4L1107.1 441.9L1105.1 442.4L1104.1 442.7L1102.1 443.1L1100.1 443.4L1099.1 443.5Z" fill="#3cc8f0"/>
<path d="M1102.1 442.5L1100.1 442.8L1098.1 443.0L1096.1 442.9L1094.1 442.4L1093.1 441.8L1092.2 440.4L1092.5 438.4L1093.1 437.3L1094.1 436.0L1095.1 435.0L1096.1 434.2L1097.3 433.4L1098.9 432.4L1100.1 431.7L1101.1 431.1L1102.4 430.4L1104.1 429.5L1105.1 428.9L1106.1 428.4L1108.1 427.4L1109.1 426.9L1110.3 426.4L1112.1 425.6L1113.1 425.2L1115.1 424.5L1116.1 424.1L1118.1 423.5L1119.1 423.1L1121.1 422.6L1122.1 422.4L1124.1 422.0L1126.1 421.7L1128.1 421.6L1130.1 421.7L1132.1 422.2L1133.1 422.8L1133.8 424.4L1133.2 426.4L1132.5 427.4L1131.6 428.4L1130.6 429.4L1129.4 430.4L1128.1 431.4L1127.1 432.1L1126.1 432.8L1125.1 433.4L1123.4 434.4L1122.1 435.1L1121.1 435.6L1119.6 436.4L1118.1 437.1L1117.1 437.5L1115.1 438.4L1114.1 438.8L1112.3 439.4L1111.1 439.8L1109.3 440.4L1108.1 440.8L1106.1 441.4L1105.1 441.7L1103.1 442.3L1102.1 442.5Z" fill="#4cf04c"/>
<path d="M1102.1 439.8L1100.1 440.3L1098.1 440.0L1097.2 438.4L1098.1 437.1L1099.1 436.2L1100.6 435.4L1102.1 434.8L1103.2 434.4L1105.1 433.8L1106.1 433.4L1108.1 432.5L1109.1 432.0L1110.3 431.4L1112.1 430.6L1113.1 430.2L1115.1 429.6L1116.1 429.4L1118.1 429.3L1119.1 429.6L1119.1 430.7L1118.1 431.8L1117.1 432.6L1115.7 433.4L1114.1 434.2L1113.1 434.6L1111.1 435.4L1110.1 435.7L1108.4 436.4L1107.1 437.0L1106.1 437.6L1104.9 438.4L1103.1 439.4L1102.1 439.8Z" fill="#b4f232"/>
<path d="M1102.1 438.5L1100.1 438.8L1099.8 437.4L1101.1 436.7L1102.1 436.3L1103.3 436.4L1103.1 437.6L1102.1 438.5Z" fill="#f09424"/>
<path d="M1059.1 266.4 H1242.3" fill="none" stroke="#98a6a6" stroke-width="2.2"/>
<path d="M1242.3 266.4 V447.8" fill="none" stroke="#a9b5b5" stroke-width="2.2"/>
<path d="M1059.1 265.6 V447.8" fill="none" stroke="#7f9090" stroke-width="2.4"/>
<path d="M1058.1 447.8 H1243.1" fill="none" stroke="#3c4a4a" stroke-width="2.3"/>
<path d="M1053.6 447.8h4.5M1055.9 440.9h2.2M1055.9 433.9h2.2M1055.9 427.0h2.2M1055.9 420.1h2.2M1053.6 413.2h4.5M1055.9 406.2h2.2M1055.9 399.3h2.2M1055.9 392.4h2.2M1055.9 385.4h2.2M1053.6 378.5h4.5M1055.9 371.6h2.2M1055.9 364.6h2.2M1055.9 357.7h2.2M1055.9 350.8h2.2M1053.6 343.9h4.5M1055.9 336.9h2.2M1055.9 330.0h2.2M1055.9 323.1h2.2M1055.9 316.1h2.2M1053.6 309.2h4.5M1055.9 302.3h2.2M1055.9 295.4h2.2M1055.9 288.4h2.2M1055.9 281.5h2.2M1053.6 274.6h4.5M1055.9 267.6h2.2" stroke="#667474" stroke-width="1.3" fill="none"/>
<text x="1052.1" y="416.0" font-size="8.4" text-anchor="end" textLength="14.25" lengthAdjust="spacingAndGlyphs" fill="#9aa6a6" font-weight="bold">50K</text>
<text x="1052.1" y="381.4" font-size="8.4" text-anchor="end" textLength="19.0" lengthAdjust="spacingAndGlyphs" fill="#9aa6a6" font-weight="bold">100K</text>
<text x="1052.1" y="346.7" font-size="8.4" text-anchor="end" textLength="19.0" lengthAdjust="spacingAndGlyphs" fill="#9aa6a6" font-weight="bold">150K</text>
<text x="1052.1" y="312.1" font-size="8.4" text-anchor="end" textLength="19.0" lengthAdjust="spacingAndGlyphs" fill="#9aa6a6" font-weight="bold">200K</text>
<text x="1052.1" y="277.4" font-size="8.4" text-anchor="end" textLength="19.0" lengthAdjust="spacingAndGlyphs" fill="#9aa6a6" font-weight="bold">250K</text>
<path d="M1066.1 448.8v2.2M1073.0 448.8v2.2M1080.0 448.8v2.2M1086.9 448.8v2.2M1093.9 448.8v4.2M1100.9 448.8v2.2M1107.8 448.8v2.2M1114.8 448.8v2.2M1121.8 448.8v2.2M1128.7 448.8v4.2M1135.7 448.8v2.2M1142.6 448.8v2.2M1149.6 448.8v2.2M1156.6 448.8v2.2M1163.5 448.8v4.2M1170.5 448.8v2.2M1177.4 448.8v2.2M1184.4 448.8v2.2M1191.4 448.8v2.2M1198.3 448.8v4.2M1205.3 448.8v2.2M1212.3 448.8v2.2M1219.2 448.8v2.2M1226.2 448.8v2.2M1233.1 448.8v4.2M1240.1 448.8v2.2" stroke="#667474" stroke-width="1.3" fill="none"/>
<text x="1061.1" y="466.1" font-size="9.3" text-anchor="middle" textLength="4.5" lengthAdjust="spacingAndGlyphs" fill="#95a1a1" font-weight="bold">0</text>
<text x="1091.4" y="466.1" font-size="9.3" text-anchor="middle" textLength="15.0" lengthAdjust="spacingAndGlyphs" fill="#95a1a1" font-weight="bold">50K</text>
<text x="1126.2" y="466.1" font-size="9.3" text-anchor="middle" textLength="20.0" lengthAdjust="spacingAndGlyphs" fill="#95a1a1" font-weight="bold">100K</text>
<text x="1161.0" y="466.1" font-size="9.3" text-anchor="middle" textLength="20.0" lengthAdjust="spacingAndGlyphs" fill="#95a1a1" font-weight="bold">150K</text>
<text x="1195.8" y="466.1" font-size="9.3" text-anchor="middle" textLength="20.0" lengthAdjust="spacingAndGlyphs" fill="#95a1a1" font-weight="bold">200K</text>
<text x="1230.6" y="466.1" font-size="9.3" text-anchor="middle" textLength="20.0" lengthAdjust="spacingAndGlyphs" fill="#95a1a1" font-weight="bold">250K</text>
<rect x="363.7" y="29.6" width="119.3" height="178.0" fill="none" stroke="#bf3a66" stroke-width="2.4"/>
<rect x="616.0" y="29.4" width="119.0" height="178.2" fill="none" stroke="#bf3a66" stroke-width="2.4"/>
<rect x="865.0" y="123.7" width="49.7" height="80.1" fill="none" stroke="#bf3a66" stroke-width="2.4"/>
<ellipse cx="1121.5" cy="180.6" rx="34.3" ry="14.4" transform="rotate(-27.8 1121.5 180.6)" fill="none" stroke="#d42c74" stroke-width="2.6"/>
<ellipse cx="1120.9" cy="423.3" rx="34.3" ry="14.6" transform="rotate(-28.6 1120.9 423.3)" fill="none" stroke="#111" stroke-width="2.4"/>
<line x1="463.4" y1="123.8" x2="588.5" y2="123.8" stroke="#c83458" stroke-width="2.4"/><path d="M597.5 123.8L588.5 127.7L588.5 119.9Z" fill="#dc2432"/>
<line x1="715.8" y1="124.0" x2="847.8" y2="161.4" stroke="#c83458" stroke-width="2.4"/><path d="M856.5 163.8L846.8 165.1L848.9 157.6Z" fill="#dc2432"/>
<line x1="900.3" y1="152.9" x2="1074.5" y2="152.9" stroke="#c83458" stroke-width="2.4"/><path d="M1083.5 152.9L1074.5 156.8L1074.5 149.0Z" fill="#dc2432"/>
<rect x="154" y="574" width="1007.2" height="107.9" fill="none" stroke="#0a0a0a" stroke-width="3.2"/>
<line x1="154" y1="626.4" x2="1161.2" y2="626.4" stroke="#0a0a0a" stroke-width="5"/>
<line x1="294.7" y1="574" x2="294.7" y2="681.9" stroke="#0a0a0a" stroke-width="2.6"/>
<line x1="728.1" y1="574" x2="728.1" y2="681.9" stroke="#0a0a0a" stroke-width="2.6"/>
<text x="305.55" y="611.3" font-size="27.0" textLength="410.2" lengthAdjust="spacingAndGlyphs" fill="#111">with control siRNA adipocyte MSC</text>
<text x="736.45" y="611.3" font-size="27.0" textLength="417.3" lengthAdjust="spacingAndGlyphs" fill="#111">with GATA2 siRNA adipocyte MSC</text>
<text x="175.60" y="665.0" font-size="27.0" textLength="103.2" lengthAdjust="spacingAndGlyphs" fill="#111">HSC (%)</text>
<text x="441.50" y="667.0" font-size="30.5" textLength="137.9" lengthAdjust="spacingAndGlyphs" fill="#111">67.1 ± 4.8</text>
<text x="879.20" y="667.0" font-size="30.5" textLength="138.8" lengthAdjust="spacingAndGlyphs" fill="#111">37.3 ± 4.8</text>
<rect x="155.2" y="899.8" width="83.0" height="250.1" fill="#0a0a0a"/>
<rect x="323.9" y="1033.5" width="84.0" height="116.4" fill="#fff" stroke="#0a0a0a" stroke-width="3.5"/>
<line x1="196.5" y1="900" x2="196.5" y2="840.5" stroke="#0a0a0a" stroke-width="3"/>
<line x1="192.8" y1="840.0" x2="201.2" y2="840.0" stroke="#0a0a0a" stroke-width="3.4"/>
<line x1="365.4" y1="1032" x2="365.4" y2="1024" stroke="#0a0a0a" stroke-width="3"/>
<line x1="360.6" y1="1023.6" x2="370.2" y2="1023.6" stroke="#0a0a0a" stroke-width="3.4"/>
<path d="M199.1 825.3 V779 H365.3 V1007.2" fill="none" stroke="#0a0a0a" stroke-width="2.4" stroke-linejoin="round"/>
<text x="274.40" y="781.0" font-size="30.0" textLength="11.6" lengthAdjust="spacingAndGlyphs" fill="#111">*</text>
<line x1="111.9" y1="760.3" x2="111.9" y2="1151.8" stroke="#0a0a0a" stroke-width="3.8"/>
<line x1="110" y1="1149.9" x2="450.2" y2="1149.9" stroke="#0a0a0a" stroke-width="3.8"/>
<line x1="105.8" y1="1149.9" x2="111" y2="1149.9" stroke="#0a0a0a" stroke-width="3.2"/>
<text x="82.20" y="1160.1" font-size="28.5" textLength="10.9" lengthAdjust="spacingAndGlyphs" fill="#111">0</text>
<line x1="105.8" y1="1085.2" x2="111" y2="1085.2" stroke="#0a0a0a" stroke-width="3.2"/>
<text x="62.80" y="1095.4" font-size="28.5" textLength="30.3" lengthAdjust="spacingAndGlyphs" fill="#111">0.5</text>
<line x1="105.8" y1="1020.6" x2="111" y2="1020.6" stroke="#0a0a0a" stroke-width="3.2"/>
<text x="63.75" y="1030.8" font-size="28.5" textLength="29.4" lengthAdjust="spacingAndGlyphs" fill="#111">1.0</text>
<line x1="105.8" y1="955.9" x2="111" y2="955.9" stroke="#0a0a0a" stroke-width="3.2"/>
<text x="62.80" y="966.1" font-size="28.5" textLength="30.3" lengthAdjust="spacingAndGlyphs" fill="#111">1.5</text>
<line x1="105.8" y1="891.2" x2="111" y2="891.2" stroke="#0a0a0a" stroke-width="3.2"/>
<text x="62.80" y="901.4" font-size="28.5" textLength="30.3" lengthAdjust="spacingAndGlyphs" fill="#111">2.0</text>
<line x1="105.8" y1="826.6" x2="111" y2="826.6" stroke="#0a0a0a" stroke-width="3.2"/>
<text x="62.80" y="836.8" font-size="28.5" textLength="30.3" lengthAdjust="spacingAndGlyphs" fill="#111">2.5</text>
<line x1="105.8" y1="761.9" x2="111" y2="761.9" stroke="#0a0a0a" stroke-width="3.2"/>
<text x="62.80" y="772.1" font-size="28.5" textLength="30.3" lengthAdjust="spacingAndGlyphs" fill="#111">3.0</text>
<text transform="translate(50.60 1017.60) rotate(-90)" font-size="28.4" textLength="168.1" lengthAdjust="spacingAndGlyphs" fill="#111">% total colonies</text>
<text x="127.75" y="1182.2" font-size="27.8" textLength="147.9" lengthAdjust="spacingAndGlyphs" fill="#111">Control siRNA</text>
<text x="302.80" y="1182.0" font-size="27.8" textLength="140.2" lengthAdjust="spacingAndGlyphs" fill="#111">GATA2 siRNA</text>
<rect x="464.5" y="839.4" width="805.8" height="108.6" fill="none" stroke="#0a0a0a" stroke-width="2.4"/>
<line x1="464.5" y1="875.4" x2="1270.3" y2="875.4" stroke="#0a0a0a" stroke-width="4.5"/>
<line x1="464.5" y1="911.4" x2="1270.3" y2="911.4" stroke="#0a0a0a" stroke-width="2.2"/>
<line x1="697.6" y1="839.4" x2="697.6" y2="948.0" stroke="#0a0a0a" stroke-width="2.3"/>
<line x1="812.0" y1="839.4" x2="812.0" y2="948.0" stroke="#0a0a0a" stroke-width="2.3"/>
<line x1="926.8" y1="839.4" x2="926.8" y2="948.0" stroke="#0a0a0a" stroke-width="2.3"/>
<line x1="1041.6" y1="839.4" x2="1041.6" y2="948.0" stroke="#0a0a0a" stroke-width="2.3"/>
<line x1="1151.5" y1="839.4" x2="1151.5" y2="948.0" stroke="#0a0a0a" stroke-width="2.3"/>
<text x="718.10" y="868.0" font-size="19.8" textLength="59.7" lengthAdjust="spacingAndGlyphs" fill="#111">BFU-E</text>
<text x="834.00" y="868.0" font-size="19.8" textLength="62.3" lengthAdjust="spacingAndGlyphs" fill="#111">CFU-G</text>
<text x="954.70" y="868.0" font-size="19.8" textLength="63.7" lengthAdjust="spacingAndGlyphs" fill="#111">CFU-M</text>
<text x="1056.50" y="868.0" font-size="19.8" textLength="79.5" lengthAdjust="spacingAndGlyphs" fill="#111">CFU-GM</text>
<text x="1156.25" y="868.0" font-size="19.8" textLength="110.0" lengthAdjust="spacingAndGlyphs" fill="#111">CFU-GEMM</text>
<text x="485.35" y="903.5" font-size="23.5" textLength="191.8" lengthAdjust="spacingAndGlyphs" fill="#111">with control siRNA</text>
<text x="482.15" y="939.7" font-size="23.8" textLength="198.1" lengthAdjust="spacingAndGlyphs" fill="#111">with GATA2 siRNA</text>
<text x="712.10" y="903.5" font-size="19.0" textLength="75.4" lengthAdjust="spacingAndGlyphs" fill="#111">4.7 ± 4.1</text>
<text x="829.10" y="903.5" font-size="19.0" textLength="76.9" lengthAdjust="spacingAndGlyphs" fill="#111">4.0 ± 1.4</text>
<text x="946.25" y="903.5" font-size="19.0" textLength="78.3" lengthAdjust="spacingAndGlyphs" fill="#111">6.7 ± 1.2</text>
<text x="1056.90" y="903.5" font-size="19.0" textLength="77.8" lengthAdjust="spacingAndGlyphs" fill="#111">3.3 ± 0.5</text>
<text x="1171.25" y="903.5" font-size="19.0" textLength="78.1" lengthAdjust="spacingAndGlyphs" fill="#111">0.7 ± 0.9</text>
<text x="712.10" y="939.7" font-size="19.0" textLength="76.9" lengthAdjust="spacingAndGlyphs" fill="#111">2.0 ± 1.6</text>
<text x="830.30" y="939.7" font-size="19.0" textLength="76.3" lengthAdjust="spacingAndGlyphs" fill="#111">1.7 ± 0.9</text>
<text x="946.25" y="939.7" font-size="19.0" textLength="78.3" lengthAdjust="spacingAndGlyphs" fill="#111">3.0 ± 0.8</text>
<text x="1057.80" y="939.7" font-size="19.0" textLength="76.9" lengthAdjust="spacingAndGlyphs" fill="#111">1.7 ± 0.9</text>
<text x="1171.25" y="939.7" font-size="19.0" textLength="78.1" lengthAdjust="spacingAndGlyphs" fill="#111">0.7 ± 0.5</text>
</svg></body></html>
